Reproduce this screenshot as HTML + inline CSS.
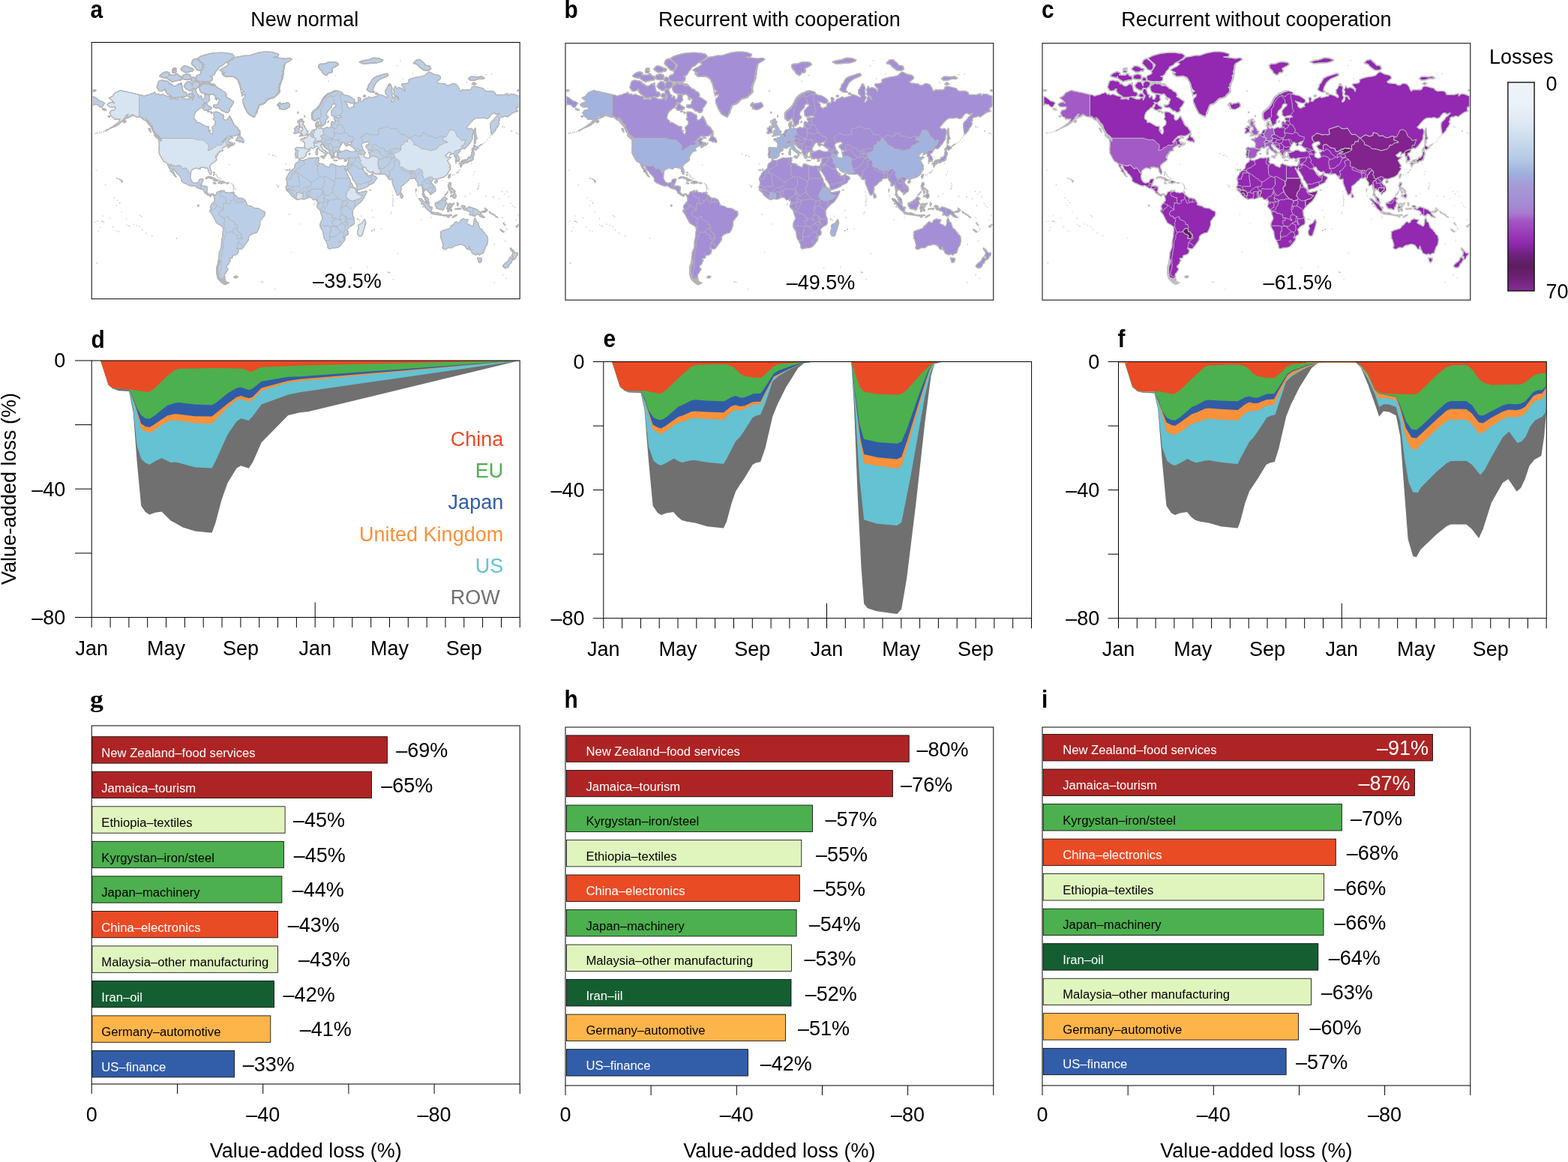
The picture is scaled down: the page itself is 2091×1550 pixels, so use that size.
<!DOCTYPE html>
<html><head><meta charset="utf-8"><title>Figure</title>
<style>html,body{margin:0;padding:0;background:#fff}svg{display:block}</style></head>
<body>
<svg xmlns="http://www.w3.org/2000/svg" width="2091" height="1550" viewBox="0 0 2091 1550">
<rect width="2091" height="1550" fill="#fff"/>
<defs>
<path id="mland" d="M267.7,94.9L267.5,95.8L268.2,97.6L266.4,99.5L266.2,99.5L265.8,99.5L262.6,100.7L262.0,101.3L261.2,104.0L261.2,104.4L260.9,104.1L257.8,103.0L256.7,103.2L255.2,104.7L254.9,105.4L254.9,107.3L255.1,108.0L255.8,108.3L258.9,108.6L258.2,109.1L256.6,111.4L256.4,111.9L256.4,114.3L256.4,113.8L256.3,113.4L254.4,109.9L253.6,109.4L250.5,109.0L249.6,109.3L247.3,111.6L247.1,111.8L245.6,114.1L245.4,114.7L245.6,115.2L247.1,117.6L247.4,117.8L249.8,119.4L249.9,119.5L253.0,121.0L253.7,121.1L254.2,120.8L256.6,118.5L256.8,117.7L257.2,118.0L258.2,118.2L255.9,120.8L256.2,124.6L259.5,127.9L257.8,131.6L256.6,133.9L256.6,130.9L255.0,130.2L257.2,129.7L257.6,129.4L257.8,128.8L257.4,126.2L256.9,125.5L253.7,124.5L252.9,124.7L250.5,127.4L250.3,128.1L250.8,128.7L253.9,130.3L254.0,130.3L252.7,132.2L247.2,132.2L242.4,130.2L241.5,129.2L242.5,129.1L246.3,129.4L246.9,129.2L249.3,126.9L249.5,126.0L248.7,123.7L248.1,123.1L245.2,122.5L244.0,121.1L243.2,117.6L242.4,113.7L241.9,113.1L238.8,112.0L238.0,112.1L235.7,114.0L233.0,115.0L230.2,114.0L228.0,111.8L227.2,111.6L225.6,112.1L226.0,111.7L226.2,111.1L225.9,110.6L223.2,108.3L222.7,108.1L219.7,108.1L216.7,107.0L216.2,106.9L212.2,108.1L211.7,108.6L210.4,112.1L210.4,112.1L209.3,116.4L209.4,117.0L211.8,120.9L212.3,121.3L214.7,121.6L215.1,121.6L218.2,120.5L218.5,120.3L220.4,118.8L220.4,118.9L220.8,119.3L221.4,119.6L220.9,119.7L220.4,120.2L220.4,120.9L222.0,123.6L222.1,123.8L224.5,126.2L224.7,126.3L227.7,127.9L229.2,129.8L229.7,130.1L234.5,130.4L234.7,130.4L236.8,130.0L237.7,130.9L236.9,133.2L234.5,131.6L229.8,132.2L226.6,131.9L228.2,130.9L226.6,128.6L223.5,128.3L220.3,127.3L216.4,125.6L212.4,127.0L211.6,124.9L209.3,126.3L206.1,122.9L203.7,124.6L201.4,124.9L198.2,126.6L195.1,127.0L191.9,128.3L188.7,126.6L185.6,126.3L179.3,124.9L174.5,123.6L171.4,123.2L168.2,122.2L165.1,121.9L161.0,120.5L157.2,122.2L153.2,123.9L150.1,128.3L145.3,130.6L150.1,134.5L152.7,137.8L149.3,136.2L145.6,137.4L142.9,139.3L143.7,140.6L145.6,142.5L148.0,142.8L150.8,142.8L153.2,142.5L154.3,143.5L153.2,146.0L150.8,146.9L148.5,147.1L147.7,148.3L146.1,150.8L147.2,152.2L147.7,154.4L150.1,156.3L152.4,157.1L152.7,159.2L155.1,158.9L157.6,159.2L160.0,158.9L159.5,160.5L158.0,163.2L155.6,165.0L153.2,166.6L150.8,168.5L148.5,170.1L150.8,169.6L154.0,168.3L156.4,167.2L158.7,165.3L161.1,163.7L162.7,161.8L164.7,159.7L165.8,157.4L167.7,155.2L169.3,153.0L171.4,152.4L169.3,155.0L168.7,157.9L171.7,156.6L173.7,155.8L174.8,153.6L177.2,153.0L179.3,154.7L181.6,155.8L185.1,156.1L188.0,156.6L190.6,158.9L192.7,160.5L194.6,160.2L196.6,161.0L197.9,163.7L199.3,165.8L200.6,168.0L202.5,169.1L203.0,171.2L204.9,173.8L206.4,176.8L207.2,179.6L209.6,180.6L211.6,182.1L213.7,183.5L214.3,184.5L215.1,186.4L214.8,188.5L213.7,186.4L211.3,185.9L212.0,188.5L212.4,191.0L212.4,193.8L212.3,196.4L211.8,198.8L212.3,201.3L212.0,203.6L212.7,205.1L213.2,206.9L214.6,208.7L215.1,210.1L215.9,211.7L217.5,213.9L218.0,215.4L220.0,216.0L221.3,216.7L222.7,217.7L223.3,219.2L224.1,221.0L225.1,222.9L225.9,224.5L227.4,226.0L227.9,227.4L227.0,228.3L228.9,229.7L230.6,230.6L230.9,232.0L231.9,233.7L233.4,235.1L234.7,236.3L235.3,235.6L234.1,234.3L233.1,233.1L232.5,231.0L231.4,229.2L230.4,227.4L229.2,225.3L227.4,223.4L226.8,221.6L227.4,220.7L229.3,221.6L230.1,223.3L230.9,225.3L232.2,226.9L233.8,228.3L235.2,229.5L235.6,231.3L237.4,232.5L239.3,234.4L240.9,236.7L242.0,238.7L241.6,240.4L242.4,242.1L244.3,243.6L246.4,244.6L248.3,245.4L250.8,246.6L253.2,247.6L255.4,248.2L257.4,248.2L259.0,247.6L260.4,248.4L262.5,250.2L263.8,251.0L265.7,251.3L267.4,252.1L269.3,252.5L270.2,253.0L271.5,254.4L272.8,256.0L273.1,257.6L274.3,258.1L276.1,258.9L276.5,260.0L277.5,260.5L279.2,261.0L280.3,261.9L281.6,261.8L281.4,260.5L282.4,259.7L283.5,259.4L284.6,260.8L285.2,262.1L286.0,264.0L286.0,265.6L286.3,267.5L285.5,269.1L284.3,269.6L283.8,271.0L282.7,271.9L281.9,272.7L281.3,274.0L280.7,275.1L280.5,277.0L281.4,277.4L281.9,278.2L281.1,279.2L279.9,280.8L280.0,282.2L280.7,283.3L282.2,284.9L283.5,287.0L284.4,288.9L285.4,290.7L286.3,292.6L287.4,294.2L287.9,295.8L289.3,297.8L291.4,299.1L293.8,300.3L295.5,301.6L297.1,303.1L297.4,304.9L297.6,307.4L297.2,310.0L296.9,312.6L296.8,315.2L296.3,317.8L295.7,320.1L295.5,322.3L295.2,325.0L295.3,327.8L294.9,330.7L293.8,333.1L293.0,335.5L292.2,336.9L292.2,339.5L291.9,342.5L291.5,345.7L293.0,347.8L293.0,349.9L292.2,352.8L290.9,355.0L289.0,356.6L288.9,359.0L289.0,362.5L289.2,366.2L289.8,369.2L290.9,372.0L293.0,374.4L295.3,376.6L297.7,378.5L300.1,379.6L303.2,378.5L305.3,377.1L303.2,376.6L300.9,375.2L300.4,372.6L299.0,371.8L296.9,373.9L296.4,372.0L298.5,371.3L300.2,370.7L299.3,368.2L299.6,365.7L301.5,363.7L302.8,361.3L304.3,359.0L302.8,357.6L301.7,355.5L303.2,353.7L305.1,352.1L305.6,349.5L307.5,347.8L305.9,346.7L305.6,344.6L308.0,344.8L309.9,343.8L310.0,341.5L311.1,340.5L313.5,340.3L315.9,339.3L317.3,337.5L318.2,335.1L317.8,333.1L316.0,331.8L316.2,330.7L318.2,331.6L320.1,332.2L322.2,332.0L323.8,330.7L325.2,329.1L326.4,326.9L328.0,325.0L329.3,323.0L330.9,321.0L331.5,319.2L331.5,316.9L332.1,315.2L334.0,313.4L335.9,312.4L337.7,311.4L340.0,310.8L342.1,310.5L343.5,308.4L344.6,306.2L345.4,304.1L346.2,302.1L346.7,299.9L346.7,297.5L346.7,295.5L347.8,293.9L349.0,292.3L350.1,290.7L351.7,289.1L352.8,287.5L353.3,285.4L353.1,284.1L352.7,282.2L351.4,281.6L349.8,281.2L348.2,280.1L346.3,278.9L344.3,277.9L341.9,277.9L339.6,277.4L338.0,277.3L336.7,276.0L334.8,275.1L332.8,274.6L331.7,274.3L330.1,273.8L328.5,273.2L329.4,271.6L328.5,270.3L327.7,268.8L326.9,266.7L325.3,265.8L323.8,264.8L322.2,264.3L319.8,264.3L317.4,263.8L315.9,262.4L313.8,260.3L312.2,259.9L311.9,258.3L310.3,257.6L309.2,256.5L307.2,256.8L305.6,257.5L303.2,256.7L300.9,256.8L300.1,256.0L298.2,255.2L297.7,254.1L297.4,255.2L296.1,255.9L295.3,256.3L294.9,255.5L295.8,254.4L295.0,253.8L293.8,254.7L292.2,255.5L290.1,255.9L289.0,256.7L288.7,258.3L287.8,259.4L287.0,260.8L286.0,259.9L285.1,259.2L283.8,258.6L282.5,258.4L281.4,259.1L280.0,259.5L278.8,259.1L277.5,258.1L276.4,256.7L275.9,255.7L276.2,253.6L276.5,251.5L276.7,249.5L275.6,248.7L274.0,248.1L271.7,248.2L269.6,248.2L268.0,248.1L268.8,246.6L269.0,244.9L269.6,243.9L270.1,241.9L271.2,239.9L270.5,238.7L268.0,238.7L265.8,239.6L265.3,240.4L264.9,242.4L263.8,243.6L261.7,243.8L259.5,244.3L258.2,243.6L256.6,242.9L255.9,241.6L254.4,239.1L253.8,236.5L254.0,233.6L254.6,231.0L254.6,228.5L255.9,226.9L257.8,225.8L259.0,224.7L261.4,224.3L263.8,224.7L265.8,225.4L267.2,225.1L266.8,223.4L267.7,223.3L269.6,223.3L272.0,223.1L273.7,224.3L275.1,223.8L276.4,224.2L277.7,226.0L277.8,228.3L279.1,230.8L280.0,232.4L281.1,232.4L281.6,231.5L281.8,229.2L281.0,226.5L279.9,224.2L279.7,222.3L280.3,220.3L281.9,219.0L283.5,217.3L285.4,216.3L287.4,214.8L288.9,213.3L288.4,211.3L287.4,210.1L287.8,207.5L288.2,210.5L288.9,208.9L289.7,207.3L289.2,205.5L290.1,206.5L291.2,204.9L291.4,203.2L293.8,202.6L291.7,202.6L293.8,201.8L295.7,201.3L297.7,200.9L296.9,200.5L296.4,198.8L297.1,197.1L298.5,196.2L300.1,195.3L302.1,194.6L302.4,193.8L304.0,193.3L305.9,193.3L303.7,195.3L304.3,197.1L306.4,196.0L308.0,194.6L311.6,193.3L311.6,192.5L310.3,192.0L308.0,191.7L306.1,191.0L305.9,189.2L304.3,188.0L304.8,186.6L306.7,185.4L305.9,184.2L303.2,184.2L300.1,186.2L297.7,189.2L295.8,189.7L296.9,188.7L299.3,185.7L301.7,183.8L302.9,182.1L306.4,181.3L310.3,181.6L313.5,181.3L315.9,180.1L318.6,178.3L320.3,176.5L319.8,174.4L317.8,172.8L316.7,170.1L313.5,168.3L311.6,165.6L310.0,161.8L308.0,158.4L306.1,154.7L304.3,157.6L302.4,159.7L300.1,160.5L298.2,158.4L298.5,155.8L297.7,153.0L295.3,152.7L293.8,151.3L291.4,149.7L288.2,149.1L285.1,149.4L285.1,153.6L285.9,156.3L284.3,158.9L285.9,160.2L287.3,162.9L286.7,166.4L284.3,168.3L282.7,170.4L283.5,173.0L283.8,176.2L282.7,178.8L281.1,178.8L280.3,177.0L278.4,174.6L278.4,172.5L278.3,168.8L274.0,168.3L270.9,166.6L268.5,165.0L264.9,163.2L262.3,163.7L261.7,160.5L259.3,159.2L258.5,157.1L258.9,154.4L260.1,150.8L262.2,148.0L265.3,146.0L266.1,144.4L268.5,143.8L270.5,140.3L272.3,138.7L272.0,141.7L270.4,144.1L270.4,144.5L270.5,144.8L272.9,147.2L273.3,147.4L275.7,147.1L275.8,147.0L278.1,146.2L280.3,146.2L280.8,145.9L282.0,144.0L282.1,143.7L281.9,143.3L279.8,142.1L279.8,142.1L277.5,140.8L275.7,138.7L275.3,138.5L272.8,138.2L272.5,138.3L271.3,136.5L273.5,137.1L275.9,137.4L278.3,135.2L279.9,132.9L278.8,130.2L279.5,127.6L277.2,126.0L273.2,126.0L273.2,129.3L271.7,132.6L269.3,132.2L269.3,129.3L267.7,127.6L266.1,130.2L264.5,129.9L265.3,126.6L263.0,126.0L261.7,121.9L260.6,118.9L258.9,118.4L260.4,118.7L261.2,118.6L265.2,115.5L265.5,114.9L266.6,111.1L266.6,110.4L266.1,109.9L262.6,108.3L262.1,108.2L260.4,108.4L260.8,108.0L261.5,105.4L262.0,106.9L262.6,107.5L265.8,108.7L266.0,108.7L270.8,109.1L270.9,109.1L279.5,109.1L280.1,108.9L282.5,107.4L282.9,106.6L282.9,103.5L282.7,102.9L282.3,102.6L280.4,101.9L282.9,101.5L283.3,101.3L285.7,99.3L286.0,99.0L287.5,95.6L290.5,92.5L290.7,92.3L292.1,89.4L296.6,87.3L296.8,87.1L299.9,84.0L304.5,81.8L304.6,81.8L309.3,78.6L309.5,78.4L311.9,75.7L312.1,75.0L311.8,74.3L309.5,72.0L308.9,71.8L302.6,70.8L302.5,70.8L297.8,70.4L297.7,70.4L291.4,70.4L291.3,70.4L285.0,70.8L284.9,70.8L278.6,71.8L278.5,71.8L272.2,73.6L272.1,73.6L267.3,75.4L267.2,75.5L264.0,77.3L263.6,78.1L263.9,79.0L267.1,81.7L267.1,81.7L270.2,84.4L270.2,84.4L272.8,86.7L271.6,89.5L269.4,92.5L270.4,90.7L270.6,89.8L269.8,85.3L269.4,84.5L265.4,80.9L265.3,80.8L262.1,78.5L260.9,78.4L257.7,79.7L257.0,80.4L255.5,84.0L255.4,84.8L255.7,85.5L258.9,88.6L262.8,93.1L263.6,93.6L267.6,94.0L268.7,93.5ZM229.8,93.2L234.5,93.2L235.3,91.4L231.4,90.9ZM253.5,94.5L256.6,95.4L258.2,92.7L255.9,90.9L254.6,91.6L254.6,91.5L254.1,90.8L250.9,89.0L250.6,88.8L245.8,87.9L244.7,88.3L241.6,91.4L241.2,92.4L241.8,93.3L246.5,96.4L247.3,96.6L252.0,96.2L253.0,95.5L253.5,94.5ZM232.2,93.6L229.8,95.0L229.8,96.7L233.8,97.4L235.3,95.0ZM222.7,104.3L222.9,104.7L226.1,107.0L226.1,107.0L229.3,109.0L230.1,109.1L234.0,107.9L237.9,107.2L241.0,106.8L241.6,106.5L241.9,105.9L242.2,102.9L242.0,102.2L241.4,101.8L238.3,101.1L237.0,98.8L236.4,98.4L235.6,98.5L232.7,100.2L229.1,100.2L226.0,99.9L225.5,99.9L225.1,100.0L226.0,98.2L226.0,97.4L225.4,96.9L222.2,95.7L221.5,95.7L216.8,97.6L216.5,97.8L213.4,100.5L213.0,101.1L213.2,101.8L213.7,102.2L218.4,103.7L219.1,103.7L219.8,103.5L219.5,103.9ZM222.5,102.6L222.5,102.7L222.2,102.7ZM254.5,101.2L254.3,100.7L253.9,100.3L249.9,98.8L249.2,98.8L244.5,100.3L243.8,101.0L243.0,104.0L243.2,104.8L243.8,105.3L248.5,106.4L248.8,106.4L253.6,106.0L254.2,105.7L254.5,105.0ZM240.1,112.3L242.4,112.7L242.4,111.2L240.9,110.8ZM124.0,121.9L127.2,121.5L127.9,120.5L124.0,119.7ZM138.2,139.7L139.8,137.8L136.6,135.5L133.5,134.9L130.3,132.2L127.2,129.9L124.0,128.6L124.0,141.2L126.4,138.7L127.9,139.7L130.3,139.7L131.9,141.6L134.3,143.1L136.2,143.1ZM139.8,145.4L136.9,145.0L136.9,146.3L139.8,146.9L141.7,146.6ZM279.5,148.8L278.8,148.3L277.2,147.7L276.7,148.8L278.0,149.4ZM281.1,149.1L281.4,150.8L282.4,151.3L283.0,150.2ZM144.1,155.2L146.1,156.3L146.6,155.0L145.3,154.7ZM167.4,160.5L165.4,161.0L164.3,162.3L165.8,163.7L167.7,162.3ZM200.3,173.6L200.1,171.7L198.2,171.5L199.3,173.8L201.1,176.5ZM281.1,174.4L279.1,173.8L280.3,174.9ZM208.5,183.3L210.9,185.2L213.2,186.2L213.2,184.5L210.9,182.1L208.5,180.6L205.6,180.3ZM159.2,238.9L158.4,238.7L158.9,239.2ZM161.7,239.9L160.8,239.7L161.3,240.2ZM161.9,240.9L161.9,242.1L162.7,242.9L163.5,241.6ZM263.8,274.0L264.2,275.1L265.3,274.3L264.5,273.5ZM315.1,103.5L317.4,107.3L319.8,111.6L320.6,115.8L322.2,119.3L325.3,121.9L321.9,123.6L323.8,127.0L327.7,126.0L326.9,128.9L324.1,131.6L323.4,134.9L324.2,138.1L325.8,141.2L327.2,144.4L328.8,147.4L330.4,150.2L331.7,152.4L334.0,153.6L336.4,155.0L338.3,156.1L339.9,155.2L340.7,153.0L341.1,150.2L342.7,147.4L344.1,144.4L345.1,141.2L347.5,139.3L350.6,138.7L353.8,137.1L356.1,133.9L358.5,131.2L362.5,130.9L366.4,129.3L368.0,126.3L370.4,124.3L373.5,122.9L373.0,119.3L370.4,116.6L373.5,115.4L371.9,112.7L374.3,110.0L375.9,107.3L377.5,104.3L375.1,101.2L378.2,98.6L376.7,95.4L379.0,91.8L378.2,87.7L380.6,84.6L385.4,81.8L389.3,79.1L386.1,77.3L379.8,78.2L373.5,77.3L364.0,76.4L370.4,75.5L371.9,72.3L365.6,70.0L359.3,69.1L351.4,69.1L343.5,70.5L337.2,72.3L332.4,74.1L326.1,74.1L319.8,75.5L313.5,76.4L310.3,79.6L306.4,80.9L302.4,83.7L305.6,85.5L301.7,88.6L296.9,90.9L293.0,93.6L296.1,95.4L300.1,97.0L296.1,98.6L298.5,101.2L301.7,102.4L306.4,102.0L311.1,102.0ZM278.1,110.4L277.8,110.4L274.9,112.2L272.7,110.1L272.3,110.0L269.2,110.8L269.0,110.9L266.7,112.8L266.5,113.0L265.7,116.9L265.7,117.1L266.5,120.6L266.6,120.7L268.2,123.1L268.3,123.3L271.5,124.6L271.6,124.6L274.7,125.3L274.8,125.3L278.7,125.7L281.8,126.3L282.1,126.3L284.2,125.4L286.3,127.5L287.9,130.1L288.1,130.3L291.2,131.3L292.8,133.0L291.7,135.3L291.6,135.4L291.0,138.5L288.9,140.2L285.1,140.2L284.8,140.3L284.7,140.7L285.0,142.9L285.1,143.1L285.3,143.2L288.1,143.8L288.3,143.9L291.3,143.6L294.3,146.0L296.6,148.3L296.9,148.4L299.1,148.4L300.6,149.9L300.9,150.1L304.0,150.1L304.3,149.9L306.2,147.7L306.3,147.4L306.0,144.5L308.3,142.1L308.3,142.1L309.9,139.6L309.9,139.5L311.5,136.7L311.5,136.3L310.7,134.7L310.5,134.5L308.2,133.5L305.9,131.6L305.8,131.5L301.3,129.1L302.0,126.7L302.0,126.4L300.4,123.4L300.2,123.2L297.2,121.9L294.8,119.4L294.7,119.3L291.6,118.2L289.3,115.9L289.2,115.9L286.8,114.7L286.8,114.7L285.2,114.2L287.4,113.9L285.1,112.3L280.9,112.0L280.7,111.4L280.5,111.2ZM281.5,113.9L283.2,114.1L281.7,114.6ZM286.7,131.6L289.0,133.2L289.8,131.9L288.2,130.6ZM379.0,146.3L381.4,145.4L384.1,143.8L386.1,142.5L386.6,140.3L384.9,137.4L383.0,136.5L381.4,137.8L379.0,137.8L376.7,138.1L375.1,139.3L373.5,136.8L371.9,137.4L369.9,139.7L372.7,140.3L370.4,141.6L372.7,141.9L373.5,143.5L372.4,145.0L374.3,145.0L376.4,146.0ZM398.0,149.4L396.6,149.7L397.5,151.1ZM406.7,154.7L405.9,154.1L406.2,156.1ZM438.1,161.3L437.0,163.4L438.3,162.6ZM425.9,168.3L427.5,169.1L428.1,167.2L427.2,166.1ZM425.1,167.7L423.8,168.5L424.0,167.7L425.3,165.6L424.7,164.0L425.0,161.8L423.6,162.9L421.7,163.4L421.2,165.0L421.2,167.7L421.8,169.3L422.1,171.7L421.2,172.8L419.6,172.8L418.5,173.0L416.6,173.6L415.7,174.9L414.9,177.0L413.8,178.3L412.5,179.1L411.1,179.6L410.8,180.8L410.1,182.1L408.6,183.3L407.5,183.8L406.4,183.3L405.6,183.0L405.9,185.2L405.1,185.4L403.5,185.0L401.9,185.2L400.8,186.2L401.6,187.3L403.5,187.8L404.6,188.5L405.1,189.7L406.2,190.8L406.5,192.2L406.4,193.8L406.2,195.5L405.7,197.3L404.3,197.3L402.7,197.1L400.4,197.1L398.0,196.8L396.1,196.4L395.1,197.1L393.7,198.1L394.2,199.9L394.5,202.0L394.2,204.1L393.7,205.7L393.4,206.9L394.4,207.7L394.4,208.7L394.2,210.5L395.9,210.5L397.2,210.1L398.1,210.9L398.8,212.1L399.9,212.3L401.3,211.1L403.0,211.1L404.8,210.9L405.7,209.9L407.0,209.1L407.5,207.9L408.6,206.9L407.8,205.7L408.2,204.7L409.4,203.0L410.1,202.2L411.9,201.6L413.3,200.5L413.1,199.2L413.5,197.7L414.6,197.1L416.1,197.3L417.7,197.9L419.0,197.5L420.1,196.4L421.2,196.0L422.1,195.1L423.3,195.3L424.4,196.4L424.8,198.1L425.6,199.2L426.7,199.9L427.7,200.9L428.8,201.8L430.0,202.0L431.1,203.2L431.9,204.1L432.9,204.5L433.5,205.5L433.5,206.9L433.0,208.3L433.7,208.7L434.3,207.3L435.3,206.5L434.5,205.3L434.6,204.5L435.4,203.6L437.0,204.9L437.5,204.3L436.7,203.4L435.1,202.4L433.5,201.6L433.5,200.5L431.6,200.3L430.4,198.8L429.7,197.1L428.5,196.0L427.8,194.9L427.8,192.9L429.1,192.0L429.7,192.6L430.0,194.0L431.0,193.3L431.9,194.6L432.7,196.0L434.0,197.1L435.6,197.9L437.1,199.0L438.3,199.9L439.0,200.7L438.9,202.4L439.0,203.9L440.1,205.3L441.1,206.5L441.7,207.7L443.8,207.9L441.9,207.9L442.0,209.5L442.7,210.9L443.5,211.5L444.3,211.3L444.9,209.9L445.0,208.7L446.1,209.1L446.1,208.1L444.9,207.1L444.3,205.9L444.1,204.5L444.6,203.6L445.4,204.5L446.1,203.9L446.9,202.6L448.5,202.6L449.6,203.0L450.9,203.0L452.5,202.4L454.0,202.0L454.8,202.4L454.0,203.4L451.7,203.6L449.6,204.1L449.6,205.5L450.6,205.5L450.9,206.7L450.1,207.9L451.2,208.9L451.7,210.5L452.9,211.1L454.5,212.1L456.1,211.9L456.9,210.9L458.8,212.1L460.4,212.3L461.9,211.9L463.0,210.9L464.3,211.3L465.4,211.1L464.8,212.5L464.9,214.4L464.3,216.5L463.5,218.4L463.0,220.1L462.3,221.4L460.4,221.8L458.8,221.6L457.2,221.0L455.3,221.6L453.3,222.0L450.9,221.4L448.0,220.9L446.9,220.1L444.9,219.6L443.0,218.4L441.1,218.8L439.8,220.1L439.8,222.2L438.6,223.3L436.7,222.5L434.3,221.6L432.6,220.9L431.9,219.4L429.6,218.4L427.7,218.4L425.9,217.9L424.8,216.9L424.2,215.8L425.3,214.0L424.8,212.5L425.6,210.5L424.4,211.3L424.5,210.3L423.7,209.9L421.7,210.7L419.3,210.5L416.9,211.1L415.4,210.7L413.0,210.7L410.6,211.5L408.6,212.5L406.7,213.1L405.1,214.2L403.5,213.9L401.1,214.0L399.9,212.7L398.9,212.9L398.5,214.0L397.8,215.8L396.7,216.7L394.8,217.7L393.6,219.6L392.8,221.4L392.9,223.3L392.1,224.9L390.9,226.0L389.3,227.2L387.7,227.8L386.9,229.2L385.5,230.4L384.9,231.8L384.1,233.6L383.0,235.0L382.2,237.0L381.4,239.1L381.7,239.6L382.4,241.6L382.8,242.9L382.8,244.9L382.4,247.1L381.7,248.7L380.8,250.0L382.0,251.2L381.7,252.3L381.9,253.9L383.3,254.9L384.6,256.0L385.4,256.8L386.6,257.9L387.2,259.2L388.0,260.5L389.3,261.6L390.6,262.7L392.0,263.7L393.6,264.8L395.1,265.9L396.4,266.5L398.8,265.8L400.4,265.4L401.9,265.3L403.5,265.6L405.1,265.9L406.7,265.4L408.2,264.8L409.8,264.2L411.4,263.5L413.5,263.4L415.4,263.7L416.6,265.1L417.4,266.5L418.8,266.7L420.1,266.4L422.0,266.2L422.9,267.2L423.7,268.4L423.7,269.9L423.3,271.4L423.3,273.0L422.5,274.3L422.5,275.4L423.3,277.0L424.5,278.2L426.1,279.8L427.2,281.4L427.5,283.0L428.1,285.1L428.8,287.5L429.6,289.1L430.0,291.0L429.7,292.9L428.5,294.7L427.5,297.1L426.9,299.1L426.9,301.6L427.5,303.6L428.8,305.7L429.9,307.4L431.0,309.6L431.0,311.7L431.6,314.3L431.9,316.9L432.7,318.7L434.0,320.5L435.1,322.3L435.9,324.7L437.0,326.9L437.0,328.8L437.5,331.0L439.0,332.0L440.6,331.8L443.0,331.0L445.4,330.7L447.7,330.7L449.3,330.3L451.4,329.7L453.3,328.2L454.8,326.5L456.4,324.7L457.7,322.7L459.3,321.0L460.0,318.9L459.9,316.9L460.4,315.2L461.9,314.1L464.0,313.1L464.3,310.8L464.0,308.8L463.0,307.1L463.5,305.6L465.1,303.9L466.7,302.4L468.3,301.2L470.6,300.3L472.2,298.8L472.7,297.1L472.4,295.0L472.2,292.6L472.0,290.2L471.1,289.1L470.3,286.5L470.5,284.4L469.5,283.0L470.3,280.8L471.4,279.0L472.2,277.6L473.5,276.3L474.6,275.1L476.2,273.5L478.2,271.6L480.6,270.0L482.5,268.0L484.1,265.6L485.6,263.2L486.9,260.8L488.0,258.7L488.9,256.8L489.1,254.7L488.0,254.7L485.6,255.5L483.3,255.9L480.9,256.5L478.5,257.0L476.9,255.7L475.8,255.2L476.6,255.1L476.5,253.6L474.9,252.3L473.5,250.8L471.9,249.7L470.6,248.7L469.8,246.6L469.0,244.4L467.3,243.1L467.2,240.8L466.7,239.1L465.9,237.4L464.6,235.5L464.0,233.9L462.9,231.7L461.9,229.5L461.2,227.6L460.0,226.0L459.4,224.3L459.9,224.0L460.7,225.8L461.3,226.9L462.3,227.8L462.7,227.1L463.4,224.7L463.7,227.2L464.6,228.7L465.9,230.4L466.8,231.7L467.5,233.2L468.7,234.8L469.8,236.7L470.0,238.7L470.9,240.2L472.5,241.8L473.5,243.6L474.6,245.4L475.7,247.1L475.8,248.7L476.0,250.4L476.6,252.3L477.4,253.4L479.3,253.1L480.9,252.3L483.3,251.7L485.6,251.0L488.0,249.5L490.7,248.6L491.2,247.4L493.5,246.4L495.4,245.4L497.5,244.6L499.4,243.1L499.7,241.6L500.9,240.2L502.2,238.7L502.7,237.2L501.7,236.3L500.6,235.1L498.7,234.6L497.6,233.6L497.2,232.2L497.3,230.4L496.7,231.0L495.6,232.4L494.3,233.9L492.7,234.3L490.8,234.3L489.3,233.9L489.6,233.1L489.7,231.7L489.1,230.8L488.5,231.7L488.2,232.7L487.4,231.5L487.5,230.3L486.7,229.4L485.6,228.3L484.8,226.9L484.2,225.6L483.9,224.2L484.8,223.8L485.6,223.1L487.2,223.4L488.0,224.5L488.8,226.2L489.6,227.6L491.2,228.3L492.7,229.5L494.3,229.9L495.9,229.5L497.5,229.0L498.3,230.4L499.5,231.7L501.4,232.0L503.8,232.2L505.8,232.5L507.7,232.4L509.8,232.4L511.7,232.2L513.3,232.2L514.1,233.4L515.2,234.8L516.4,235.5L517.5,236.3L519.3,236.2L518.8,236.8L517.2,237.4L518.3,238.6L519.6,239.7L521.2,239.7L522.3,239.2L522.7,238.4L523.1,239.6L523.2,241.3L523.2,242.9L523.5,244.9L524.2,246.7L524.8,248.4L525.6,250.0L526.2,251.8L526.7,253.6L527.5,255.2L528.3,256.8L528.9,258.7L529.8,260.2L530.6,260.7L531.4,260.0L532.2,259.2L533.3,258.4L534.3,257.1L534.3,255.7L534.6,253.9L535.1,252.3L534.6,250.4L535.1,248.6L536.6,247.6L538.2,246.6L539.8,244.9L541.2,243.6L542.5,242.1L544.1,241.4L545.3,240.4L545.6,238.9L546.9,238.2L548.0,238.4L549.6,238.2L551.2,237.9L552.0,237.0L553.2,237.4L553.8,239.4L554.8,240.6L555.9,241.8L556.7,242.9L557.5,244.6L557.2,246.3L557.5,247.9L558.7,248.2L560.2,247.4L561.3,246.3L562.4,247.1L562.5,248.7L563.0,250.4L563.5,252.3L564.1,254.1L564.1,256.0L564.0,257.6L563.3,259.2L563.6,260.7L564.6,261.1L565.5,262.1L566.3,263.1L566.6,264.2L566.8,265.6L567.3,267.2L568.1,268.4L569.0,269.4L570.6,270.7L571.9,271.4L572.8,271.1L571.9,269.4L571.5,268.1L571.7,266.7L571.2,265.3L570.1,264.0L569.0,263.1L568.1,262.6L567.0,261.9L566.3,260.2L565.9,258.9L564.9,258.3L565.1,256.3L565.9,254.9L566.2,253.6L566.5,252.1L567.6,252.1L567.7,253.3L569.6,253.9L570.6,254.7L571.2,256.0L571.9,256.7L573.0,256.8L574.1,257.3L573.7,258.1L573.9,259.9L574.9,259.2L576.4,258.4L576.7,257.3L577.7,256.8L579.3,256.0L580.7,254.7L580.9,253.1L580.7,251.2L580.1,249.2L579.1,247.9L577.7,246.7L576.4,245.3L575.3,243.8L575.3,242.6L576.4,240.9L577.2,239.6L578.8,238.7L580.1,238.6L581.6,238.9L581.6,240.6L582.4,240.8L582.7,239.2L584.3,238.7L585.9,238.2L587.5,237.5L589.1,237.0L591.0,236.5L592.7,235.6L594.3,234.4L595.5,233.4L597.0,232.0L597.4,230.4L598.5,228.8L599.8,227.2L600.6,225.8L600.6,224.0L599.0,223.3L600.8,222.2L600.6,220.5L599.3,219.2L598.5,217.3L597.4,215.6L596.6,214.2L598.1,212.7L599.0,211.7L600.9,210.7L601.5,209.7L599.3,209.1L597.8,209.7L596.2,209.7L594.9,208.5L594.0,207.3L594.6,206.3L596.2,205.7L597.8,204.1L599.3,202.8L600.9,203.6L600.6,205.5L599.6,206.9L601.2,206.1L603.0,205.1L604.5,204.7L606.1,205.5L605.6,207.3L606.0,208.9L607.5,209.1L608.0,210.5L608.3,211.5L607.9,213.5L607.7,215.4L608.8,215.2L610.4,214.8L612.0,214.2L612.8,212.9L612.6,210.9L611.6,209.1L610.7,207.3L609.4,206.1L609.8,204.9L611.6,204.1L613.1,202.8L613.5,200.9L614.6,199.6L615.6,198.8L617.2,197.7L619.1,198.6L621.4,197.1L623.0,195.1L624.6,193.3L626.5,190.8L627.8,188.7L629.6,186.2L630.1,183.8L630.1,180.8L630.9,178.3L631.4,175.7L630.6,173.0L628.5,171.2L626.2,172.3L624.3,171.7L622.2,169.9L624.6,167.2L627.0,164.2L629.3,161.8L631.7,159.4L634.9,157.6L638.0,157.6L641.2,157.6L644.3,156.8L646.7,157.6L649.1,158.4L652.2,157.1L653.8,154.4L657.0,151.1L660.6,151.1L661.4,153.0L664.1,151.6L666.4,151.1L663.3,154.4L660.4,156.6L657.8,160.5L655.9,161.8L654.1,164.5L653.8,168.5L654.3,172.3L654.9,176.5L655.7,179.6L657.0,178.3L658.5,176.5L660.6,174.4L661.4,171.7L663.8,169.1L664.9,166.4L666.0,164.8L664.4,162.3L666.0,161.0L666.1,157.6L668.0,156.3L670.4,156.3L673.5,154.7L676.7,156.1L678.3,154.7L681.4,152.4L684.6,150.2L687.8,149.1L690.9,148.3L688.6,146.9L689.3,142.8L690.9,143.1L692.5,141.2L692.5,128.6L688.6,127.0L684.6,125.6L680.7,125.3L677.5,128.3L677.5,124.9L674.3,125.6L671.2,126.6L667.2,126.3L663.3,126.6L660.9,126.0L660.1,123.2L657.0,121.5L653.0,121.5L649.1,121.9L645.9,120.1L644.3,117.8L640.4,117.0L636.4,115.8L632.5,115.1L629.3,116.2L628.5,118.9L626.2,120.1L623.0,119.7L619.9,120.1L616.7,119.7L614.3,121.9L612.8,119.7L611.2,115.8L608.8,112.7L605.6,111.6L602.5,111.6L599.3,113.9L596.2,113.9L593.8,111.9L589.9,111.6L586.7,111.2L583.5,110.8L582.0,109.2L584.3,107.3L587.5,105.0L587.5,102.4L584.3,100.1L581.2,99.7L578.0,98.9L575.6,97.4L572.5,95.9L569.3,97.8L567.0,100.5L563.8,101.6L559.9,102.4L555.9,102.8L552.0,103.9L548.0,105.0L544.8,106.6L545.6,108.9L544.1,110.8L540.1,111.6L536.2,111.9L535.7,113.9L537.7,116.2L540.1,118.9L539.3,122.2L537.7,118.9L535.4,117.8L532.2,116.6L529.1,117.8L526.7,114.7L525.9,117.8L524.3,120.1L525.9,122.2L524.8,125.6L526.4,127.6L529.1,127.6L531.1,129.9L532.2,132.9L530.6,132.2L529.8,129.9L527.5,128.6L525.6,129.9L525.9,132.2L524.8,134.9L522.7,136.5L521.6,135.5L523.5,132.2L524.3,129.6L522.7,127.3L523.1,123.9L522.3,120.8L523.1,117.8L522.0,114.7L519.6,113.9L517.2,114.7L516.1,117.8L513.7,120.5L514.1,122.5L514.1,125.3L515.9,126.6L517.2,128.6L516.1,130.6L514.1,128.9L511.7,127.9L509.3,127.0L506.2,126.0L504.3,126.0L503.8,128.3L501.4,128.6L499.1,129.3L496.7,129.9L494.3,130.6L492.7,128.9L490.4,130.2L487.2,131.6L484.8,132.6L483.6,134.9L481.7,135.5L480.1,134.9L481.4,132.2L480.1,130.2L477.4,130.2L477.7,132.9L478.0,135.5L476.9,137.4L474.6,136.8L472.5,138.4L471.4,140.3L472.2,142.5L470.6,142.5L468.3,143.5L466.7,144.7L464.3,143.1L463.0,141.9L463.0,139.0L461.2,137.1L459.6,134.9L461.2,135.8L463.5,136.2L465.9,137.1L468.3,137.8L470.6,137.8L472.7,136.8L473.3,134.9L472.2,132.6L469.8,130.9L467.5,129.3L465.1,127.9L462.7,127.3L460.4,127.0L458.0,126.0L455.6,125.6L457.2,124.3L455.6,122.9L453.3,122.2L451.7,121.5L449.3,121.2L447.7,121.5L445.4,121.9L443.0,123.2L440.6,124.6L438.3,125.3L436.2,127.0L434.3,128.9L432.4,130.6L431.3,132.2L429.7,134.5L428.5,136.8L427.5,139.0L426.1,141.2L424.8,142.8L423.7,145.0L421.7,145.7L419.8,147.4L418.2,148.3L416.5,149.9L416.0,152.2L416.3,154.4L416.5,157.1L417.4,159.2L419.3,161.0L421.4,160.5L422.9,159.4L424.5,158.4L425.0,157.4L425.9,158.9L426.7,161.3L427.5,163.7L428.3,165.8L428.8,168.0L430.7,168.0L431.1,166.1L433.0,166.1L434.0,164.8L434.5,162.3L434.6,160.0L436.4,158.7L437.9,156.6L437.5,155.2L435.4,153.6L435.6,151.6L436.4,149.4L437.8,147.4L439.8,145.7L441.7,143.5L442.2,141.2L443.5,139.0L446.1,138.7L448.2,139.3L448.0,141.2L446.1,142.8L444.1,145.0L442.4,146.9L441.7,148.8L442.2,151.1L442.0,153.8L443.8,155.0L445.4,156.1L448.5,155.0L451.7,154.4L454.0,154.7L455.9,156.1L454.4,155.8L452.5,157.1L450.1,156.8L447.4,157.1L445.4,157.9L445.5,159.4L446.8,161.0L446.6,163.2L445.4,163.7L444.1,162.1L442.7,162.1L441.7,163.2L441.4,165.0L441.6,166.9L441.4,169.1L439.8,170.4L438.3,170.9L437.5,169.9L435.9,169.6L434.0,170.7L431.9,171.5L430.7,172.0L428.8,170.7L427.2,171.2L425.6,171.7L424.4,170.4L423.6,169.3L423.8,168.5L425.3,168.8ZM452.6,201.1L452.5,200.3L452.0,198.8L452.5,197.5L453.4,196.4L453.6,194.9L455.0,193.3L455.9,192.0L456.9,190.4L458.5,190.1L459.6,191.3L461.2,191.5L461.3,192.0L459.9,192.6L461.0,194.6L462.3,194.9L464.0,193.8L465.9,193.3L466.2,192.9L464.3,192.6L463.5,191.0L465.9,189.9L467.8,189.0L470.2,188.7L468.6,190.1L467.9,191.5L468.7,191.7L467.3,193.1L466.7,194.2L468.6,195.3L470.3,196.6L471.9,197.9L473.6,199.0L474.1,200.7L473.5,201.8L471.4,202.4L469.5,202.4L467.5,202.2L465.9,201.8L464.3,200.9L463.5,200.3L461.9,200.3L460.4,200.5L458.8,200.9L457.5,202.0L455.6,202.2L454.0,202.0ZM482.5,192.4L484.1,190.8L485.6,190.4L487.2,189.9L489.1,189.2L491.2,189.4L492.3,190.8L491.9,193.1L490.4,192.9L489.3,193.1L489.1,194.6L487.7,195.3L488.5,196.4L489.3,197.7L490.8,198.6L491.5,200.3L491.2,201.1L492.4,200.5L494.3,200.5L494.6,202.4L493.2,203.0L491.8,203.0L491.8,204.5L492.7,205.7L493.1,207.5L493.4,209.7L491.9,210.7L490.1,211.1L488.5,210.7L487.2,209.7L485.6,209.3L485.5,207.7L485.9,206.1L486.4,204.1L487.7,203.6L486.4,202.8L485.6,201.3L484.8,200.3L483.7,198.6L483.3,197.1L482.8,195.5L482.2,194.4ZM409.4,178.3L410.1,177.3L410.9,175.4L410.1,174.6L408.7,174.6L408.6,173.0L407.8,171.7L407.0,170.4L405.9,168.5L405.1,166.6L403.5,166.4L404.1,165.0L404.9,162.9L405.4,162.1L403.5,161.8L401.9,162.1L403.0,160.2L403.4,159.4L401.1,159.4L400.2,159.7L399.6,161.5L399.1,163.7L398.5,165.0L399.6,166.4L399.4,168.0L400.5,169.1L400.7,169.9L402.7,169.3L403.0,170.9L403.7,172.3L403.4,173.6L401.3,173.6L401.6,174.9L401.6,176.2L400.0,177.3L401.1,178.1L403.0,178.6L403.5,179.1L401.6,179.1L400.7,180.6L399.2,181.8L401.1,181.3L402.7,181.1L404.3,180.6L406.4,180.3L408.6,180.1L409.8,179.6L410.5,178.8ZM392.5,171.2L392.8,173.0L394.0,173.8L393.1,175.4L392.0,177.0L392.5,178.1L394.0,178.3L395.6,177.5L397.2,176.8L398.8,176.5L398.6,174.4L398.6,172.3L399.4,170.7L398.8,168.8L397.2,168.3L395.3,168.5L394.7,170.4ZM306.4,182.3L308.0,183.8L310.7,184.2L309.6,183.3ZM323.4,184.5L321.9,183.3L320.1,182.5L319.8,180.8L320.4,178.3L318.7,179.1L317.8,180.8L317.0,183.3L315.4,185.2L314.6,187.3L317.4,188.0L320.1,189.4L321.7,188.5L323.3,189.9L324.6,190.1L325.0,188.0L324.1,186.2ZM310.3,190.6L309.6,190.6L306.9,189.9L307.2,190.8L309.1,191.5ZM423.3,200.3L423.1,198.1L421.8,199.4L422.0,200.7L422.8,201.6ZM421.5,204.1L421.5,206.1L422.5,206.5L423.4,206.1L423.6,203.4L422.8,202.0L421.2,202.6ZM412.0,205.3L412.7,205.9L413.6,205.5L413.3,204.7ZM429.6,208.3L428.0,208.5L428.0,209.3L429.3,209.9L430.8,210.7L432.1,211.1L432.3,209.7L432.9,208.1L431.1,208.5ZM385.4,226.2L385.5,227.2L386.3,227.1L386.5,225.8ZM382.8,226.3L381.6,226.7L382.2,227.4ZM284.3,229.7L285.1,230.3L286.3,230.8L286.2,229.9ZM285.4,232.5L284.8,232.7L285.5,233.9ZM286.3,240.4L285.5,241.6L287.4,241.4L289.8,241.4L291.1,240.9L289.8,240.1L288.2,239.2L286.7,238.4L285.1,237.4L283.0,237.0L281.4,236.2L279.5,235.8L277.5,236.0L275.6,236.5L274.2,238.0L275.6,238.2L277.2,237.5L278.8,237.2L280.3,237.7L281.9,238.2L284.0,238.6L284.8,239.9ZM299.3,242.6L298.0,242.3L296.9,241.6L295.0,241.6L293.3,241.4L292.3,241.8L293.3,242.4L293.8,243.6L292.2,243.6L290.6,243.9L292.2,244.3L293.8,244.4L295.0,245.1L296.1,244.3L297.7,244.1L299.3,243.9L300.2,243.6ZM302.1,243.8L302.1,244.6L304.3,244.6L304.5,243.9ZM287.9,244.6L286.7,243.8L284.6,243.9L284.8,244.4L286.7,244.9ZM310.7,256.5L310.7,257.5L311.9,257.5L311.9,256.3ZM422.3,268.0L421.7,267.7L421.8,268.3ZM317.0,368.7L314.3,368.2L311.9,369.5L313.5,370.7L315.9,370.5ZM498.3,77.3L490.4,80.0L484.1,80.9L479.3,82.8L484.1,85.0L490.4,84.6L496.7,84.1L503.0,83.7L509.3,81.8L510.9,80.0L504.6,77.7ZM565.3,93.7L570.9,94.1L571.2,94.1L574.3,92.3L574.5,92.0L574.5,91.6L572.9,88.0L572.5,87.7L568.0,87.3L565.8,84.7L565.7,84.6L562.6,81.9L560.2,79.7L559.8,79.5L555.0,80.4L554.8,80.6L551.6,83.8L551.5,84.1L551.5,84.4L551.8,84.6L556.4,85.9L559.5,89.4L559.6,89.5L565.1,93.6ZM432.4,99.0L432.5,99.0L434.8,100.5L435.1,100.6L435.4,100.5L437.0,98.9L437.1,98.9L438.5,96.8L442.2,96.8L442.5,96.7L442.7,96.4L443.5,93.8L443.3,93.3L442.1,92.2L443.3,90.9L447.9,88.6L448.0,88.6L451.2,86.3L451.4,86.0L451.3,85.6L449.7,83.8L449.4,83.6L444.7,82.7L444.6,82.7L439.8,82.7L439.7,82.7L436.5,83.6L436.5,83.7L433.4,85.0L430.3,85.4L427.2,85.4L426.9,85.5L425.0,86.9L424.8,87.3L425.1,90.1L425.2,90.3L426.8,92.6L426.9,92.6L429.1,94.8L429.9,96.8L430.0,97.1ZM499.4,122.8L499.4,122.5L499.3,122.2L497.1,120.7L497.9,117.1L501.0,111.0L503.3,108.4L507.2,105.4L512.6,103.1L512.6,103.1L517.4,100.8L517.6,100.6L517.6,100.3L516.8,98.4L516.6,98.2L516.4,98.2L511.6,98.9L511.6,99.0L506.0,100.9L501.3,102.4L501.2,102.4L497.3,104.7L497.1,104.8L495.5,107.5L495.5,107.5L494.0,110.5L491.7,112.8L491.6,113.0L490.8,116.5L489.2,119.1L489.2,119.4L489.3,119.6L490.9,121.1L491.0,121.2L493.3,122.6L493.4,122.6L496.6,123.3L496.7,123.3L499.1,122.9ZM520.4,111.9L518.0,112.7L518.8,113.9L519.6,113.9L521.2,113.9ZM500.6,124.3L501.4,126.0L503.5,125.6L503.0,123.9ZM484.5,128.3L485.6,129.3L487.5,128.3L486.4,126.6ZM445.4,214.0L446.9,214.4L448.5,214.4L449.8,214.0L448.8,213.9L446.9,213.7L445.4,213.5ZM461.2,215.0L461.9,214.4L462.7,213.3L460.4,213.9L459.3,214.4L459.6,215.0ZM600.9,233.1L600.1,232.2L599.5,232.7L598.7,233.7L597.9,235.3L598.1,236.5L598.9,237.9L599.3,237.0L600.3,234.8ZM581.2,241.3L579.9,242.3L579.9,243.6L581.3,244.3L582.7,243.3L583.5,241.9L582.7,241.1ZM601.7,252.0L603.0,252.8L604.1,253.4L604.1,252.5L603.0,251.3L601.7,250.8L600.4,250.0L600.1,248.4L600.9,247.4L601.4,245.8L601.2,243.9L600.1,243.6L598.9,243.8L598.4,245.8L597.8,247.4L597.6,248.6L598.1,249.9L598.7,250.7L599.3,251.7L600.6,251.5ZM598.5,252.1L599.2,253.8L600.0,253.8L600.0,252.3ZM554.6,252.0L554.3,253.6L554.6,255.1L555.1,253.6ZM494.3,253.4L492.4,253.4L493.5,253.9ZM593.8,260.3L595.4,258.7L596.6,257.1L597.3,255.5L596.2,257.3L594.6,258.9L593.3,260.2ZM535.8,258.7L534.6,257.9L534.3,260.5L534.3,262.4L534.7,263.8L535.8,264.0L537.3,263.1L537.4,261.6L536.6,260.0ZM588.3,278.9L589.4,280.0L591.1,279.8L591.9,279.0L591.9,277.4L592.7,275.9L593.8,275.1L593.8,273.5L594.6,272.2L596.2,271.9L594.9,270.3L594.3,269.1L594.1,267.5L595.1,266.2L596.5,265.3L594.6,264.3L593.8,263.2L592.7,262.4L591.7,263.2L590.6,264.8L589.1,265.9L587.5,267.2L586.4,268.4L584.3,269.1L584.0,269.7L582.7,270.7L581.5,270.3L580.4,271.1L580.4,273.0L580.7,274.8L582.0,275.9L582.3,277.8L583.5,278.2L585.1,278.9L586.7,278.6ZM562.7,272.2L561.7,271.3L562.2,272.6ZM566.6,275.1L567.4,276.7L568.5,278.2L570.1,279.8L571.7,281.1L573.0,282.2L574.1,282.7L575.3,282.7L575.6,279.8L575.6,278.2L574.1,277.1L573.3,275.9L572.2,274.3L571.4,272.7L570.1,271.9L568.5,270.7L567.4,270.0L566.2,269.2L564.6,268.0L563.3,266.7L562.2,265.3L560.6,265.3L558.7,264.6L559.1,265.9L560.2,267.5L561.4,268.4L562.5,269.9L563.8,271.1L564.6,272.7L565.7,273.8ZM564.9,276.0L564.1,275.1L564.6,276.3ZM602.5,280.6L601.7,279.0L600.9,277.9L600.6,276.5L602.2,275.9L603.1,275.1L602.2,274.8L600.6,274.9L599.3,275.6L598.4,275.1L597.8,273.8L598.5,272.7L600.1,272.7L602.5,272.9L604.4,272.9L605.6,271.0L604.9,271.4L603.3,271.9L601.4,271.9L599.3,271.4L598.1,272.1L597.4,273.5L597.0,274.8L596.5,276.3L595.9,277.9L596.6,279.0L597.0,280.6L597.0,282.2L598.4,282.4L598.4,280.6L598.2,278.2L599.3,277.8L599.8,279.5L600.4,280.9L601.9,281.7ZM574.4,276.3L575.3,277.9L576.4,277.9L576.0,276.3ZM470.6,283.3L470.2,282.7L470.3,283.6ZM589.1,286.0L588.0,285.7L586.4,284.7L584.8,284.3L583.2,283.8L581.2,284.4L579.3,283.8L577.2,283.2L575.6,283.2L574.4,284.3L575.6,284.6L577.2,285.4L579.6,285.7L582.0,286.0L584.3,286.5L586.7,286.7L588.9,287.0ZM600.1,287.6L602.5,287.1L602.2,286.5L599.3,286.8L597.4,287.0L597.8,287.6ZM590.8,286.7L589.2,286.5L589.4,287.1L591.1,287.5L593.0,287.8L595.4,287.6L596.2,287.0L594.6,286.7L592.5,286.8ZM596.2,288.7L597.3,289.7L599.0,289.5L598.1,288.6ZM476.9,292.4L476.6,291.8L476.5,292.3ZM478.5,304.6L478.0,306.2L476.9,307.9L476.6,310.0L477.1,312.2L477.7,313.9L479.0,314.8L480.6,315.2L482.5,314.3L483.1,312.6L483.9,310.0L484.8,307.4L485.6,304.9L486.3,302.4L486.9,300.4L486.7,298.4L487.7,298.8L487.8,297.1L487.1,294.5L486.1,292.6L485.3,293.6L484.5,295.0L483.7,296.6L482.5,297.8L480.9,298.8L479.0,299.4L477.7,300.7L477.7,302.7ZM498.9,305.7L498.9,306.6L499.5,306.2ZM496.4,307.6L495.6,307.3L495.9,308.1ZM637.2,102.8L632.5,102.4L627.8,102.4L624.6,105.0L627.8,107.3L632.5,107.0L635.7,106.2L638.8,105.0L643.5,105.4L645.9,104.3L642.0,102.0ZM629.3,112.3L632.5,113.1L634.9,111.9L631.7,110.0ZM690.1,121.2L692.5,121.9L692.5,119.7L690.9,119.7ZM634.1,173.0L633.8,170.9L632.8,173.0L632.2,175.7L632.5,179.6L632.8,182.5L632.5,185.7L632.5,188.5L632.5,191.5L634.5,190.6L633.8,188.5L634.4,186.4L636.4,184.5L634.9,182.1L634.5,178.3L634.4,175.7ZM641.2,193.3L638.8,194.9L642.8,192.4ZM635.7,195.7L634.1,194.9L632.5,192.9L631.9,194.9L631.7,197.1L630.1,197.5L629.3,199.2L629.6,201.3L630.9,200.7L630.9,199.2L632.5,199.2L634.5,200.3L636.4,198.1L638.3,197.5L637.2,196.0ZM624.9,209.5L624.1,210.9L623.0,212.5L622.2,213.3L620.3,213.3L618.3,213.5L616.7,214.0L615.1,215.4L615.1,216.3L616.7,216.3L618.3,215.8L620.6,215.0L621.8,215.8L622.2,217.1L623.3,217.1L624.3,215.8L624.6,215.2L626.2,215.0L627.4,215.0L628.1,214.0L628.9,213.5L629.3,214.0L630.6,213.1L630.4,212.1L630.9,210.5L630.9,208.5L631.7,207.5L632.5,205.5L632.2,203.9L631.5,201.6L630.1,202.0L629.3,202.8L629.3,204.5L629.0,206.5L627.8,208.5L626.6,210.1L624.6,210.7ZM617.3,217.7L618.3,218.6L619.1,217.5L620.3,217.3L620.8,216.0L619.1,215.8L617.5,216.5ZM608.6,217.3L607.5,217.7L608.2,217.9ZM616.7,218.2L616.2,217.1L614.8,216.5L613.5,217.3L613.1,217.7L613.1,218.6L614.0,219.2L613.9,221.0L614.6,221.8L615.4,221.2L616.2,220.1ZM610.4,230.1L609.9,230.8L610.9,229.5ZM605.2,257.1L606.0,257.3L606.8,255.7L606.1,253.6L604.5,253.6L604.9,255.5ZM602.8,256.8L602.5,255.2L600.9,254.7L600.9,256.8L601.7,257.9ZM607.7,263.2L608.0,261.1L607.5,259.2L606.4,257.9L604.9,259.5L603.8,260.7L602.5,260.0L601.2,261.1L600.9,262.4L601.7,262.4L603.0,261.6L604.1,262.4L604.4,263.5L605.6,264.0L606.3,264.6L606.8,263.7ZM609.8,271.9L609.6,273.5L610.4,274.8L610.4,273.5L611.5,271.9L610.4,271.1L609.6,270.3ZM614.8,278.6L612.8,277.9L610.4,278.2L611.2,279.0L613.5,279.2ZM607.2,278.6L607.5,279.5L609.1,279.3L608.8,278.4ZM649.9,280.3L648.3,278.7L646.4,277.6L647.5,278.7L649.4,280.8ZM643.5,283.3L645.9,283.2L648.3,281.9L648.8,280.3L647.5,280.3L645.1,281.6L642.4,282.4ZM621.4,280.5L623.0,280.8L624.6,281.4L626.2,282.4L627.4,284.1L627.0,285.1L626.2,286.8L627.8,286.3L629.3,286.7L630.9,287.9L632.5,288.1L634.4,287.8L634.5,286.7L635.7,285.7L637.2,285.9L638.8,286.5L639.6,287.8L641.2,289.1L642.8,289.7L644.8,290.2L646.4,289.9L645.1,289.1L643.5,287.8L642.3,286.5L641.2,285.4L640.7,284.4L641.7,283.8L640.4,282.8L638.5,281.9L637.2,280.3L635.7,279.5L633.3,278.6L630.9,277.6L629.3,277.1L627.0,276.3L625.4,276.0L623.0,277.8L621.4,278.7L620.3,277.4L620.2,275.4L619.1,274.6L617.2,274.1L615.1,274.8L615.6,275.9L617.5,277.0L619.1,277.4L617.0,277.9L617.8,278.7L618.6,279.8L619.9,279.7ZM652.5,282.2L652.7,283.3L654.1,284.4L654.3,283.5ZM660.1,286.8L657.8,285.9L655.4,284.6L656.2,285.5L658.5,286.7ZM603.3,289.9L604.5,289.7L606.0,288.9L608.0,287.9L609.1,286.8L608.0,287.0L606.0,287.8L604.5,288.6ZM660.6,288.3L661.7,289.2L663.3,289.9L662.2,288.9ZM671.3,297.5L671.7,298.6L672.8,299.9L672.4,298.8ZM690.9,299.6L690.6,300.6L692.2,300.4L692.5,299.4ZM688.2,301.6L688.4,302.7L690.3,302.7L690.1,301.6ZM672.0,309.5L669.6,307.4L667.2,305.9L668.5,307.8L670.9,309.5ZM589.9,323.2L590.6,325.0L591.0,326.9L591.0,328.8L589.9,329.7L590.2,331.2L591.4,332.2L593.0,332.6L594.6,332.6L596.2,331.2L597.8,330.5L599.3,330.3L601.2,330.7L603.3,330.5L604.1,329.3L605.3,328.4L607.2,327.4L609.6,327.3L612.0,326.3L613.5,326.1L615.4,326.0L617.5,326.9L619.1,327.3L620.2,328.8L621.4,330.3L622.2,332.0L623.0,332.2L624.3,333.0L625.4,332.2L625.2,330.3L625.9,328.4L626.0,329.7L627.0,332.2L626.6,333.7L628.2,334.1L628.9,336.1L629.3,337.5L630.9,338.7L633.0,339.3L634.9,340.1L636.8,338.9L638.0,339.1L639.3,340.5L640.4,339.5L642.0,338.3L644.0,338.1L645.1,337.1L645.4,335.1L646.2,333.0L647.0,330.7L647.8,329.1L649.1,327.4L649.9,325.0L650.3,322.3L650.7,320.1L650.2,317.8L649.9,315.2L648.3,313.4L646.4,311.7L645.9,310.0L644.3,308.8L643.2,306.6L642.0,305.7L640.4,304.6L639.1,303.2L638.8,301.2L638.0,299.6L637.7,297.5L636.4,296.3L635.2,296.2L634.9,293.9L634.1,292.3L633.4,290.5L632.8,291.3L632.2,293.6L631.9,295.5L631.9,297.5L631.4,299.6L630.6,301.6L629.3,301.9L627.8,300.7L625.9,299.6L623.8,298.8L622.1,297.5L622.7,296.2L623.5,294.5L624.3,292.9L623.0,293.1L621.4,292.8L619.1,292.3L617.8,291.6L616.7,292.9L614.8,293.2L613.9,294.2L613.1,296.2L612.0,297.3L610.4,297.0L608.8,295.7L607.2,296.2L605.6,298.0L604.9,299.4L603.8,299.6L603.0,301.2L601.2,301.1L601.4,302.4L600.1,304.1L598.5,305.2L596.2,305.7L593.8,306.8L591.4,307.1L589.5,308.3L588.3,308.8L587.5,309.1L587.6,310.0L588.0,311.7L587.3,313.4L588.0,315.2L587.6,316.9L588.6,319.2L589.4,321.0ZM683.4,339.8L682.4,340.7L682.2,341.1L682.4,341.5L683.5,342.3L683.6,342.3L684.3,342.8L684.1,343.4L684.1,343.4L683.7,345.1L682.2,344.5L681.5,343.3L681.1,343.0L680.6,343.1L679.8,343.7L679.6,343.9L679.0,345.4L678.2,347.1L677.4,348.4L675.6,349.7L675.6,349.7L673.5,351.2L673.4,351.3L672.0,352.8L672.0,352.9L670.7,354.7L670.6,355.1L670.7,355.4L671.5,356.3L671.7,356.5L673.3,357.2L673.5,357.2L675.0,357.5L675.4,357.4L676.9,356.7L677.1,356.6L678.2,355.5L678.4,355.3L679.2,353.5L679.2,353.4L679.6,351.9L681.4,351.1L681.7,350.7L682.0,349.1L683.2,347.7L683.3,347.6L684.0,345.9L684.0,345.8L684.8,346.3L685.1,346.4L685.4,346.3L686.5,345.4L686.6,345.3L687.9,343.4L687.9,343.2L688.2,341.8L689.2,341.3L689.4,341.2L690.4,339.7L690.5,339.4L690.3,337.6L690.1,337.2L689.6,337.2L688.5,337.7L687.2,337.6L686.3,336.8L685.9,335.7L685.7,335.5L684.5,334.8L684.0,333.3L683.8,333.1L682.3,332.2L681.4,331.1L681.1,330.9L680.7,331.0L680.5,331.2L680.5,331.6L681.0,333.1L681.1,333.3L682.3,334.4L683.1,335.7L683.1,335.8L683.6,336.6L683.6,338.4ZM638.5,344.4L636.8,344.0L637.5,346.3L638.0,348.4L638.8,350.2L640.4,349.9L641.8,348.9L642.4,346.7L642.3,344.4L640.4,344.4Z"/>
<path id="mc_usa" d="M210.0,184.5L210.9,185.2L213.2,186.2L213.2,184.5ZM301.2,192.2L301.2,190.4L300.6,188.5L299.0,188.3L297.7,190.4L296.4,192.9L295.3,193.8L293.0,193.8L289.8,193.8L287.4,196.0L285.9,196.8L283.3,197.3L283.5,198.6L281.9,199.6L278.0,200.9L277.0,200.3L277.8,199.2L278.4,197.1L278.0,193.1L276.4,192.0L274.5,190.1L272.4,188.0L268.8,186.2L266.9,186.9L263.0,186.4L258.9,185.2L257.9,184.5L214.3,184.5L215.1,186.4L214.8,188.5L213.7,186.4L211.3,185.9L212.0,188.5L212.4,191.0L212.4,193.8L212.3,196.4L211.8,198.8L212.3,201.3L212.0,203.6L212.7,205.1L213.2,206.9L214.6,208.7L215.1,210.1L215.9,211.7L217.5,213.9L218.0,215.4L220.0,216.0L221.3,216.7L222.7,217.7L223.3,219.2L227.0,219.2L233.0,221.4L237.4,221.4L237.4,220.5L240.1,220.5L241.6,222.3L243.2,224.5L245.3,225.6L246.1,224.3L248.0,224.2L249.5,226.0L251.1,228.3L251.9,230.3L254.6,231.1L254.6,231.0L254.6,228.5L255.9,226.9L257.8,225.8L259.0,224.7L261.4,224.3L263.8,224.7L265.8,225.4L267.2,225.1L266.8,223.4L267.7,223.3L269.6,223.3L272.0,223.1L273.7,224.3L275.1,223.8L276.4,224.2L277.7,226.0L277.8,228.3L279.1,230.8L280.0,232.4L281.1,232.4L281.6,231.5L281.8,229.2L281.0,226.5L279.9,224.2L279.7,222.3L280.3,220.3L281.9,219.0L283.5,217.3L285.4,216.3L287.4,214.8L288.9,213.3L288.4,211.3L287.4,210.1L287.8,207.5L288.2,210.5L288.9,208.9L289.7,207.3L289.2,205.5L290.1,206.5L291.2,204.9L291.4,203.2L293.8,202.6L291.7,202.6L293.8,201.8L295.7,201.3L297.7,200.9L296.9,200.5L296.4,198.8L297.1,197.1L298.5,196.2L300.1,195.3L302.1,194.6L302.4,193.8ZM304.0,196.0L303.9,195.8L304.3,197.1L304.4,197.0ZM286.2,230.1L286.2,229.9L284.3,229.7L285.1,230.3L286.0,230.6ZM285.1,232.7L285.1,232.6L284.8,232.7L284.8,232.8Z"/>
<path id="mc_alaska" d="M203.0,169.1L203.0,166.4L199.8,163.7L197.4,159.7L195.1,157.1L192.7,157.1L191.1,158.4L188.7,155.5L185.6,155.0L185.6,126.3L179.3,124.9L174.5,123.6L171.4,123.2L168.2,122.2L165.1,121.9L161.0,120.5L157.2,122.2L153.2,123.9L150.1,128.3L145.3,130.6L150.1,134.5L152.7,137.8L149.3,136.2L145.6,137.4L142.9,139.3L143.7,140.6L145.6,142.5L148.0,142.8L150.8,142.8L153.2,142.5L154.3,143.5L153.2,146.0L150.8,146.9L148.5,147.1L147.7,148.3L146.1,150.8L147.2,152.2L147.7,154.4L150.1,156.3L152.4,157.1L152.7,159.2L155.1,158.9L157.6,159.2L160.0,158.9L159.5,160.5L158.0,163.2L155.6,165.0L153.2,166.6L150.8,168.5L148.5,170.1L150.8,169.6L154.0,168.3L156.4,167.2L158.7,165.3L161.1,163.7L162.7,161.8L164.7,159.7L165.8,157.4L167.7,155.2L169.3,153.0L171.4,152.4L169.3,155.0L168.7,157.9L171.7,156.6L173.7,155.8L174.8,153.6L177.2,153.0L179.3,154.7L181.6,155.8L185.1,156.1L188.0,156.6L190.6,158.9L192.7,160.5L194.6,160.2L196.6,161.0L197.9,163.7L199.3,165.8L200.6,168.0L202.5,169.1L202.6,169.5ZM199.7,171.7L198.2,171.5L198.6,172.3ZM136.9,145.0L136.9,146.3L139.8,146.9L141.7,146.6L139.8,145.4ZM146.1,156.3L146.6,155.0L145.3,154.7L144.1,155.2ZM165.4,161.0L164.3,162.3L165.8,163.7L167.7,162.3L167.4,160.5Z"/>
<path id="mc_china" d="M607.2,201.3L610.4,200.3L614.3,199.2L615.1,198.1L615.4,194.2L618.3,193.8L621.1,186.2L617.5,187.3L615.1,187.6L613.5,184.5L609.6,182.1L607.2,175.7L603.3,173.0L599.0,173.8L597.8,177.0L594.3,183.3L591.4,182.3L590.6,187.1L593.8,187.6L597.4,189.9L592.2,190.8L588.3,193.8L585.1,193.8L584.8,196.6L582.0,199.0L574.1,201.1L567.7,199.0L561.4,198.6L559.9,196.4L555.9,194.2L552.0,193.3L551.6,189.7L547.2,185.7L546.9,184.0L545.6,184.0L543.6,186.4L543.3,189.2L539.3,188.7L538.2,192.6L534.6,193.8L534.9,199.9L531.4,202.4L528.3,203.6L524.8,204.9L524.5,205.7L526.4,207.5L526.4,209.9L527.5,210.9L531.1,213.5L533.0,215.8L533.0,219.2L532.5,221.6L536.2,223.4L537.7,223.3L540.9,225.6L544.1,227.4L547.2,227.6L548.8,228.7L548.8,227.1L552.7,227.6L553.7,228.3L556.7,225.6L559.9,225.1L561.9,226.9L563.0,227.9L564.1,231.0L562.5,233.1L564.3,234.4L564.6,237.5L566.2,238.7L568.1,239.1L569.0,237.2L569.6,237.2L570.9,236.8L574.1,235.8L576.7,236.5L577.2,238.2L578.8,238.7L580.1,238.6L581.6,238.9L581.6,240.6L582.4,240.8L582.7,239.2L584.3,238.7L585.9,238.2L587.5,237.5L589.1,237.0L591.0,236.5L592.7,235.6L594.3,234.4L595.5,233.4L597.0,232.0L597.4,230.4L598.5,228.8L599.8,227.2L600.6,225.8L600.6,224.0L599.0,223.3L600.8,222.2L600.6,220.5L599.3,219.2L598.5,217.3L597.4,215.6L596.6,214.2L598.1,212.7L599.0,211.7L600.9,210.7L601.5,209.7L599.3,209.1L597.8,209.7L596.2,209.7L594.9,208.5L594.0,207.3L594.6,206.3L596.2,205.7L597.8,204.1L599.3,202.8L600.9,203.6L600.6,205.5L599.6,206.9L601.2,206.1L603.0,205.1L604.4,204.7L604.5,204.5ZM579.9,242.3L579.9,243.6L581.3,244.3L582.7,243.3L583.5,241.9L582.7,241.1L581.2,241.3Z"/>
<path id="mc_iran" d="M484.1,205.3L481.7,206.7L479.0,205.1L478.0,207.5L479.0,210.1L480.1,212.5L481.2,214.0L480.1,216.3L481.2,218.2L483.7,220.5L483.6,222.0L484.8,223.8L485.6,223.1L487.2,223.4L488.0,224.5L488.8,226.2L489.6,227.6L491.2,228.3L492.7,229.5L494.3,229.9L495.9,229.5L497.5,229.0L498.3,230.4L499.5,231.7L501.4,232.0L503.8,232.2L505.5,232.5L505.5,232.4L505.7,230.6L508.1,229.9L508.2,228.8L507.4,227.1L504.6,224.2L505.8,221.6L504.3,221.0L504.3,218.2L503.9,215.8L504.9,213.3L504.9,211.3L501.9,209.5L498.6,208.1L495.9,208.5L493.4,209.9L493.3,209.8L491.9,210.7L490.1,211.1L488.5,210.7L487.2,209.7L485.6,209.3L485.5,207.7Z"/>
<path id="mc_ethiopia" d="M465.1,253.3L463.5,255.5L462.4,256.7L462.1,257.6L461.9,260.0L460.4,261.1L461.9,262.4L463.5,265.0L465.1,266.5L468.3,267.8L470.6,268.1L473.0,267.3L474.6,266.9L476.2,266.1L479.3,265.6L484.1,260.8L482.5,260.8L477.7,259.2L475.8,257.6L476.2,256.5L474.3,256.0L475.2,253.6L471.4,250.4L468.1,249.9L465.9,250.7Z"/>
<path id="mc_civ" d="M403.8,265.4L403.2,263.2L404.3,260.5L403.8,258.1L401.1,257.9L399.6,257.0L398.5,256.5L395.6,257.3L395.9,260.0L395.1,261.5L394.8,263.2L396.4,266.5L398.8,265.8L400.4,265.4L401.9,265.3L403.5,265.6L403.8,265.7Z"/>
<path id="mc_madagascar" d="M476.6,291.8L476.5,292.3L476.9,292.4ZM478.0,306.2L476.9,307.9L476.6,310.0L477.1,312.2L477.7,313.9L479.0,314.8L480.6,315.2L482.5,314.3L483.1,312.6L483.9,310.0L484.8,307.4L485.6,304.9L486.3,302.4L486.9,300.4L486.7,298.4L487.7,298.8L487.8,297.1L487.1,294.5L486.1,292.6L485.3,293.6L484.5,295.0L483.7,296.6L482.5,297.8L480.9,298.8L479.0,299.4L477.7,300.7L477.7,302.7L478.5,304.6Z"/>
<path id="mc_germany" d="M419.6,175.7L417.7,177.5L417.7,180.1L418.2,181.6L418.0,183.3L419.3,184.0L421.2,184.5L420.3,186.4L420.3,187.8L421.7,187.6L423.4,188.0L424.8,188.3L427.2,187.8L428.8,188.0L428.5,186.4L430.0,185.2L428.0,182.5L427.5,181.3L430.8,179.6L431.9,179.6L431.5,177.0L430.7,174.4L430.8,171.9L430.7,172.0L428.8,170.7L427.2,171.2L425.6,171.7L424.4,170.4L423.6,169.3L423.6,169.3L421.8,169.1L421.7,169.0L421.8,169.3L422.1,171.7L421.2,172.8L419.6,172.8L419.3,172.9L419.3,173.6Z"/>
<path id="mc_france" d="M418.8,195.5L419.3,193.8L419.3,191.7L417.7,190.6L419.0,188.5L420.3,187.8L420.3,186.4L421.2,184.5L418.2,183.3L417.4,183.3L414.9,182.1L412.2,179.3L411.9,179.3L411.1,179.6L410.8,180.8L410.1,182.1L408.6,183.3L407.5,183.8L406.4,183.3L405.6,183.0L405.9,185.2L405.1,185.4L403.5,185.0L401.9,185.2L400.8,186.2L401.6,187.3L403.5,187.8L404.6,188.5L405.1,189.7L406.2,190.8L406.5,192.2L406.4,193.8L406.2,195.5L405.7,197.3L405.4,197.3L407.1,198.4L409.4,198.6L410.9,199.2L413.2,199.4L413.1,199.2L413.5,197.7L414.6,197.1L416.1,197.3L417.7,197.9L419.0,197.5L420.1,196.4L420.2,196.4ZM409.3,179.8L409.8,179.6L409.9,179.4Z"/>
<path id="mc_corsica" d="M423.1,198.1L421.8,199.4L422.0,200.7L422.8,201.6L423.3,200.3Z"/>
<path id="mc_spain" d="M410.9,199.2L409.4,198.6L407.1,198.4L405.4,197.3L404.3,197.3L402.7,197.1L400.4,197.1L398.0,196.8L396.1,196.4L395.1,197.1L393.7,198.1L394.2,199.9L394.3,200.5L395.3,200.1L398.0,200.5L398.5,201.1L397.4,202.4L397.4,204.1L396.4,205.1L397.2,206.5L396.7,208.1L396.4,210.1L396.4,210.4L397.2,210.1L398.1,210.9L398.8,212.1L399.9,212.3L401.3,211.1L403.0,211.1L404.8,210.9L405.7,209.9L407.0,209.1L407.5,207.9L408.6,206.9L407.8,205.7L408.2,204.7L409.4,203.0L410.1,202.2L411.9,201.6L413.3,200.5L413.2,199.4ZM412.7,205.9L413.6,205.5L413.3,204.7L412.0,205.3Z"/>
<path id="mc_italy" d="M429.9,192.4L429.9,190.4L427.5,189.2L424.8,189.7L422.9,190.6L421.7,190.8L419.3,191.7L419.3,193.8L418.8,195.5L420.2,196.4L421.2,196.0L422.1,195.1L423.3,195.3L424.4,196.4L424.8,198.1L425.6,199.2L426.7,199.9L427.7,200.9L428.8,201.8L430.0,202.0L431.1,203.2L431.9,204.1L432.9,204.5L433.5,205.5L433.5,206.9L433.0,208.3L433.7,208.7L434.3,207.3L435.3,206.5L434.5,205.3L434.6,204.5L435.4,203.6L437.0,204.9L437.5,204.3L436.7,203.4L435.1,202.4L433.5,201.6L433.5,200.5L431.6,200.3L430.4,198.8L429.7,197.1L428.5,196.0L427.8,194.9L427.8,192.9L429.1,192.0L429.7,192.6ZM425.4,211.1L425.6,210.5L425.0,210.9ZM424.5,210.5L424.5,210.3L423.9,210.0ZM421.5,206.1L422.5,206.5L423.4,206.1L423.6,203.4L422.8,202.0L421.2,202.6L421.5,204.1ZM428.0,208.5L428.0,209.3L429.3,209.9L430.8,210.7L432.1,211.1L432.3,209.7L432.9,208.1L431.1,208.5L429.6,208.3Z"/>
<path id="mc_uk" d="M412.2,179.6L412.2,179.2L411.1,179.6L411.0,179.9ZM406.1,155.2L406.2,156.1L406.3,155.8ZM399.9,168.3L399.9,168.5L400.5,169.1L400.7,169.9L402.7,169.3L403.0,170.9L403.7,172.3L403.4,173.6L401.3,173.6L401.6,174.9L401.6,176.2L400.0,177.3L401.1,178.1L403.0,178.6L403.5,179.1L401.6,179.1L400.7,180.6L399.2,181.8L401.1,181.3L402.7,181.1L404.3,180.6L406.4,180.3L408.6,180.1L409.8,179.6L410.5,178.8L409.4,178.3L410.1,177.3L410.9,175.4L410.1,174.6L408.7,174.6L408.6,173.0L407.8,171.7L407.0,170.4L405.9,168.5L405.1,166.6L403.5,166.4L404.1,165.0L404.9,162.9L405.4,162.1L403.5,161.8L401.9,162.1L403.0,160.2L403.4,159.4L401.1,159.4L400.2,159.7L399.6,161.5L399.1,163.7L398.5,165.0L399.6,166.4L399.4,167.9Z"/>
<path id="mc_nireland" d="M396.7,171.5L398.3,171.7L399.1,171.3L399.4,170.7L398.8,168.8L397.2,168.3L396.7,168.3L396.7,169.1L395.8,169.9L395.3,170.4ZM399.9,168.0L399.4,167.9L399.4,168.0L399.9,168.5Z"/>
<path id="mc_kazakhstan" d="M491.9,200.1L493.5,199.6L496.7,201.8L496.7,193.8L500.6,192.6L504.6,195.3L506.2,197.1L512.5,198.4L513.3,202.0L515.6,202.4L517.2,201.8L519.6,200.3L520.4,199.2L524.3,199.2L525.1,197.7L528.3,198.1L533.0,198.6L534.9,199.9L534.6,193.8L538.2,192.6L539.3,188.7L543.3,189.2L543.6,186.4L546.1,184.0L543.3,182.8L540.1,179.6L534.6,179.6L530.6,173.6L529.1,171.2L524.3,172.0L520.4,171.2L517.2,168.3L510.9,170.4L504.6,172.3L504.6,175.7L505.4,179.1L503.0,180.1L499.8,179.6L495.1,180.1L491.9,178.8L488.0,177.8L484.8,180.8L481.7,182.5L482.5,186.9L485.6,190.4L487.2,189.9L489.1,189.2L491.2,189.4L492.3,190.8L491.9,193.1L490.4,192.9L489.3,193.1L489.1,194.6L487.8,195.3L487.9,195.5L488.5,196.4L489.3,197.7L490.8,198.6L491.5,200.3L491.3,200.8Z"/>
<path id="mc_mongolia" d="M547.2,185.7L551.6,189.7L552.0,193.3L555.9,194.2L559.9,196.4L561.4,198.6L567.7,199.0L574.1,201.1L582.0,199.0L584.8,196.6L585.1,193.8L588.3,193.8L592.2,190.8L597.4,189.9L593.8,187.6L590.6,187.1L591.4,182.3L588.3,181.6L583.5,183.8L579.6,183.5L576.4,181.3L570.9,181.6L569.3,178.6L563.5,177.0L563.0,180.8L558.3,182.1L553.5,180.1L550.4,181.6L546.9,184.0Z"/>
<path id="mc_kyrgyzstan" d="M533.0,198.6L528.3,198.1L525.1,197.7L524.3,199.2L520.4,199.2L519.6,200.3L519.6,201.3L521.2,201.8L523.5,202.8L520.4,203.9L518.0,204.1L518.0,205.3L521.2,205.5L524.5,205.7L524.8,204.9L528.3,203.6L531.4,202.4L534.9,199.9Z"/>
<path id="mc_sudan" d="M447.7,237.9L447.7,241.3L446.1,241.3L446.1,248.4L444.6,248.4L443.0,251.5L443.8,253.3L444.4,256.0L445.4,257.6L446.1,259.2L447.7,261.1L451.5,265.4L454.8,266.4L457.0,268.0L458.8,267.8L461.9,266.9L463.5,265.0L461.9,262.4L460.4,261.1L461.9,260.0L462.1,257.6L462.4,256.7L463.5,255.5L465.1,253.3L465.9,250.7L465.9,249.5L466.7,246.3L469.0,244.6L469.1,244.6L469.0,244.4L467.3,243.1L467.2,240.8L466.7,239.1L466.1,237.9Z"/>
<path id="mc_paraguay" d="M313.5,312.6L316.7,313.9L317.1,315.0L315.7,318.2L318.2,318.5L319.8,318.3L321.7,317.3L322.0,315.3L322.5,312.7L320.6,312.6L319.8,309.6L317.0,309.3L316.3,305.9L315.1,304.6L311.9,305.4L309.4,309.5Z"/>
<path id="mc_myanmar" d="M564.1,257.6L565.4,255.2L564.9,252.0L564.1,248.7L563.8,246.3L562.7,243.8L564.6,241.3L566.5,240.8L568.1,239.1L566.2,238.7L564.6,237.5L564.3,234.4L562.5,233.1L564.1,231.0L563.0,227.9L561.9,226.9L561.4,228.3L558.6,230.1L557.8,232.2L555.4,234.4L555.6,237.4L554.5,238.2L554.0,239.6L554.0,239.6L554.8,240.6L555.9,241.8L556.7,242.9L557.5,244.6L557.2,246.3L557.5,247.9L558.7,248.2L560.2,247.4L561.3,246.3L562.4,247.1L562.5,248.7L563.0,250.4L563.5,252.3L564.1,254.1L564.1,256.0L564.0,257.6Z"/>
<path id="mc_japan" d="M639.5,194.4L638.8,194.9L639.5,194.4ZM634.1,194.9L632.5,192.9L631.9,194.9L631.7,197.1L630.1,197.5L629.3,199.2L629.6,201.3L630.9,200.7L630.9,199.2L632.5,199.2L634.5,200.3L636.4,198.1L638.3,197.5L637.2,196.0L635.7,195.7ZM624.1,210.9L623.0,212.5L622.2,213.3L620.3,213.3L618.3,213.5L616.7,214.0L615.1,215.4L615.1,216.3L616.7,216.3L618.3,215.8L620.6,215.0L621.8,215.8L622.2,217.1L623.3,217.1L624.3,215.8L624.6,215.2L626.2,215.0L627.4,215.0L628.1,214.0L628.9,213.5L629.3,214.0L630.6,213.1L630.4,212.1L630.9,210.5L630.9,208.5L631.7,207.5L632.5,205.5L632.2,203.9L631.5,201.6L630.1,202.0L629.3,202.8L629.3,204.5L629.0,206.5L627.8,208.5L626.6,210.1L624.6,210.7L624.9,209.5ZM618.3,218.6L619.1,217.5L620.3,217.3L620.8,216.0L619.1,215.8L617.5,216.5L617.3,217.7ZM616.2,217.1L614.8,216.5L613.5,217.3L613.1,217.7L613.1,218.6L614.0,219.2L613.9,221.0L614.6,221.8L615.4,221.2L616.2,220.1L616.7,218.2Z"/>
<path id="mc_somalia" d="M476.2,256.5L475.8,257.6L477.7,259.2L482.5,260.8L484.1,260.8L479.3,265.6L476.2,266.1L474.6,266.9L473.0,267.3L473.0,273.5L473.8,275.9L474.6,275.1L476.2,273.5L478.2,271.6L480.6,270.0L482.5,268.0L484.1,265.6L485.6,263.2L486.9,260.8L488.0,258.7L488.9,256.8L489.1,254.7L488.0,254.7L485.6,255.5L483.3,255.9L480.9,256.5L478.5,257.0L476.9,255.7L476.4,255.5ZM476.6,255.1L476.6,255.1L476.6,255.0Z"/>
<path id="mc_guinea" d="M388.5,257.8L390.6,257.6L392.0,260.0L392.0,260.3L393.4,261.8L395.1,261.5L395.9,260.0L395.6,257.3L394.4,256.0L392.5,254.1L390.2,254.2L386.6,253.4L386.6,254.9L384.6,256.0L385.4,256.8L386.6,257.9L387.2,259.2Z"/>
<path id="mc_cambodia" d="M575.6,256.0L575.5,254.9L578.0,253.6L578.0,250.4L575.2,251.0L571.7,250.5L570.1,251.8L570.7,254.7L570.7,254.9L571.2,256.0L571.9,256.7L573.0,256.8L573.3,257.0Z"/>
<path id="mc_nkorea" d="M614.3,199.2L610.4,200.3L607.2,201.3L604.5,204.5L604.4,204.7L604.5,204.7L606.1,205.5L605.6,207.3L606.0,208.9L607.0,209.1L607.5,208.9L609.6,207.9L610.8,207.4L610.7,207.3L609.4,206.1L609.8,204.9L611.6,204.1L613.1,202.8L613.5,200.9L614.6,199.6Z"/>
<path id="mc_taiwan" d="M600.1,232.2L599.5,232.7L598.7,233.7L597.9,235.3L598.1,236.5L598.9,237.9L599.3,237.0L600.3,234.8L600.9,233.1Z"/>
<path id="mc_benin" d="M410.5,258.4L410.8,263.7L410.8,263.8L411.4,263.5L412.5,263.4L412.5,263.4L412.7,259.2L413.9,257.6L413.9,254.9L412.0,254.9L410.5,255.4L409.7,256.0Z"/>
<path id="mborders" d="M223.3,219.2L227.0,219.2L233.0,221.4L237.4,221.4L237.4,220.5L240.1,220.5L241.6,222.3L243.2,224.5L245.3,225.6L246.1,224.3L248.0,224.2L249.5,226.0L251.1,228.3L251.9,230.3L254.6,231.1M262.7,250.2L263.0,249.2L263.4,247.9L265.3,247.7L264.5,245.9L264.5,244.9L267.4,244.9L267.4,248.1L268.8,248.4M267.4,248.1L267.2,250.4L266.0,251.5M267.2,250.4L268.5,251.2L269.6,252.1M269.9,252.6L271.3,251.7L272.9,251.3L274.3,249.9L276.7,249.5M272.9,255.9L274.3,256.0L276.1,256.2M277.3,260.3L277.3,259.1L277.8,258.3M286.0,259.9L286.2,261.0M295.4,254.9L293.8,256.0L293.0,258.7L293.9,260.2L294.2,261.8L297.4,262.4L298.5,263.8L301.7,263.7L301.2,266.4L302.1,269.9L302.6,271.6M302.6,271.6L304.8,272.2L306.9,271.1L308.1,269.9L306.9,267.5L309.1,267.2L311.1,266.7L312.4,265.3M312.4,265.3L311.4,264.2L311.8,262.9L313.0,262.4L313.5,260.3M312.4,265.3L313.5,266.4L314.0,269.2L315.1,271.3L316.7,271.1L317.8,270.3L319.0,270.5L320.0,269.6L322.2,269.9L324.6,270.0L326.1,268.8L326.6,267.0M317.9,264.0L317.8,265.6L317.0,267.2L317.8,269.6L319.0,270.5M323.0,264.6L322.3,266.4L322.2,269.9M302.6,271.6L300.9,270.8L298.0,270.8L298.7,272.4L297.7,273.8L297.9,280.1M297.9,280.1L294.5,277.4L291.9,275.6L289.5,273.7L287.8,272.9L285.9,272.2L283.8,271.3M289.5,273.7L288.9,275.9L286.7,277.9L284.6,278.9L283.5,281.4L281.4,280.5L281.4,278.9M297.9,280.1L293.1,281.9L291.5,285.1L293.1,288.4L296.8,288.6L296.8,291.0L298.5,291.0M298.5,291.0L299.8,293.4L299.3,296.3L298.5,298.0L299.4,299.8L298.5,301.6L297.1,303.1M298.5,291.0L300.9,290.5L303.2,289.2L305.1,289.4L305.1,292.3L308.8,294.2L311.1,295.0L313.0,296.6L313.2,299.6L316.2,299.6L316.2,301.2L317.3,302.4L317.0,304.1L316.3,305.9M298.5,301.6L299.6,304.9L300.6,307.9L302.1,310.5L302.4,310.8L300.2,313.4L300.1,317.8L298.0,321.4L297.4,325.0L297.7,329.7L296.9,333.5L296.1,336.5L295.8,340.5L294.9,344.6L295.0,349.9L295.3,354.4L294.5,359.0L293.0,363.7L293.8,367.4L297.7,370.0L300.2,370.7M302.1,310.5L304.3,309.3L306.4,309.8L309.1,309.1L309.4,309.5M309.4,309.5L311.9,305.4L315.1,304.6L316.3,305.9L317.0,309.3L319.8,309.6L320.6,312.6L322.5,312.7L322.0,315.3L321.7,317.3L319.8,318.3L318.2,318.5L315.7,318.2L317.1,315.0L316.7,313.9L313.5,312.6L309.4,309.5M322.0,315.3L323.3,316.4L323.3,318.2L320.6,319.9L317.3,323.6M316.3,329.7L316.7,326.9L317.3,323.6L319.8,324.7L322.2,326.3L323.9,328.8L323.9,330.3M299.9,372.3L299.9,377.7M404.8,214.2L405.6,216.9L406.4,219.6L403.5,221.0L400.4,223.8L397.2,224.7L394.5,226.2L394.5,227.9L387.7,227.9M394.5,228.7L400.7,232.7L405.9,236.5L411.1,240.2L413.3,242.1L414.9,242.8L417.7,242.1L421.7,239.1L427.2,235.3M394.5,228.7L394.5,231.0L389.3,231.0L389.3,235.5L387.7,236.2L387.7,239.1L381.4,239.1M394.5,228.7L398.0,232.7L398.0,236.2L399.6,247.1L399.9,248.7L393.2,248.9L390.1,248.6L389.0,249.9L386.5,247.7L382.4,247.6M389.0,249.9L390.1,253.6L390.2,254.2L386.6,253.4L384.6,253.3L381.9,253.8M381.9,251.8L384.6,251.5L386.5,252.1L384.6,252.5L381.8,252.6M384.6,256.0L386.6,254.9L386.6,253.4M390.2,254.2L392.5,254.1L394.4,256.0L395.6,257.3L395.9,260.0L395.1,261.5L394.8,263.2L396.4,266.5M387.2,259.2L388.5,257.8L390.6,257.6L392.0,260.0L392.0,260.3L390.2,262.4M392.0,260.3L393.4,261.8L395.1,261.5M395.6,257.3L398.5,256.5L399.6,257.0L401.1,257.9L403.8,258.1L404.3,260.5L403.2,263.2L403.8,265.4M399.6,257.0L399.6,255.2L401.5,253.3L402.7,252.3L405.1,250.8L407.1,249.4L408.6,249.5L410.3,252.3L411.7,253.8L412.0,254.9L410.5,255.4L409.7,256.0L408.1,255.9L403.8,256.0L403.8,258.1M409.7,256.0L408.6,258.4L409.0,261.6L409.2,263.5L410.1,263.8M409.7,256.0L410.5,258.4L410.8,263.7M412.0,254.9L413.9,254.9L413.9,257.6L412.7,259.2L412.5,263.4M408.6,249.5L411.1,249.0L413.8,248.9L414.9,246.6L414.9,242.8M413.9,254.9L415.4,251.7L418.5,252.0L420.9,252.5L424.0,252.3L428.0,252.3L429.6,251.7L430.4,252.8L430.7,253.8M427.2,235.3L430.7,236.8L431.9,236.2L433.5,235.3L446.1,242.1L446.1,241.3M431.9,236.2L432.7,239.6L432.7,246.6L429.6,250.4L429.6,251.7M423.3,223.3L424.0,220.1L421.4,219.2L420.1,216.7L421.4,214.4L421.8,210.7M426.4,218.0L426.4,219.2L424.5,221.0L424.0,222.9L423.3,223.3L423.7,226.9L423.7,230.1L424.5,233.6L427.2,235.3M448.0,220.9L447.7,225.1L447.7,237.9L447.7,241.3M447.7,237.9L458.0,237.9L466.1,237.9M446.1,241.3L446.1,248.4L444.6,248.4L443.0,251.5L443.8,253.3L444.4,256.0M430.7,253.8L431.9,256.8L430.0,257.9L432.7,261.6L431.1,263.7L431.5,266.2L433.5,269.6L433.8,270.0M422.0,266.2L422.5,264.0L424.8,262.4L426.9,262.4L428.5,260.0L430.0,256.0L430.7,253.8M431.9,256.8L434.3,260.8L437.5,260.8L439.0,259.2L442.2,257.1L444.4,256.0M431.1,263.7L434.3,265.6L437.5,266.7L437.6,268.0L440.6,266.4L443.8,266.9L446.9,265.4L451.5,265.4M444.4,256.0L445.4,257.6L446.1,259.2L447.7,261.1L451.5,265.4M451.5,265.4L454.8,266.4L457.0,268.0L458.8,267.8L461.9,266.9L463.5,265.0M461.9,266.9L462.7,268.8L463.5,270.8L461.9,273.2L461.9,275.1L467.8,278.6L470.2,280.9M463.5,265.0L465.1,266.5L468.3,267.8L470.6,268.1L473.0,267.3L474.6,266.9M473.0,267.3L473.0,273.5L473.8,275.9M474.6,266.9L476.2,266.1L479.3,265.6L484.1,260.8L482.5,260.8L477.7,259.2L475.8,257.6L476.2,256.5L476.4,255.5M476.2,256.5L474.3,256.0L475.2,253.6L476.1,253.3M475.2,253.6L471.4,250.4L468.1,249.9L465.9,250.7M465.9,250.7L465.9,249.5L466.7,246.3L469.0,244.6M465.9,250.7L465.1,253.3L463.5,255.5L462.4,256.7L462.1,257.6L461.9,260.0L460.4,261.1L461.9,262.4L463.5,265.0M423.7,269.9L426.1,270.0L429.3,270.0L433.8,270.0M426.1,270.0L426.1,271.9L423.7,271.9M429.3,270.0L431.0,271.4L431.1,274.3L431.0,276.7L428.8,277.3L428.0,279.3L425.9,279.7M433.8,270.0L436.4,268.0L437.6,268.0M437.6,268.0L436.7,271.1L436.2,274.3L433.8,276.7L433.5,279.0L432.3,280.3L431.0,281.1L429.4,281.2L427.5,282.7M457.0,268.0L456.9,269.9L457.7,270.2L455.5,272.6L455.0,275.7L454.0,277.9L454.5,280.5L454.8,283.0L456.9,286.5M455.0,275.7L456.4,275.2L456.9,277.3L456.4,278.9L454.5,280.5M456.4,275.2L458.5,275.1L461.9,275.1M427.5,282.7L428.8,282.8L434.3,282.8L435.1,285.1L439.0,284.6L439.8,286.2L442.7,286.2L443.0,291.0L446.1,290.8L446.1,294.2L443.0,294.2L443.0,299.4L445.4,301.7M446.1,290.8L448.2,291.3L450.6,292.4L453.1,293.4L454.0,294.9L455.3,292.9L453.1,292.3L453.4,288.6L453.9,287.0L456.9,286.5M456.9,286.5L460.2,288.4L460.8,288.7L461.9,288.6L462.7,291.8L463.4,291.9L467.5,292.1L472.0,290.2M460.8,288.7L460.4,293.4L460.2,295.3L460.7,295.8L455.9,297.1L456.3,298.4L453.9,298.9L450.9,302.2L448.2,302.1L445.4,301.7M462.7,291.8L462.7,296.3L464.8,299.1L464.0,300.7L462.4,299.6L462.7,296.6L460.7,295.8M456.3,298.4L460.0,300.3L460.4,305.4L459.6,307.9L457.7,309.8L458.8,313.4L458.8,315.9L458.9,317.5L459.9,317.6M448.2,302.1L449.6,305.1L452.0,306.6L454.7,309.5L457.7,309.8M426.9,301.1L430.4,301.4L437.5,301.4L441.4,302.4L445.4,301.7L448.2,302.1M441.4,302.4L441.4,309.1L439.8,309.1L439.8,313.9L439.8,320.3L435.9,320.8L434.3,320.7M439.8,313.9L441.4,317.5L444.1,315.0L447.3,315.7L449.0,313.8L450.9,311.9L452.9,310.2L454.7,309.5M450.9,322.5L452.8,320.8L454.7,322.3L452.9,324.1L450.9,322.5M457.2,315.5L458.8,315.9L458.9,317.5L457.7,318.3L456.9,317.3L457.2,315.5M394.3,200.5L395.3,200.1L398.0,200.5L398.5,201.1L397.4,202.4L397.4,204.1L396.4,205.1L397.2,206.5L396.7,208.1L396.4,210.1M413.2,199.4L410.9,199.2L409.4,198.6L407.1,198.4L405.4,197.3M412.2,179.3L414.9,182.1L417.4,183.3L418.2,183.3L421.2,184.5L420.3,186.4L420.3,187.8L419.0,188.5L417.7,190.6L419.3,191.7L419.3,193.8L418.8,195.5L420.2,196.4M413.6,178.6L415.4,178.6L417.4,179.3L417.7,180.1L418.2,181.6L417.4,183.3M419.3,173.6L419.6,175.7L417.7,177.5L417.7,180.1M420.3,187.8L421.7,187.6L423.4,188.0L424.8,189.7L422.9,190.6L421.7,190.8L419.3,191.7M423.4,188.0L424.8,188.3L427.2,187.8L428.8,188.0L428.5,186.4L430.0,185.2L428.0,182.5L427.5,181.3L430.8,179.6L431.9,179.6L431.5,177.0L430.7,174.4L430.8,171.9M421.8,169.1L423.6,169.3M424.8,189.7L427.5,189.2L429.9,190.4L429.9,192.4M429.9,190.4L431.9,190.1L433.7,189.7L434.3,187.3L435.1,186.6L434.9,185.4L431.9,184.5L430.0,185.2M431.9,179.6L434.3,180.8L436.7,182.1L437.9,183.3L439.8,183.8L443.8,184.2L443.3,185.9L440.6,185.7L437.9,187.3L435.1,186.6M443.8,184.2L446.1,180.8L445.4,177.0L444.9,175.7L446.0,171.7L444.3,170.7L439.8,170.4M444.3,170.7L444.3,169.1L441.9,168.3L441.5,168.3M446.0,171.7L448.5,171.2L450.6,168.3L450.3,167.2L447.7,165.6L443.0,165.3L441.5,166.1M450.3,167.2L452.8,165.8L452.0,162.9L451.4,162.1L448.5,161.0L446.8,161.3M451.4,162.1L451.7,158.9L452.5,157.1M444.9,175.7L445.5,178.3L447.7,177.3L451.7,178.3L456.4,178.8L458.5,176.8L459.9,173.3L457.2,169.6L456.9,167.5L452.8,165.8M458.5,176.8L462.6,177.5L464.5,181.1L468.3,182.3L471.7,183.0L470.9,186.9L468.7,188.9M443.3,185.9L446.9,187.1L450.3,186.2L452.5,186.2L454.4,188.0L455.6,190.6L455.0,192.9M450.3,186.2L452.8,190.4L452.8,192.6L455.0,192.9M433.7,189.7L434.3,190.4L437.9,191.7L440.3,191.3L441.7,190.8L443.3,187.6L443.3,185.9M429.9,192.4L432.4,192.6L434.3,190.4M437.9,191.7L438.3,194.0L433.2,193.3L433.2,195.5L435.7,198.0M437.3,199.1L437.5,199.2M438.3,194.0L438.9,195.5L438.6,197.1L437.5,199.2L437.6,199.3M440.3,191.3L442.0,193.3L443.8,194.4L444.1,195.5L443.6,198.1L444.4,199.6L443.6,201.8L441.4,202.6L440.8,204.3L439.9,205.0M438.8,200.5L440.6,200.5L440.6,199.9L442.2,199.6L443.6,199.6M444.1,195.5L446.1,196.6L449.3,196.2L451.7,195.7L453.3,196.6M444.4,201.6L446.9,201.3L449.8,200.9L450.3,201.8L449.3,202.8M449.8,200.9L450.9,200.3L452.5,200.3M453.3,154.4L455.3,150.8L457.7,148.0L455.6,145.0L455.6,139.7L454.8,134.9L454.0,131.2L453.3,128.3L454.0,126.0L456.2,125.7M446.1,138.7L445.5,133.2L443.0,130.2L440.6,127.9L441.4,127.3L446.1,129.3L449.3,126.0L452.5,124.9L454.0,126.0M440.6,127.9L436.7,129.9L434.3,133.2L431.1,137.8L430.4,142.8L428.0,145.0L427.5,151.6L428.0,155.2L426.4,157.6L425.9,158.7M465.4,211.1L466.2,210.5L468.3,210.9L471.4,210.5L475.0,210.1L478.0,210.1L479.0,210.1L478.0,207.5L479.0,205.1L477.3,204.3L476.9,202.2L473.9,201.3M476.9,202.2L479.3,202.0L481.7,200.7L484.8,200.5M471.4,197.3L475.4,197.7L477.7,199.0L481.7,200.7M479.3,202.0L481.7,205.5L481.7,206.7M479.0,205.1L481.7,206.7L484.1,205.3L485.5,207.7M464.9,212.7L466.0,212.1L466.2,210.5M464.7,215.3L465.9,216.0L464.9,217.7L464.5,217.9L463.7,218.1M464.5,217.9L464.3,219.4L464.3,221.0L463.5,224.5M464.9,217.7L466.4,219.6L469.5,217.5L473.3,215.0L475.0,210.1M466.4,219.6L469.8,220.1L466.7,221.0L468.3,222.9L467.5,223.8L465.3,225.3L463.5,224.9M469.5,217.5L469.8,220.1L472.0,220.3L474.6,221.8L478.8,225.3L481.7,225.4L483.3,223.8L484.1,223.8M481.7,225.4L483.6,226.5L484.7,226.5M479.0,210.1L480.1,212.5L481.2,214.0L480.1,216.3L481.2,218.2L483.7,220.5L483.6,222.0L484.8,223.8M489.7,234.1L491.3,236.3L495.4,236.7L496.2,234.4L496.8,233.2L497.3,232.9M495.4,236.7L495.1,241.3L490.4,242.9L485.3,244.3L481.5,245.9L478.5,245.6L476.6,245.4L475.8,247.2M490.4,242.9L492.1,246.9M493.4,209.9L495.9,208.5L498.6,208.1L501.9,209.5L504.9,211.3L504.9,213.3L503.9,215.8L504.3,218.2L504.3,221.0L505.8,221.6L504.6,224.2L507.4,227.1L508.2,228.8L508.1,229.9L505.7,230.6L505.5,232.4M504.9,213.3L507.7,212.9L510.1,211.7L513.3,209.7L515.6,210.5L518.0,209.3L520.7,207.7L521.3,210.9L526.4,209.9M504.6,224.2L506.9,224.9L510.1,224.7L512.9,224.0L514.8,221.4L517.7,220.3L519.3,217.7L520.5,215.8L521.5,212.3L526.4,209.9M491.3,200.9L493.5,199.6L496.7,201.8L498.3,201.8L500.6,198.8L503.0,199.9L506.0,202.0L507.7,205.5L513.3,209.7M496.7,201.8L496.7,193.8L500.6,192.6L504.6,195.3L506.2,197.1L512.5,198.4L513.3,202.0L515.6,202.4L517.2,201.8L519.6,200.3L520.4,199.2L524.3,199.2L525.1,197.7L528.3,198.1L533.0,198.6L534.9,199.9M515.6,210.5L515.3,206.5L518.0,205.3L518.0,204.1L520.4,203.9L523.5,202.8L521.2,201.8L519.6,201.3L519.6,200.3M518.0,205.3L521.2,205.5L524.5,205.7M485.6,190.4L482.5,186.9L481.7,182.5L484.8,180.8L488.0,177.8L491.9,178.8L495.1,180.1L499.8,179.6L503.0,180.1L505.4,179.1L504.6,175.7L504.6,172.3L510.9,170.4L517.2,168.3L520.4,171.2L524.3,172.0L529.1,171.2L530.6,173.6L534.6,179.6L540.1,179.6L543.3,182.8L546.1,184.0M546.9,184.0L550.4,181.6L553.5,180.1L558.3,182.1L563.0,180.8L563.5,177.0L569.3,178.6L570.9,181.6L576.4,181.3L579.6,183.5L583.5,183.8L588.3,181.6L591.4,182.3M515.9,235.0L518.8,234.1L520.4,233.6L519.3,231.0L518.8,228.3L521.6,227.4L524.3,223.8L525.9,222.0L526.7,219.7L525.6,218.2L525.1,215.4L528.3,213.5L531.1,213.5M536.2,223.4L534.9,226.0L537.7,227.6L540.9,228.5L544.1,229.9L547.4,230.3L547.2,227.6M547.4,230.3L548.5,230.4L550.1,229.7L553.7,229.4L553.7,228.3M547.4,230.3L547.7,232.7L548.5,233.9L548.3,237.5L548.8,238.2M547.7,232.7L550.1,231.0L554.3,232.7L552.3,234.4L552.7,236.2L554.0,237.9L554.0,239.6M554.0,239.6L554.5,238.2L555.6,237.4L555.4,234.4L557.8,232.2L558.6,230.1L561.4,228.3L561.9,226.9M568.1,239.1L566.5,240.8L564.6,241.3L562.7,243.8L563.8,246.3L564.1,248.7L564.9,252.0L565.4,255.2L564.1,257.6M566.5,240.8L567.4,242.1L568.1,245.1L570.1,244.6L572.5,244.1L573.7,247.1L574.9,249.5L575.2,251.0L578.0,250.4M569.6,237.2L570.9,239.9L573.3,240.4L572.5,242.1L574.4,243.8L576.4,246.3L578.0,248.7L578.0,250.4L578.0,253.6L575.5,254.9L575.6,256.0L573.3,257.0M575.2,251.0L571.7,250.5L570.1,251.8L570.7,254.7M566.4,263.3L567.7,264.3L569.0,264.3L569.6,263.7M604.5,204.5L607.2,201.3L610.4,200.3L614.3,199.2L614.6,199.6M607.5,208.9L609.6,207.9L610.8,207.4M581.4,270.4L582.7,272.1L585.1,271.3L587.8,271.4L589.5,270.0L590.8,266.9L593.8,266.9M630.9,277.6L630.9,287.9M605.2,288.2L605.6,288.1L606.0,288.7"/>
<path id="mheavy0" d="M286.0,99.0L287.5,95.6L290.5,92.5L290.7,92.3L292.1,89.4L296.6,87.3L296.8,87.1L299.9,84.0L304.5,81.8L304.6,81.8L309.3,78.6L309.5,78.4L311.9,75.7L312.1,75.0L311.8,74.3L309.5,72.0L308.9,71.8L302.6,70.8L302.5,70.8L297.8,70.4L297.7,70.4L291.4,70.4L291.3,70.4L285.0,70.8L284.9,70.8L278.6,71.8L278.5,71.8L272.2,73.6L272.1,73.6L267.3,75.4L267.2,75.5L264.0,77.3L263.6,78.1L263.9,79.0L267.1,81.7L267.1,81.7L270.2,84.4L270.2,84.4L272.8,86.7L271.6,89.5L269.3,92.6L269.3,92.6L267.7,94.9L267.5,95.8L268.2,97.6L266.4,99.5L266.2,99.5L265.8,99.5L262.6,100.7L262.0,101.3L261.2,104.0L261.2,104.6L262.0,106.9L262.6,107.5L265.8,108.7L266.0,108.7L270.8,109.1L270.9,109.1L279.5,109.1L280.1,108.9L282.5,107.4L282.9,106.6L282.9,103.5L282.7,102.9L282.3,102.6L280.4,101.9L282.9,101.5L283.3,101.3L285.7,99.3ZM215.1,121.6L218.2,120.5L218.5,120.3L220.4,118.8L220.4,118.9L220.8,119.3L221.4,119.6L220.9,119.7L220.4,120.2L220.4,120.9L222.0,123.6L222.1,123.8L224.5,126.2L224.7,126.3L227.7,127.9L229.2,129.8L229.7,130.1L234.5,130.4L234.7,130.4L238.6,129.7L242.5,129.1L246.3,129.4L246.9,129.2L249.3,126.9L249.5,126.0L248.7,123.7L248.1,123.1L245.2,122.5L244.0,121.1L243.2,117.6L242.4,113.7L241.9,113.1L238.8,112.0L238.0,112.1L235.7,114.0L233.0,115.0L230.2,114.0L228.0,111.8L227.2,111.6L225.6,112.1L226.0,111.7L226.2,111.1L225.9,110.6L223.2,108.3L222.7,108.1L219.7,108.1L216.7,107.0L216.2,106.9L212.2,108.1L211.7,108.6L210.4,112.1L210.4,112.1L209.3,116.4L209.4,117.0L211.8,120.9L212.3,121.3L214.7,121.6ZM305.8,131.5L301.3,129.1L302.0,126.7L302.0,126.4L300.4,123.4L300.2,123.2L297.2,121.9L294.8,119.4L294.7,119.3L291.6,118.2L289.3,115.9L289.2,115.9L286.8,114.7L286.8,114.7L284.4,113.9L284.2,113.9L281.7,114.6L280.7,111.4L280.5,111.2L278.1,110.4L277.8,110.4L274.9,112.2L272.7,110.1L272.3,110.0L269.2,110.8L269.0,110.9L266.7,112.8L266.5,113.0L265.7,116.9L265.7,117.1L266.5,120.6L266.6,120.7L268.2,123.1L268.3,123.3L271.5,124.6L271.6,124.6L274.7,125.3L274.8,125.3L278.7,125.7L281.8,126.3L282.1,126.3L284.2,125.4L286.3,127.5L287.9,130.1L288.1,130.3L291.2,131.3L292.8,133.0L291.7,135.3L291.6,135.4L291.0,138.5L288.9,140.2L285.1,140.2L284.8,140.3L284.7,140.7L285.0,142.9L285.1,143.1L285.3,143.2L288.1,143.8L288.3,143.9L291.3,143.6L294.3,146.0L296.6,148.3L296.9,148.4L299.1,148.4L300.6,149.9L300.9,150.1L304.0,150.1L304.3,149.9L306.2,147.7L306.3,147.4L306.0,144.5L308.3,142.1L308.3,142.1L309.9,139.6L309.9,139.5L311.5,136.7L311.5,136.3L310.7,134.7L310.5,134.5L308.2,133.5L305.9,131.6ZM372.4,145.0L374.3,145.0L376.4,146.0L379.0,146.3L381.4,145.4L384.1,143.8L386.1,142.5L386.6,140.3L384.9,137.4L383.0,136.5L381.4,137.8L379.0,137.8L376.7,138.1L375.1,139.3L373.5,136.8L371.9,137.4L369.9,139.7L372.7,140.3L370.4,141.6L372.7,141.9L373.5,143.5ZM273.3,147.4L275.7,147.1L275.8,147.0L278.1,146.2L280.3,146.2L280.8,145.9L282.0,144.0L282.1,143.7L281.9,143.3L279.8,142.1L279.8,142.1L277.5,140.8L275.7,138.7L275.3,138.5L272.8,138.2L272.4,138.3L272.3,138.7L272.0,141.7L270.4,144.1L270.4,144.5L270.5,144.8L272.9,147.2ZM408.6,180.1L409.8,179.6L410.5,178.8L409.4,178.3L410.1,177.3L410.9,175.4L410.1,174.6L408.7,174.6L408.6,173.0L407.8,171.7L407.0,170.4L405.9,168.5L405.1,166.6L403.5,166.4L404.1,165.0L404.9,162.9L405.4,162.1L403.5,161.8L401.9,162.1L403.0,160.2L403.4,159.4L401.1,159.4L400.2,159.7L399.6,161.5L399.1,163.7L398.5,165.0L399.6,166.4L399.4,168.0L400.5,169.1L400.7,169.9L402.7,169.3L403.0,170.9L403.7,172.3L403.4,173.6L401.3,173.6L401.6,174.9L401.6,176.2L400.0,177.3L401.1,178.1L403.0,178.6L403.5,179.1L401.6,179.1L400.7,180.6L399.2,181.8L401.1,181.3L402.7,181.1L404.3,180.6L406.4,180.3ZM397.2,168.3L395.3,168.5L394.7,170.4L392.5,171.2L392.8,173.0L394.0,173.8L393.1,175.4L392.0,177.0L392.5,178.1L394.0,178.3L395.6,177.5L397.2,176.8L398.8,176.5L398.6,174.4L398.6,172.3L399.4,170.7L398.8,168.8ZM324.6,190.1L325.0,188.0L324.1,186.2L323.4,184.5L321.9,183.3L320.1,182.5L319.8,180.8L320.4,178.3L318.7,179.1L317.8,180.8L317.0,183.3L315.4,185.2L314.6,187.3L317.4,188.0L320.1,189.4L321.7,188.5L323.3,189.9ZM423.6,203.4L422.8,202.0L421.2,202.6L421.5,204.1L421.5,206.1L422.5,206.5L423.4,206.1ZM432.3,209.7L432.9,208.1L431.1,208.5L429.6,208.3L428.0,208.5L428.0,209.3L429.3,209.9L430.8,210.7L432.1,211.1ZM281.9,238.2L284.0,238.6L284.8,239.9L286.3,240.4L285.5,241.6L287.4,241.4L289.8,241.4L291.1,240.9L289.8,240.1L288.2,239.2L286.7,238.4L285.1,237.4L283.0,237.0L281.4,236.2L279.5,235.8L277.5,236.0L275.6,236.5L274.2,238.0L275.6,238.2L277.2,237.5L278.8,237.2L280.3,237.7ZM296.1,244.3L297.7,244.1L299.3,243.9L300.2,243.6L299.3,242.6L298.0,242.3L296.9,241.6L295.0,241.6L293.3,241.4L292.3,241.8L293.3,242.4L293.8,243.6L292.2,243.6L290.6,243.9L292.2,244.3L293.8,244.4L295.0,245.1ZM496.6,123.3L496.7,123.3L499.1,122.9L499.4,122.8L499.4,122.5L499.3,122.2L497.1,120.7L497.9,117.1L501.0,111.0L503.3,108.4L507.2,105.4L512.6,103.1L512.6,103.1L517.4,100.8L517.6,100.6L517.6,100.3L516.8,98.4L516.6,98.2L516.4,98.2L511.6,98.9L511.6,99.0L506.0,100.9L501.3,102.4L501.2,102.4L497.3,104.7L497.1,104.8L495.5,107.5L495.5,107.5L494.0,110.5L491.7,112.8L491.6,113.0L490.8,116.5L489.2,119.1L489.2,119.4L489.3,119.6L490.9,121.1L491.0,121.2L493.3,122.6L493.4,122.6ZM634.9,182.1L634.5,178.3L634.4,175.7L634.1,173.0L633.8,170.9L632.8,173.0L632.2,175.7L632.5,179.6L632.8,182.5L632.5,185.7L632.5,188.5L632.5,191.5L634.5,190.6L633.8,188.5L634.4,186.4L636.4,184.5ZM636.4,198.1L638.3,197.5L637.2,196.0L635.7,195.7L634.1,194.9L632.5,192.9L631.9,194.9L631.7,197.1L630.1,197.5L629.3,199.2L629.6,201.3L630.9,200.7L630.9,199.2L632.5,199.2L634.5,200.3ZM614.6,221.8L615.4,221.2L616.2,220.1L616.7,218.2L616.2,217.1L614.8,216.5L613.5,217.3L613.1,217.7L613.1,218.6L614.0,219.2L613.9,221.0ZM598.9,237.9L599.3,237.0L600.3,234.8L600.9,233.1L600.1,232.2L599.5,232.7L598.7,233.7L597.9,235.3L598.1,236.5ZM582.7,243.3L583.5,241.9L582.7,241.1L581.2,241.3L579.9,242.3L579.9,243.6L581.3,244.3ZM535.8,264.0L537.3,263.1L537.4,261.6L536.6,260.0L535.8,258.7L534.6,257.9L534.3,260.5L534.3,262.4L534.7,263.8ZM583.5,278.2L585.1,278.9L586.7,278.6L588.3,278.9L589.4,280.0L591.1,279.8L591.9,279.0L591.9,277.4L592.7,275.9L593.8,275.1L593.8,273.5L594.6,272.2L596.2,271.9L594.9,270.3L594.3,269.1L594.1,267.5L595.1,266.2L596.5,265.3L594.6,264.3L593.8,263.2L592.7,262.4L591.7,263.2L590.6,264.8L589.1,265.9L587.5,267.2L586.4,268.4L584.3,269.1L584.0,269.7L582.7,270.7L581.5,270.3L580.4,271.1L580.4,273.0L580.7,274.8L582.0,275.9L582.3,277.8ZM563.8,271.1L564.6,272.7L565.7,273.8L566.6,275.1L567.4,276.7L568.5,278.2L570.1,279.8L571.7,281.1L573.0,282.2L574.1,282.7L575.3,282.7L575.6,279.8L575.6,278.2L574.1,277.1L573.3,275.9L572.2,274.3L571.4,272.7L570.1,271.9L568.5,270.7L567.4,270.0L566.2,269.2L564.6,268.0L563.3,266.7L562.2,265.3L560.6,265.3L558.7,264.6L559.1,265.9L560.2,267.5L561.4,268.4L562.5,269.9ZM617.8,278.7L618.6,279.8L619.9,279.7L621.4,280.5L623.0,280.8L624.6,281.4L626.2,282.4L627.4,284.1L627.0,285.1L626.2,286.8L627.8,286.3L629.3,286.7L630.9,287.9L632.5,288.1L634.4,287.8L634.5,286.7L635.7,285.7L637.2,285.9L638.8,286.5L639.6,287.8L641.2,289.1L642.8,289.7L644.8,290.2L646.4,289.9L645.1,289.1L643.5,287.8L642.3,286.5L641.2,285.4L640.7,284.4L641.7,283.8L640.4,282.8L638.5,281.9L637.2,280.3L635.7,279.5L633.3,278.6L630.9,277.6L629.3,277.1L627.0,276.3L625.4,276.0L623.0,277.8L621.4,278.7L620.3,277.4L620.2,275.4L619.1,274.6L617.2,274.1L615.1,274.8L615.6,275.9L617.5,277.0L619.1,277.4L617.0,277.9ZM683.1,335.8L683.6,336.6L683.6,338.4L683.4,339.8L682.4,340.7L682.2,341.1L682.4,341.5L683.5,342.3L683.6,342.3L684.3,342.8L684.1,343.4L684.1,343.4L683.7,345.1L682.2,344.5L681.5,343.3L681.1,343.0L680.6,343.1L679.8,343.7L679.6,343.9L679.0,345.4L678.2,347.1L677.4,348.4L675.6,349.7L675.6,349.7L673.5,351.2L673.4,351.3L672.0,352.8L672.0,352.9L670.7,354.7L670.6,355.1L670.7,355.4L671.5,356.3L671.7,356.5L673.3,357.2L673.5,357.2L675.0,357.5L675.4,357.4L676.9,356.7L677.1,356.6L678.2,355.5L678.4,355.3L679.2,353.5L679.2,353.4L679.6,351.9L681.4,351.1L681.7,350.7L682.0,349.1L683.2,347.7L683.3,347.6L684.0,345.9L684.0,345.8L684.8,346.3L685.1,346.4L685.4,346.3L686.5,345.4L686.6,345.3L687.9,343.4L687.9,343.2L688.2,341.8L689.2,341.3L689.4,341.2L690.4,339.7L690.5,339.4L690.3,337.6L690.1,337.2L689.6,337.2L688.5,337.7L687.2,337.6L686.3,336.8L685.9,335.7L685.7,335.5L684.5,334.8L684.0,333.3L683.8,333.1L682.3,332.2L681.4,331.1L681.1,330.9L680.7,331.0L680.5,331.2L680.5,331.6L681.0,333.1L681.1,333.3L682.3,334.4L683.1,335.7ZM641.8,348.9L642.4,346.7L642.3,344.4L640.4,344.4L638.5,344.4L636.8,344.0L637.5,346.3L638.0,348.4L638.8,350.2L640.4,349.9Z"/>
<path id="mheavy1" d="M267.6,94.0L268.8,93.4L270.4,90.7L270.6,89.8L269.8,85.3L269.4,84.5L265.4,80.9L265.3,80.8L262.1,78.5L260.9,78.4L257.7,79.7L257.0,80.4L255.5,84.0L255.4,84.8L255.7,85.5L258.9,88.6L262.8,93.1L263.6,93.6ZM235.3,91.4L231.4,90.9L229.8,93.2L234.5,93.2ZM253.0,95.5L253.5,94.5L253.5,94.5L256.6,95.4L258.2,92.7L255.9,90.9L254.6,91.6L254.6,91.5L254.1,90.8L250.9,89.0L250.6,88.8L245.8,87.9L244.7,88.3L241.6,91.4L241.2,92.4L241.8,93.3L246.5,96.4L247.3,96.6L252.0,96.2ZM233.8,97.4L235.3,95.0L232.2,93.6L229.8,95.0L229.8,96.7ZM219.8,103.5L219.5,103.9L222.7,104.3L222.9,104.7L226.1,107.0L226.1,107.0L229.3,109.0L230.1,109.1L234.0,107.9L237.9,107.2L241.0,106.8L241.6,106.5L241.9,105.9L242.2,102.9L242.0,102.2L241.4,101.8L238.3,101.1L237.0,98.8L236.4,98.4L235.6,98.5L232.7,100.2L229.1,100.2L226.0,99.9L225.5,99.9L225.1,100.0L226.0,98.2L226.0,97.4L225.4,96.9L222.2,95.7L221.5,95.7L216.8,97.6L216.5,97.8L213.4,100.5L213.0,101.1L213.2,101.8L213.7,102.2L218.4,103.7L219.1,103.7ZM222.5,102.7L222.2,102.7L222.5,102.6ZM254.2,105.7L254.5,105.0L254.5,101.2L254.3,100.7L253.9,100.3L249.9,98.8L249.2,98.8L244.5,100.3L243.8,101.0L243.0,104.0L243.2,104.8L243.8,105.3L248.5,106.4L248.8,106.4L253.6,106.0ZM256.4,111.9L256.4,114.3L256.4,113.8L256.3,113.4L254.4,109.9L253.6,109.4L250.5,109.0L249.6,109.3L247.3,111.6L247.1,111.8L245.6,114.1L245.4,114.7L245.6,115.2L247.1,117.6L247.4,117.8L249.8,119.4L249.9,119.5L253.0,121.0L253.7,121.1L254.2,120.8L256.6,118.5L256.8,117.7L257.2,118.0L260.4,118.7L261.2,118.6L265.2,115.5L265.5,114.9L266.6,111.1L266.6,110.4L266.1,109.9L262.6,108.3L262.1,108.2L260.4,108.4L260.8,108.0L261.6,105.3L261.5,104.6L260.9,104.1L257.8,103.0L256.7,103.2L255.2,104.7L254.9,105.4L254.9,107.3L255.1,108.0L255.8,108.3L258.9,108.6L258.2,109.1L256.6,111.4ZM242.4,111.2L240.9,110.8L240.1,112.3L242.4,112.7ZM281.1,113.9L284.3,114.3L287.4,113.9L285.1,112.3L280.7,111.9ZM127.9,120.5L124.0,119.7L124.0,121.9L127.2,121.5ZM257.6,129.4L257.8,128.8L257.4,126.2L256.9,125.5L253.7,124.5L252.9,124.7L250.5,127.4L250.3,128.1L250.8,128.7L253.9,130.3L254.5,130.4L257.2,129.7ZM139.8,146.9L141.7,146.6L139.8,145.4L136.9,145.0L136.9,146.3ZM278.0,149.4L279.5,148.8L278.8,148.3L277.2,147.7L276.7,148.8ZM283.0,150.2L281.1,149.1L281.4,150.8L282.4,151.3ZM146.6,155.0L145.3,154.7L144.1,155.2L146.1,156.3ZM165.8,163.7L167.7,162.3L167.4,160.5L165.4,161.0L164.3,162.3ZM199.3,173.8L201.1,176.5L200.3,173.6L200.1,171.7L198.2,171.5ZM208.5,180.6L205.6,180.3L208.5,183.3L210.9,185.2L213.2,186.2L213.2,184.5L210.9,182.1ZM162.7,242.9L163.5,241.6L161.9,240.9L161.9,242.1ZM284.8,244.4L286.7,244.9L287.9,244.6L286.7,243.8L284.6,243.9ZM265.3,274.3L264.5,273.5L263.8,274.0L264.2,275.1ZM504.6,77.7L498.3,77.3L490.4,80.0L484.1,80.9L479.3,82.8L484.1,85.0L490.4,84.6L496.7,84.1L503.0,83.7L509.3,81.8L510.9,80.0ZM565.1,93.6L565.3,93.7L570.9,94.1L571.2,94.1L574.3,92.3L574.5,92.0L574.5,91.6L572.9,88.0L572.5,87.7L568.0,87.3L565.8,84.7L565.7,84.6L562.6,81.9L560.2,79.7L559.8,79.5L555.0,80.4L554.8,80.6L551.6,83.8L551.5,84.1L551.5,84.4L551.8,84.6L556.4,85.9L559.5,89.4L559.6,89.5ZM429.9,96.8L430.0,97.1L432.4,99.0L432.5,99.0L434.8,100.5L435.1,100.6L435.4,100.5L437.0,98.9L437.1,98.9L438.5,96.8L442.2,96.8L442.5,96.7L442.7,96.4L443.5,93.8L443.3,93.3L442.1,92.2L443.3,90.9L447.9,88.6L448.0,88.6L451.2,86.3L451.4,86.0L451.3,85.6L449.7,83.8L449.4,83.6L444.7,82.7L444.6,82.7L439.8,82.7L439.7,82.7L436.5,83.6L436.5,83.7L433.4,85.0L430.3,85.4L427.2,85.4L426.9,85.5L425.0,86.9L424.8,87.3L425.1,90.1L425.2,90.3L426.8,92.6L426.9,92.6L429.1,94.8ZM521.2,113.9L520.4,111.9L518.0,112.7L518.8,113.9ZM503.5,125.6L503.0,123.9L500.6,124.3L501.4,126.0ZM486.4,126.6L484.5,128.3L485.6,129.3L487.5,128.3ZM288.2,130.6L286.7,131.6L289.0,133.2L289.8,131.9ZM437.0,163.4L438.3,162.6L438.1,161.3ZM428.1,167.2L427.2,166.1L425.9,168.3L427.5,169.1ZM423.7,168.5L425.3,168.8L425.1,167.7ZM309.6,183.3L306.4,182.3L308.0,183.8L310.7,184.2ZM309.1,191.5L310.3,190.6L309.6,190.6L306.9,189.9L307.2,190.8ZM422.0,200.7L422.8,201.6L423.3,200.3L423.1,198.1L421.8,199.4ZM413.6,205.5L413.3,204.7L412.0,205.3L412.7,205.9ZM446.9,213.7L445.4,213.5L445.4,214.0L446.9,214.4L448.5,214.4L449.8,214.0L448.8,213.9ZM459.3,214.4L459.6,215.0L461.2,215.0L461.9,214.4L462.7,213.3L460.4,213.9ZM304.3,244.6L304.5,243.9L302.1,243.8L302.1,244.6ZM600.0,253.8L600.0,252.3L598.5,252.1L599.2,253.8ZM311.9,257.5L311.9,256.3L310.7,256.5L310.7,257.5ZM593.3,260.2L593.8,260.3L595.4,258.7L596.6,257.1L597.3,255.5L596.2,257.3L594.6,258.9ZM576.0,276.3L574.4,276.3L575.3,277.9L576.4,277.9ZM586.7,286.7L588.9,287.0L589.1,286.0L588.0,285.7L586.4,284.7L584.8,284.3L583.2,283.8L581.2,284.4L579.3,283.8L577.2,283.2L575.6,283.2L574.4,284.3L575.6,284.6L577.2,285.4L579.6,285.7L582.0,286.0L584.3,286.5ZM597.4,287.0L597.8,287.6L600.1,287.6L602.5,287.1L602.2,286.5L599.3,286.8ZM594.6,286.7L592.5,286.8L590.8,286.7L589.2,286.5L589.4,287.1L591.1,287.5L593.0,287.8L595.4,287.6L596.2,287.0ZM598.1,288.6L596.2,288.7L597.3,289.7L599.0,289.5ZM315.9,370.5L317.0,368.7L314.3,368.2L311.9,369.5L313.5,370.7ZM645.9,104.3L642.0,102.0L637.2,102.8L632.5,102.4L627.8,102.4L624.6,105.0L627.8,107.3L632.5,107.0L635.7,106.2L638.8,105.0L643.5,105.4ZM634.9,111.9L631.7,110.0L629.3,112.3L632.5,113.1ZM692.5,119.7L690.9,119.7L690.1,121.2L692.5,121.9ZM642.8,192.4L641.2,193.3L638.8,194.9ZM624.6,210.7L624.9,209.5L624.1,210.9L623.0,212.5L622.2,213.3L620.3,213.3L618.3,213.5L616.7,214.0L615.1,215.4L615.1,216.3L616.7,216.3L618.3,215.8L620.6,215.0L621.8,215.8L622.2,217.1L623.3,217.1L624.3,215.8L624.6,215.2L626.2,215.0L627.4,215.0L628.1,214.0L628.9,213.5L629.3,214.0L630.6,213.1L630.4,212.1L630.9,210.5L630.9,208.5L631.7,207.5L632.5,205.5L632.2,203.9L631.5,201.6L630.1,202.0L629.3,202.8L629.3,204.5L629.0,206.5L627.8,208.5L626.6,210.1ZM619.1,215.8L617.5,216.5L617.3,217.7L618.3,218.6L619.1,217.5L620.3,217.3L620.8,216.0ZM599.3,251.7L600.6,251.5L601.7,252.0L603.0,252.8L604.1,253.4L604.1,252.5L603.0,251.3L601.7,250.8L600.4,250.0L600.1,248.4L600.9,247.4L601.4,245.8L601.2,243.9L600.1,243.6L598.9,243.8L598.4,245.8L597.8,247.4L597.6,248.6L598.1,249.9L598.7,250.7ZM604.5,253.6L604.9,255.5L605.2,257.1L606.0,257.3L606.8,255.7L606.1,253.6ZM600.9,256.8L601.7,257.9L602.8,256.8L602.5,255.2L600.9,254.7ZM606.3,264.6L606.8,263.7L607.7,263.2L608.0,261.1L607.5,259.2L606.4,257.9L604.9,259.5L603.8,260.7L602.5,260.0L601.2,261.1L600.9,262.4L601.7,262.4L603.0,261.6L604.1,262.4L604.4,263.5L605.6,264.0ZM610.4,271.1L609.6,270.3L609.8,271.9L609.6,273.5L610.4,274.8L610.4,273.5L611.5,271.9ZM600.4,280.9L601.9,281.7L602.5,280.6L601.7,279.0L600.9,277.9L600.6,276.5L602.2,275.9L603.1,275.1L602.2,274.8L600.6,274.9L599.3,275.6L598.4,275.1L597.8,273.8L598.5,272.7L600.1,272.7L602.5,272.9L604.4,272.9L605.6,271.0L604.9,271.4L603.3,271.9L601.4,271.9L599.3,271.4L598.1,272.1L597.4,273.5L597.0,274.8L596.5,276.3L595.9,277.9L596.6,279.0L597.0,280.6L597.0,282.2L598.4,282.4L598.4,280.6L598.2,278.2L599.3,277.8L599.8,279.5ZM613.5,279.2L614.8,278.6L612.8,277.9L610.4,278.2L611.2,279.0ZM608.8,278.4L607.2,278.6L607.5,279.5L609.1,279.3ZM647.5,278.7L649.4,280.8L649.9,280.3L648.3,278.7L646.4,277.6ZM645.1,281.6L642.4,282.4L643.5,283.3L645.9,283.2L648.3,281.9L648.8,280.3L647.5,280.3ZM654.1,284.4L654.3,283.5L652.5,282.2L652.7,283.3ZM658.5,286.7L660.1,286.8L657.8,285.9L655.4,284.6L656.2,285.5ZM604.5,288.6L603.3,289.9L604.5,289.7L606.0,288.9L608.0,287.9L609.1,286.8L608.0,287.0L606.0,287.8ZM663.3,289.9L662.2,288.9L660.6,288.3L661.7,289.2ZM672.8,299.9L672.4,298.8L671.3,297.5L671.7,298.6ZM692.2,300.4L692.5,299.4L690.9,299.6L690.6,300.6ZM690.1,301.6L688.2,301.6L688.4,302.7L690.3,302.7ZM670.9,309.5L672.0,309.5L669.6,307.4L667.2,305.9L668.5,307.8Z"/>
<path id="mstreak0" d="M446.9,209.5L448.5,210.5L449.3,207.9L450.1,206.1L450.9,211.5L452.5,212.1M396.7,163.7L396.9,161.5L398.0,160.2M631.7,288.1L634.1,288.3"/>
<path id="mstreak1" d="M307.2,155.8L309.6,161.0L311.9,166.4L316.7,170.4L319.8,175.7M323.0,128.3L321.4,121.5L319.8,113.9L316.7,106.2L310.3,101.6L300.9,102.4L296.1,96.7M373.5,137.1L371.1,138.7L370.4,140.6L372.7,142.8M597.8,235.3L599.0,237.5"/>
<path id="mstreak2" d="M563.5,251.2L563.8,254.4L564.0,257.3M607.7,215.2L607.9,212.5L607.5,209.5M304.0,195.5L306.4,194.2L309.6,193.1L311.9,192.6L313.0,190.4M324.6,138.1L326.1,142.8L328.5,147.4L330.9,151.6L335.6,154.4L339.6,155.8M431.9,194.6L434.0,197.1L435.9,198.4L437.5,199.4"/>
<path id="mstreak3" d="M417.4,159.7L419.3,161.0L421.7,160.5L424.0,158.4M171.4,156.3L165.8,158.9L161.9,162.3L158.0,165.6L154.0,168.0L150.5,169.6L146.9,171.2L143.7,173.0L140.6,174.6M177.7,153.8L173.7,155.0L169.8,157.1M563.6,259.2L565.1,262.1L566.8,264.8L568.2,268.0L570.1,270.3L572.2,271.1M285.1,113.9L278.8,111.9L272.4,110.8L267.7,113.9"/>
<path id="mstreak4" d="M294.1,371.3L297.7,373.9L300.4,376.6L304.0,377.4M399.4,167.7L398.8,165.0L399.1,162.1L400.4,159.7L403.2,159.2M607.7,215.4L609.6,215.2L611.6,214.4M341.9,151.6L343.5,146.0L345.9,140.3L351.4,138.4L357.7,132.2L365.6,129.9L371.9,123.9L372.7,115.8L375.1,108.1L377.5,100.5L378.2,92.3L379.8,85.5"/>
<path id="mstreak5" d="M440.3,205.3L441.9,207.9L443.0,210.5L444.6,210.9L445.0,208.9L444.6,206.5L446.1,203.9M421.5,168.3L421.8,165.0L424.0,162.6"/>
<path id="mstreak6" d="M416.5,158.4L416.1,155.8L416.1,151.6L417.3,149.1L419.3,147.4L422.5,145.0L424.8,142.5L426.9,139.7L428.5,136.5L430.0,133.2L431.6,130.6L433.5,128.6L435.9,126.6L438.3,124.9L441.4,123.9L445.4,121.9L448.5,121.5"/>
<path id="mstreak7" d="M292.0,346.7L291.4,351.0L290.0,355.5L289.7,360.1L290.0,364.9L291.1,370.0L293.4,373.9L296.9,376.8L300.1,378.8M211.6,182.5L208.5,180.1L206.1,177.0L203.7,173.0L202.2,169.1L199.0,165.6L196.6,162.3L194.3,159.7"/>
<path id="mextra" d="M137.5,175.7h1.5M134.3,176.5h1.5M131.9,176.8h1.5M128.5,177.5h2.0M126.4,177.8h1.5M690.2,178.3h1.5M687.8,177.3h1.5M681.2,174.9h2.0M669.4,169.1h2.0M672.2,169.9h1.2M644.5,191.0h1.2M647.4,189.2h1.2M649.3,186.4h1.2M651.8,183.3h1.5M653.5,181.1h1.5M305.5,244.1h1.2M308.3,244.4h1.0M308.6,245.8h1.0M310.1,246.1h1.2M310.4,247.6h1.5M310.8,248.9h1.2M311.2,250.2h1.5M311.3,251.3h1.2M311.1,252.5h1.0M310.3,254.2h1.0M313.5,252.5h1.2M298.5,254.1h1.5M297.2,253.6h1.0M285.4,232.5h1.0M287.2,232.7h1.5M288.4,234.1h1.2M289.2,235.5h1.2M290.4,236.7h1.0M291.4,239.2h1.5M293.9,238.4h1.2M292.5,237.2h1.0M284.6,234.1h1.5M284.3,233.4h1.5M522.4,256.0h1.0M523.0,260.3h1.0M523.5,262.7h1.0M523.4,264.8h1.2M523.6,266.9h1.2M523.4,268.8h1.2M523.3,270.7h1.0M523.5,273.0h1.0M523.3,274.4h1.0M521.5,283.0h1.0M520.7,285.1h1.0M554.6,252.3h1.0M554.2,253.9h1.2M554.1,255.1h1.0M553.8,256.5h1.0M554.6,260.0h1.0M555.6,262.1h1.2M495.3,280.8h1.2M480.9,288.4h1.0M477.6,292.9h1.2M479.1,293.9h1.0M507.9,305.2h1.0M497.1,290.0h1.0M637.8,244.6h1.0M638.0,247.1h1.0M637.7,249.2h1.2M637.0,250.8h1.0M636.2,252.1h1.5M619.9,261.6h1.5M625.8,258.4h1.0M647.4,261.8h1.2M657.3,262.6h1.5M665.2,265.1h1.0M672.3,259.2h1.0M677.8,262.3h1.0M675.4,256.0h1.0M669.1,255.5h1.0M680.9,271.3h1.0M683.3,274.6h1.0M685.7,276.7h1.0M671.3,274.3h1.0M660.5,288.6h1.5M663.0,290.2h1.5M669.8,290.5h1.2M671.8,296.3h1.0M673.3,299.6h1.5M673.4,301.9h1.2M675.2,304.9h1.2M675.9,306.1h1.0M672.9,308.1h1.0M688.3,302.1h2.0M690.6,300.1h1.5M687.6,293.4h1.0M690.7,287.0h1.0M673.0,321.4h1.0M658.8,326.0h1.0M135.1,295.2h1.5M136.5,295.7h1.2M138.2,296.3h1.0M131.0,307.8h1.2M133.0,303.6h1.0M129.5,294.7h1.0M126.5,296.3h1.0M136.4,288.1h1.0M155.4,307.8h1.0M158.4,309.0h1.0M171.4,301.7h1.5M168.5,300.1h1.0M178.0,299.1h1.0M181.9,300.7h1.0M185.9,302.4h1.0M189.0,306.6h1.0M194.6,311.0h1.0M186.4,287.6h1.2M188.1,289.1h1.2M158.9,270.5h1.5M156.2,267.3h1.0M154.5,274.1h1.0M202.3,314.5h1.0M235.0,318.0h1.0M127.6,227.1h1.0M140.1,246.7h1.0M151.9,264.2h1.0M168.2,291.6h1.0M161.6,282.4h1.0M145.9,290.8h1.0M150.2,302.6h1.0M155.6,237.9h1.5M159.7,239.4h1.2M154.8,238.0h1.0M367.4,208.9h1.2M364.8,207.1h1.0M363.0,207.5h1.2M358.5,205.5h1.0M380.8,218.8h1.2M382.2,226.3h1.5M379.5,226.2h1.0M383.2,227.4h1.2M385.9,226.2h1.2M369.8,247.9h1.2M370.4,249.5h1.5M368.3,246.3h1.0M371.6,247.6h1.0M418.1,273.0h1.2M419.4,271.0h1.0M398.7,298.9h1.0M385.0,286.0h1.0M305.4,219.6h1.0M347.8,376.0h1.5M350.0,376.6h1.2M388.3,336.7h1.0M365.9,385.9h1.0M394.1,121.5h1.5M437.8,108.5h1.0M517.0,363.2h2.0M518.4,363.7h1.5M530.1,338.1h1.0M489.4,356.4h1.0M467.4,357.3h1.0M523.8,372.8h1.0M560.6,292.9h1.0M574.7,290.2h1.0M128.8,351.0h1.5M669.8,366.7h1.2M674.9,371.3h1.0M658.7,376.8h1.0M672.8,357.8h1.5M395.0,121.5h1.2M447.2,100.5h1.0M437.6,108.1h1.0M529.3,87.7h1.0M533.2,80.9h1.2M549.9,98.2h1.0M537.2,105.0h1.0M584.6,108.1h1.0M621.7,110.0h1.0M647.7,99.7h1.2M654.9,98.6h1.0M662.0,126.6h1.0M674.6,124.9h1.0M603.2,233.7h1.2M605.6,233.1h1.0M608.0,230.4h1.0M611.2,227.8h1.2M612.3,226.7h1.2M613.6,223.1h1.5M614.6,222.5h1.0M632.3,229.2h1.0M630.9,233.1h1.0M628.5,218.1h1.0M627.9,215.0h1.0M611.8,215.6h1.2M611.1,218.8h1.0M614.5,209.5h1.0"/>
</defs>
<clipPath id="clip_a"><rect x="123.8" y="58.0" width="568.0" height="339.2"/></clipPath>
<g clip-path="url(#clip_a)"><g transform="translate(0.0,0.0)" stroke-linejoin="round" stroke="#B4B4B4">
<use href="#mland" fill="#BBCEE7" stroke-width="1.0"/>
<use href="#mc_usa" fill="#D7E4F1" stroke-width="1.0"/>
<use href="#mc_alaska" fill="#D7E4F1" stroke-width="1.0"/>
<use href="#mc_china" fill="#D7E4F1" stroke-width="1.0"/>
<use href="#mc_iran" fill="#D7E4F1" stroke-width="1.0"/>
<use href="#mc_ethiopia" fill="#D7E4F1" stroke-width="1.0"/>
<use href="#mc_civ" fill="#D7E4F1" stroke-width="1.0"/>
<use href="#mc_madagascar" fill="#D7E4F1" stroke-width="1.0"/>
<use href="#mc_germany" fill="#D7E4F1" stroke-width="1.0"/>
<use href="#mc_france" fill="#D7E4F1" stroke-width="1.0"/>
<use href="#mc_corsica" fill="#D7E4F1" stroke-width="1.0"/>
<use href="#mc_spain" fill="#D7E4F1" stroke-width="1.0"/>
<use href="#mc_italy" fill="#D7E4F1" stroke-width="1.0"/>
<use href="#mc_uk" fill="#D7E4F1" stroke-width="1.0"/>
<use href="#mc_nireland" fill="#D7E4F1" stroke-width="1.0"/>
<use href="#mborders" fill="none" stroke-width="0.9"/>
<use href="#mland" fill="none" stroke-width="1.3"/>
<use href="#mheavy0" fill="none" stroke-width="1.3"/>
<use href="#mheavy1" fill="none" stroke-width="1.6"/>
<use href="#mstreak0" fill="none" stroke-width="1.5" stroke-linecap="round"/>
<use href="#mstreak1" fill="none" stroke-width="1.6" stroke-linecap="round"/>
<use href="#mstreak2" fill="none" stroke-width="1.8" stroke-linecap="round"/>
<use href="#mstreak3" fill="none" stroke-width="2.0" stroke-linecap="round"/>
<use href="#mstreak4" fill="none" stroke-width="2.2" stroke-linecap="round"/>
<use href="#mstreak5" fill="none" stroke-width="2.4" stroke-linecap="round"/>
<use href="#mstreak6" fill="none" stroke-width="2.6" stroke-linecap="round"/>
<use href="#mstreak7" fill="none" stroke-width="3.0" stroke-linecap="round"/>
<use href="#mextra" fill="none" stroke-width="1.3"/>
</g></g>
<rect x="122.2" y="56.5" width="571.0" height="342.2" fill="none" stroke="#000" stroke-width="1.00" />
<text x="406.2" y="34.7" font-family="'Liberation Sans', Arial, Helvetica, sans-serif" font-size="27.00" text-anchor="middle" fill="#000" font-weight="normal" >New normal</text>
<text x="462.9" y="384.3" font-family="'Liberation Sans', Arial, Helvetica, sans-serif" font-size="27.00" text-anchor="middle" fill="#000" font-weight="normal" >–39.5%</text>
<text transform="translate(120.5,23.8) scale(0.92,1)" font-family="'Liberation Sans', Arial, sans-serif" font-size="32.5" font-weight="bold">a</text>
<clipPath id="clip_b"><rect x="755.5" y="59.2" width="567.8" height="339.5"/></clipPath>
<g clip-path="url(#clip_b)"><g transform="translate(630.8,0.0)" stroke-linejoin="round" stroke="#B4B4B4">
<use href="#mland" fill="#A48ED6" stroke-width="1.0"/>
<use href="#mc_usa" fill="#A2B3DF" stroke-width="1.0"/>
<use href="#mc_alaska" fill="#A2B3DF" stroke-width="1.0"/>
<use href="#mc_china" fill="#A2B3DF" stroke-width="1.0"/>
<use href="#mc_iran" fill="#A2B3DF" stroke-width="1.0"/>
<use href="#mc_ethiopia" fill="#A2B3DF" stroke-width="1.0"/>
<use href="#mc_civ" fill="#A2B3DF" stroke-width="1.0"/>
<use href="#mc_madagascar" fill="#A2B3DF" stroke-width="1.0"/>
<use href="#mc_germany" fill="#A2B3DF" stroke-width="1.0"/>
<use href="#mc_france" fill="#A2B3DF" stroke-width="1.0"/>
<use href="#mc_corsica" fill="#A2B3DF" stroke-width="1.0"/>
<use href="#mc_spain" fill="#A2B3DF" stroke-width="1.0"/>
<use href="#mc_italy" fill="#A2B3DF" stroke-width="1.0"/>
<use href="#mc_uk" fill="#A2B3DF" stroke-width="1.0"/>
<use href="#mc_nireland" fill="#A2B3DF" stroke-width="1.0"/>
<use href="#mborders" fill="none" stroke-width="0.9"/>
<use href="#mland" fill="none" stroke-width="1.3"/>
<use href="#mheavy0" fill="none" stroke-width="1.3"/>
<use href="#mheavy1" fill="none" stroke-width="1.6"/>
<use href="#mstreak0" fill="none" stroke-width="1.5" stroke-linecap="round"/>
<use href="#mstreak1" fill="none" stroke-width="1.6" stroke-linecap="round"/>
<use href="#mstreak2" fill="none" stroke-width="1.8" stroke-linecap="round"/>
<use href="#mstreak3" fill="none" stroke-width="2.0" stroke-linecap="round"/>
<use href="#mstreak4" fill="none" stroke-width="2.2" stroke-linecap="round"/>
<use href="#mstreak5" fill="none" stroke-width="2.4" stroke-linecap="round"/>
<use href="#mstreak6" fill="none" stroke-width="2.6" stroke-linecap="round"/>
<use href="#mstreak7" fill="none" stroke-width="3.0" stroke-linecap="round"/>
<use href="#mextra" fill="none" stroke-width="1.3"/>
</g></g>
<rect x="754.0" y="57.7" width="570.8" height="342.5" fill="none" stroke="#000" stroke-width="1.00" />
<text x="1039.4" y="34.7" font-family="'Liberation Sans', Arial, Helvetica, sans-serif" font-size="27.00" text-anchor="middle" fill="#000" font-weight="normal" >Recurrent with cooperation</text>
<text x="1094.5" y="386.4" font-family="'Liberation Sans', Arial, Helvetica, sans-serif" font-size="27.00" text-anchor="middle" fill="#000" font-weight="normal" >–49.5%</text>
<text transform="translate(752.5,23.8) scale(0.92,1)" font-family="'Liberation Sans', Arial, sans-serif" font-size="32.5" font-weight="bold">b</text>
<clipPath id="clip_c"><rect x="1391.5" y="59.2" width="567.8" height="339.5"/></clipPath>
<g clip-path="url(#clip_c)"><g transform="translate(1267.8,-0.2)" stroke-linejoin="round" stroke="#C2C2C2">
<use href="#mland" fill="#9328B1" stroke-width="1.0"/>
<use href="#mc_usa" fill="#A35AC6" stroke-width="1.0"/>
<use href="#mc_alaska" fill="#A35AC6" stroke-width="1.0"/>
<use href="#mc_germany" fill="#A35AC6" stroke-width="1.0"/>
<use href="#mc_france" fill="#A35AC6" stroke-width="1.0"/>
<use href="#mc_corsica" fill="#A35AC6" stroke-width="1.0"/>
<use href="#mc_spain" fill="#A35AC6" stroke-width="1.0"/>
<use href="#mc_italy" fill="#A35AC6" stroke-width="1.0"/>
<use href="#mc_uk" fill="#A35AC6" stroke-width="1.0"/>
<use href="#mc_nireland" fill="#A35AC6" stroke-width="1.0"/>
<use href="#mc_china" fill="#82238E" stroke-width="1.0"/>
<use href="#mc_kazakhstan" fill="#82238E" stroke-width="1.0"/>
<use href="#mc_mongolia" fill="#82238E" stroke-width="1.0"/>
<use href="#mc_sudan" fill="#82238E" stroke-width="1.0"/>
<use href="#mc_myanmar" fill="#82238E" stroke-width="1.0"/>
<use href="#mc_somalia" fill="#82238E" stroke-width="1.0"/>
<use href="#mc_guinea" fill="#82238E" stroke-width="1.0"/>
<use href="#mc_cambodia" fill="#82238E" stroke-width="1.0"/>
<use href="#mc_nkorea" fill="#82238E" stroke-width="1.0"/>
<use href="#mc_japan" fill="#82238E" stroke-width="1.0"/>
<use href="#mc_taiwan" fill="#82238E" stroke-width="1.0"/>
<use href="#mc_benin" fill="#82238E" stroke-width="1.0"/>
<use href="#mc_kyrgyzstan" fill="#5C1E5C" stroke-width="1.0"/>
<use href="#mc_paraguay" fill="#5C1E5C" stroke-width="1.0"/>
<use href="#mborders" fill="none" stroke-width="0.9"/>
<use href="#mland" fill="none" stroke-width="1.3"/>
<use href="#mheavy0" fill="none" stroke-width="1.3"/>
<use href="#mheavy1" fill="none" stroke-width="1.6"/>
<use href="#mstreak0" fill="none" stroke-width="1.5" stroke-linecap="round"/>
<use href="#mstreak1" fill="none" stroke-width="1.6" stroke-linecap="round"/>
<use href="#mstreak2" fill="none" stroke-width="1.8" stroke-linecap="round"/>
<use href="#mstreak3" fill="none" stroke-width="2.0" stroke-linecap="round"/>
<use href="#mstreak4" fill="none" stroke-width="2.2" stroke-linecap="round"/>
<use href="#mstreak5" fill="none" stroke-width="2.4" stroke-linecap="round"/>
<use href="#mstreak6" fill="none" stroke-width="2.6" stroke-linecap="round"/>
<use href="#mstreak7" fill="none" stroke-width="3.0" stroke-linecap="round"/>
<use href="#mextra" fill="none" stroke-width="1.3"/>
</g></g>
<rect x="1390.0" y="57.7" width="570.8" height="342.5" fill="none" stroke="#000" stroke-width="1.00" />
<text x="1675.4" y="34.7" font-family="'Liberation Sans', Arial, Helvetica, sans-serif" font-size="27.00" text-anchor="middle" fill="#000" font-weight="normal" >Recurrent without cooperation</text>
<text x="1730.4" y="386.4" font-family="'Liberation Sans', Arial, Helvetica, sans-serif" font-size="27.00" text-anchor="middle" fill="#000" font-weight="normal" >–61.5%</text>
<text transform="translate(1389.0,23.8) scale(0.92,1)" font-family="'Liberation Sans', Arial, sans-serif" font-size="32.5" font-weight="bold">c</text>
<defs><linearGradient id="cb" x1="0" y1="0" x2="0" y2="1">
<stop offset="0.000" stop-color="#EEF3FA"/>
<stop offset="0.100" stop-color="#EBF2F9"/>
<stop offset="0.200" stop-color="#DDE8F3"/>
<stop offset="0.280" stop-color="#C9DAEC"/>
<stop offset="0.366" stop-color="#B5CAE6"/>
<stop offset="0.436" stop-color="#9FB0DD"/>
<stop offset="0.500" stop-color="#A59AD6"/>
<stop offset="0.586" stop-color="#A48BD3"/>
<stop offset="0.630" stop-color="#A87ACF"/>
<stop offset="0.660" stop-color="#A259C5"/>
<stop offset="0.718" stop-color="#9B3FB8"/>
<stop offset="0.770" stop-color="#902AAF"/>
<stop offset="0.824" stop-color="#6F237F"/>
<stop offset="0.881" stop-color="#5C1E5C"/>
<stop offset="0.930" stop-color="#6B2172"/>
<stop offset="1.000" stop-color="#862D96"/>
</linearGradient></defs>
<rect x="2010.9" y="109.8" width="35.2" height="278.2" fill="url(#cb)" stroke="#111" stroke-width="1.40" />
<text x="1986.0" y="84.8" font-family="'Liberation Sans', Arial, Helvetica, sans-serif" font-size="27.00" text-anchor="start" fill="#000" font-weight="normal" >Losses</text>
<text x="2061.5" y="120.6" font-family="'Liberation Sans', Arial, Helvetica, sans-serif" font-size="27.00" text-anchor="start" fill="#000" font-weight="normal" >0</text>
<text x="2061.5" y="398.0" font-family="'Liberation Sans', Arial, Helvetica, sans-serif" font-size="27.00" text-anchor="start" fill="#000" font-weight="normal" >70</text>
<path d="M134.2,481.0 L144.7,513.5 L150.3,518.4 L158.4,521.3 L172.1,521.9 L177.7,550.6 L182.6,615.2 L188.2,674.5 L193.9,682.9 L199.5,686.5 L206.8,683.7 L215.6,682.6 L227.7,694.5 L233.4,697.4 L243.9,703.5 L260.0,708.4 L282.6,710.8 L287.4,697.4 L295.5,666.8 L303.5,644.2 L315.6,624.5 L321.3,621.3 L331.8,624.8 L337.4,616.0 L348.7,590.2 L384.2,553.9 L400.0,550.2 L411.6,549.0 L692.7,481.0Z" fill="#707070" />
<path d="M134.2,481.0 L144.7,513.4 L150.3,518.2 L172.1,519.5 L177.7,545.8 L182.6,594.2 L188.2,611.9 L193.9,617.6 L199.5,619.7 L206.8,615.2 L215.6,611.1 L227.7,617.1 L233.4,616.5 L239.0,617.6 L260.0,623.2 L282.6,624.5 L287.4,615.2 L303.5,579.7 L315.6,561.9 L321.3,558.2 L331.8,561.1 L337.4,554.7 L348.7,539.4 L384.2,526.5 L400.0,523.2 L692.7,481.0Z" fill="#64C2D2" />
<path d="M134.2,481.0 L144.7,513.2 L150.3,518.1 L172.1,519.2 L179.4,539.4 L188.2,572.4 L193.9,575.6 L199.5,577.3 L206.8,573.2 L222.9,562.3 L233.4,560.6 L260.0,564.4 L282.6,565.2 L303.5,543.4 L315.6,533.7 L321.3,532.6 L331.8,535.8 L336.6,533.7 L348.7,521.3 L384.2,510.3 L400.0,508.4 L692.7,481.0Z" fill="#F8913A" />
<path d="M134.2,481.0 L144.7,513.2 L150.3,517.9 L172.1,519.2 L179.4,537.7 L188.2,565.2 L193.9,568.7 L199.5,570.0 L206.8,565.5 L222.9,554.4 L233.4,551.9 L260.0,555.2 L282.6,555.5 L303.5,538.5 L315.6,529.7 L321.3,528.1 L331.8,531.3 L336.6,529.7 L348.7,517.6 L384.2,507.9 L400.0,505.8 L692.7,481.0Z" fill="#305CA6" />
<path d="M134.2,481.0 L144.7,513.2 L150.3,517.7 L172.1,519.2 L177.7,531.3 L182.6,544.2 L188.2,553.9 L193.9,557.9 L199.5,558.7 L206.8,553.9 L222.9,541.0 L233.4,537.4 L239.0,536.9 L260.0,539.4 L282.6,540.2 L287.4,537.7 L303.5,524.8 L315.6,517.6 L321.3,516.5 L331.8,520.3 L336.6,518.4 L348.7,508.7 L384.2,502.7 L400.0,502.3 L692.7,481.0Z" fill="#4CB04E" />
<path d="M134.2,481.0 L144.7,513.2 L150.3,517.6 L172.1,519.2 L185.8,521.3 L193.9,522.7 L199.5,522.7 L206.8,517.6 L222.9,501.5 L233.4,493.4 L239.0,491.8 L287.4,491.0 L319.7,491.5 L326.1,492.6 L331.8,495.3 L336.6,495.8 L342.3,492.6 L347.9,489.7 L384.2,488.5 L400.0,487.4 L692.7,481.0Z" fill="#E94B25" />
<rect x="122.2" y="481.0" width="571.0" height="342.5" fill="none" stroke="#000" stroke-width="1.00" />
<line x1="100.0" y1="481.0" x2="122.2" y2="481.0" stroke="#000" stroke-width="1.00"/>
<text x="87.2" y="490.4" font-family="'Liberation Sans', Arial, Helvetica, sans-serif" font-size="27.00" text-anchor="end" fill="#000" font-weight="normal" >0</text>
<line x1="100.0" y1="566.6" x2="122.2" y2="566.6" stroke="#000" stroke-width="1.00"/>
<line x1="100.0" y1="652.2" x2="122.2" y2="652.2" stroke="#000" stroke-width="1.00"/>
<text x="87.2" y="661.6" font-family="'Liberation Sans', Arial, Helvetica, sans-serif" font-size="27.00" text-anchor="end" fill="#000" font-weight="normal" >–40</text>
<line x1="100.0" y1="737.9" x2="122.2" y2="737.9" stroke="#000" stroke-width="1.00"/>
<line x1="100.0" y1="823.5" x2="122.2" y2="823.5" stroke="#000" stroke-width="1.00"/>
<text x="87.2" y="832.9" font-family="'Liberation Sans', Arial, Helvetica, sans-serif" font-size="27.00" text-anchor="end" fill="#000" font-weight="normal" >–80</text>
<line x1="122.2" y1="823.5" x2="122.2" y2="837.0" stroke="#000" stroke-width="1.00"/>
<line x1="147.1" y1="823.5" x2="147.1" y2="837.0" stroke="#000" stroke-width="1.00"/>
<line x1="171.9" y1="823.5" x2="171.9" y2="837.0" stroke="#000" stroke-width="1.00"/>
<line x1="196.7" y1="823.5" x2="196.7" y2="837.0" stroke="#000" stroke-width="1.00"/>
<line x1="221.6" y1="823.5" x2="221.6" y2="837.0" stroke="#000" stroke-width="1.00"/>
<line x1="246.4" y1="823.5" x2="246.4" y2="837.0" stroke="#000" stroke-width="1.00"/>
<line x1="271.2" y1="823.5" x2="271.2" y2="837.0" stroke="#000" stroke-width="1.00"/>
<line x1="296.0" y1="823.5" x2="296.0" y2="837.0" stroke="#000" stroke-width="1.00"/>
<line x1="320.9" y1="823.5" x2="320.9" y2="837.0" stroke="#000" stroke-width="1.00"/>
<line x1="345.7" y1="823.5" x2="345.7" y2="837.0" stroke="#000" stroke-width="1.00"/>
<line x1="370.5" y1="823.5" x2="370.5" y2="837.0" stroke="#000" stroke-width="1.00"/>
<line x1="395.4" y1="823.5" x2="395.4" y2="837.0" stroke="#000" stroke-width="1.00"/>
<line x1="420.2" y1="823.5" x2="420.2" y2="837.0" stroke="#000" stroke-width="1.00"/>
<line x1="420.2" y1="803.5" x2="420.2" y2="823.5" stroke="#000" stroke-width="1.00"/>
<line x1="445.0" y1="823.5" x2="445.0" y2="837.0" stroke="#000" stroke-width="1.00"/>
<line x1="469.8" y1="823.5" x2="469.8" y2="837.0" stroke="#000" stroke-width="1.00"/>
<line x1="494.7" y1="823.5" x2="494.7" y2="837.0" stroke="#000" stroke-width="1.00"/>
<line x1="519.5" y1="823.5" x2="519.5" y2="837.0" stroke="#000" stroke-width="1.00"/>
<line x1="544.3" y1="823.5" x2="544.3" y2="837.0" stroke="#000" stroke-width="1.00"/>
<line x1="569.2" y1="823.5" x2="569.2" y2="837.0" stroke="#000" stroke-width="1.00"/>
<line x1="594.0" y1="823.5" x2="594.0" y2="837.0" stroke="#000" stroke-width="1.00"/>
<line x1="618.8" y1="823.5" x2="618.8" y2="837.0" stroke="#000" stroke-width="1.00"/>
<line x1="643.6" y1="823.5" x2="643.6" y2="837.0" stroke="#000" stroke-width="1.00"/>
<line x1="668.5" y1="823.5" x2="668.5" y2="837.0" stroke="#000" stroke-width="1.00"/>
<line x1="693.3" y1="823.5" x2="693.3" y2="837.0" stroke="#000" stroke-width="1.00"/>
<text x="122.2" y="874.1" font-family="'Liberation Sans', Arial, Helvetica, sans-serif" font-size="27.00" text-anchor="middle" fill="#000" font-weight="normal" >Jan</text>
<text x="221.6" y="874.1" font-family="'Liberation Sans', Arial, Helvetica, sans-serif" font-size="27.00" text-anchor="middle" fill="#000" font-weight="normal" >May</text>
<text x="320.9" y="874.1" font-family="'Liberation Sans', Arial, Helvetica, sans-serif" font-size="27.00" text-anchor="middle" fill="#000" font-weight="normal" >Sep</text>
<text x="420.2" y="874.1" font-family="'Liberation Sans', Arial, Helvetica, sans-serif" font-size="27.00" text-anchor="middle" fill="#000" font-weight="normal" >Jan</text>
<text x="519.5" y="874.1" font-family="'Liberation Sans', Arial, Helvetica, sans-serif" font-size="27.00" text-anchor="middle" fill="#000" font-weight="normal" >May</text>
<text x="618.8" y="874.1" font-family="'Liberation Sans', Arial, Helvetica, sans-serif" font-size="27.00" text-anchor="middle" fill="#000" font-weight="normal" >Sep</text>
<path d="M816.3,482.6 L826.8,516.0 L832.7,521.3 L838.4,523.5 L854.5,524.0 L859.4,545.8 L865.0,615.2 L870.6,674.8 L877.1,684.2 L881.9,686.9 L888.4,684.5 L898.1,682.9 L903.7,689.4 L909.4,693.9 L915.8,695.8 L927.1,697.4 L943.2,702.3 L965.0,704.4 L969.0,695.8 L975.5,671.6 L981.1,655.5 L986.8,646.6 L992.4,638.5 L1003.7,619.7 L1007.7,617.6 L1014.2,616.0 L1020.6,597.4 L1030.3,555.5 L1036.8,539.4 L1048.1,516.8 L1064.2,491.0 L1072.3,484.5 L1085.2,482.6Z" fill="#707070" />
<path d="M816.3,482.6 L826.8,515.8 L832.7,520.8 L838.4,522.6 L854.5,522.4 L859.4,542.6 L865.0,595.8 L871.5,614.4 L877.1,619.2 L881.9,620.8 L888.4,617.6 L898.9,611.5 L903.7,614.7 L909.4,617.1 L921.5,614.0 L927.1,614.0 L943.2,616.8 L965.0,618.7 L969.0,611.9 L981.1,588.5 L986.8,582.9 L992.4,574.8 L1003.7,557.1 L1007.7,554.7 L1014.2,553.1 L1020.6,537.7 L1030.3,508.7 L1038.4,501.5 L1056.1,491.0 L1072.3,484.0 L1085.2,482.6Z" fill="#64C2D2" />
<path d="M816.3,482.6 L826.8,515.6 L832.7,520.5 L838.4,521.8 L854.5,521.6 L861.0,539.4 L870.6,573.2 L877.1,577.3 L881.9,578.9 L888.4,574.8 L904.5,563.5 L911.0,562.4 L922.3,557.9 L927.1,557.4 L943.2,558.7 L965.0,560.0 L975.5,549.0 L981.1,546.8 L986.8,547.4 L992.4,546.3 L1004.5,539.8 L1014.2,539.4 L1020.6,525.6 L1031.9,503.9 L1038.4,500.2 L1056.1,490.6 L1072.3,483.9 L1085.2,482.6Z" fill="#F8913A" />
<path d="M816.3,482.6 L826.8,515.5 L832.7,520.3 L838.4,521.6 L854.5,521.5 L861.0,537.7 L870.6,566.5 L877.1,570.3 L881.9,571.6 L888.4,567.6 L904.5,556.0 L911.0,553.9 L922.3,549.0 L927.1,548.5 L943.2,549.5 L965.0,550.2 L975.5,541.8 L981.1,540.2 L986.8,542.1 L992.4,541.5 L1004.5,536.1 L1014.2,535.8 L1020.6,523.2 L1031.9,502.3 L1038.4,499.0 L1056.1,490.2 L1072.3,483.7 L1085.2,482.6Z" fill="#305CA6" />
<path d="M816.3,482.6 L826.8,515.3 L832.7,520.2 L838.4,521.5 L854.5,521.3 L859.4,531.3 L865.0,547.4 L871.5,557.1 L877.1,559.5 L881.9,560.3 L888.4,556.8 L904.5,542.6 L911.0,539.7 L922.3,534.0 L927.1,533.2 L943.2,534.5 L965.8,535.3 L975.5,529.7 L981.1,528.1 L986.8,530.2 L992.4,530.2 L1004.5,525.2 L1014.2,524.8 L1019.0,518.4 L1031.9,498.2 L1038.4,494.2 L1056.1,487.7 L1072.3,483.2 L1085.2,482.6Z" fill="#4CB04E" />
<path d="M816.3,482.6 L826.8,515.2 L832.7,520.0 L838.4,521.3 L854.5,521.3 L861.0,521.3 L870.6,523.2 L877.1,524.8 L881.9,524.8 L888.4,520.3 L906.1,503.1 L921.5,489.4 L927.1,486.9 L951.3,486.1 L965.8,486.1 L972.3,486.9 L977.9,489.4 L986.8,498.2 L992.4,501.5 L1004.5,503.5 L1014.2,503.9 L1019.0,500.6 L1031.9,488.5 L1038.4,485.8 L1054.5,484.2 L1072.3,482.9 L1085.2,482.6Z" fill="#E94B25" />
<path d="M1135.3,482.4 L1138.9,541.6 L1143.7,660.9 L1148.5,756.4 L1152.1,805.3 L1156.8,811.3 L1168.8,815.3 L1196.2,818.9 L1202.2,812.5 L1209.3,770.7 L1221.3,672.9 L1233.2,565.5 L1241.6,501.0 L1246.3,485.5 L1257.1,482.4Z" fill="#707070" />
<path d="M1135.3,482.4 L1140.1,541.6 L1146.1,637.1 L1152.1,693.2 L1168.8,698.6 L1196.2,701.0 L1202.2,696.7 L1214.1,637.1 L1233.2,529.7 L1240.4,498.6 L1246.3,484.8 L1257.1,482.4Z" fill="#64C2D2" />
<path d="M1135.3,482.4 L1141.3,539.2 L1147.3,591.7 L1152.1,618.0 L1171.1,621.6 L1196.2,625.1 L1202.2,621.6 L1211.7,591.7 L1229.6,528.5 L1239.9,493.9 L1245.6,484.3 L1257.1,482.4Z" fill="#F8913A" />
<path d="M1135.3,482.4 L1141.3,536.8 L1147.3,584.6 L1152.1,606.0 L1171.1,610.3 L1196.2,612.5 L1202.2,609.6 L1209.3,589.3 L1228.4,527.3 L1239.2,493.9 L1245.1,484.3 L1257.1,482.4Z" fill="#305CA6" />
<path d="M1135.3,482.4 L1141.3,529.7 L1146.1,565.5 L1152.1,585.8 L1171.1,590.0 L1196.2,591.7 L1202.2,589.3 L1209.3,572.6 L1226.0,524.9 L1238.0,493.9 L1245.1,484.3 L1257.1,482.4Z" fill="#4CB04E" />
<path d="M1135.3,482.4 L1146.1,515.3 L1152.1,522.5 L1168.8,525.6 L1196.2,526.6 L1202.2,525.4 L1209.3,520.1 L1226.0,501.0 L1240.4,486.7 L1246.3,483.8 L1257.1,482.4Z" fill="#E94B25" />
<rect x="804.8" y="482.5" width="570.8" height="342.2" fill="none" stroke="#000" stroke-width="1.00" />
<line x1="790.8" y1="482.5" x2="804.8" y2="482.5" stroke="#000" stroke-width="1.00"/>
<text x="779.6" y="491.9" font-family="'Liberation Sans', Arial, Helvetica, sans-serif" font-size="27.00" text-anchor="end" fill="#000" font-weight="normal" >0</text>
<line x1="790.8" y1="568.1" x2="804.8" y2="568.1" stroke="#000" stroke-width="1.00"/>
<line x1="790.8" y1="653.6" x2="804.8" y2="653.6" stroke="#000" stroke-width="1.00"/>
<text x="779.6" y="663.0" font-family="'Liberation Sans', Arial, Helvetica, sans-serif" font-size="27.00" text-anchor="end" fill="#000" font-weight="normal" >–40</text>
<line x1="790.8" y1="739.2" x2="804.8" y2="739.2" stroke="#000" stroke-width="1.00"/>
<line x1="790.8" y1="824.8" x2="804.8" y2="824.8" stroke="#000" stroke-width="1.00"/>
<text x="779.6" y="834.1" font-family="'Liberation Sans', Arial, Helvetica, sans-serif" font-size="27.00" text-anchor="end" fill="#000" font-weight="normal" >–80</text>
<line x1="804.8" y1="824.8" x2="804.8" y2="838.2" stroke="#000" stroke-width="1.00"/>
<line x1="829.6" y1="824.8" x2="829.6" y2="838.2" stroke="#000" stroke-width="1.00"/>
<line x1="854.4" y1="824.8" x2="854.4" y2="838.2" stroke="#000" stroke-width="1.00"/>
<line x1="879.2" y1="824.8" x2="879.2" y2="838.2" stroke="#000" stroke-width="1.00"/>
<line x1="904.0" y1="824.8" x2="904.0" y2="838.2" stroke="#000" stroke-width="1.00"/>
<line x1="928.8" y1="824.8" x2="928.8" y2="838.2" stroke="#000" stroke-width="1.00"/>
<line x1="953.6" y1="824.8" x2="953.6" y2="838.2" stroke="#000" stroke-width="1.00"/>
<line x1="978.5" y1="824.8" x2="978.5" y2="838.2" stroke="#000" stroke-width="1.00"/>
<line x1="1003.3" y1="824.8" x2="1003.3" y2="838.2" stroke="#000" stroke-width="1.00"/>
<line x1="1028.1" y1="824.8" x2="1028.1" y2="838.2" stroke="#000" stroke-width="1.00"/>
<line x1="1052.9" y1="824.8" x2="1052.9" y2="838.2" stroke="#000" stroke-width="1.00"/>
<line x1="1077.7" y1="824.8" x2="1077.7" y2="838.2" stroke="#000" stroke-width="1.00"/>
<line x1="1102.5" y1="824.8" x2="1102.5" y2="838.2" stroke="#000" stroke-width="1.00"/>
<line x1="1102.5" y1="804.8" x2="1102.5" y2="824.8" stroke="#000" stroke-width="1.00"/>
<line x1="1127.3" y1="824.8" x2="1127.3" y2="838.2" stroke="#000" stroke-width="1.00"/>
<line x1="1152.2" y1="824.8" x2="1152.2" y2="838.2" stroke="#000" stroke-width="1.00"/>
<line x1="1177.0" y1="824.8" x2="1177.0" y2="838.2" stroke="#000" stroke-width="1.00"/>
<line x1="1201.8" y1="824.8" x2="1201.8" y2="838.2" stroke="#000" stroke-width="1.00"/>
<line x1="1226.6" y1="824.8" x2="1226.6" y2="838.2" stroke="#000" stroke-width="1.00"/>
<line x1="1251.4" y1="824.8" x2="1251.4" y2="838.2" stroke="#000" stroke-width="1.00"/>
<line x1="1276.2" y1="824.8" x2="1276.2" y2="838.2" stroke="#000" stroke-width="1.00"/>
<line x1="1301.1" y1="824.8" x2="1301.1" y2="838.2" stroke="#000" stroke-width="1.00"/>
<line x1="1325.9" y1="824.8" x2="1325.9" y2="838.2" stroke="#000" stroke-width="1.00"/>
<line x1="1350.7" y1="824.8" x2="1350.7" y2="838.2" stroke="#000" stroke-width="1.00"/>
<line x1="1375.5" y1="824.8" x2="1375.5" y2="838.2" stroke="#000" stroke-width="1.00"/>
<text x="804.8" y="875.4" font-family="'Liberation Sans', Arial, Helvetica, sans-serif" font-size="27.00" text-anchor="middle" fill="#000" font-weight="normal" >Jan</text>
<text x="904.0" y="875.4" font-family="'Liberation Sans', Arial, Helvetica, sans-serif" font-size="27.00" text-anchor="middle" fill="#000" font-weight="normal" >May</text>
<text x="1003.3" y="875.4" font-family="'Liberation Sans', Arial, Helvetica, sans-serif" font-size="27.00" text-anchor="middle" fill="#000" font-weight="normal" >Sep</text>
<text x="1102.5" y="875.4" font-family="'Liberation Sans', Arial, Helvetica, sans-serif" font-size="27.00" text-anchor="middle" fill="#000" font-weight="normal" >Jan</text>
<text x="1201.8" y="875.4" font-family="'Liberation Sans', Arial, Helvetica, sans-serif" font-size="27.00" text-anchor="middle" fill="#000" font-weight="normal" >May</text>
<text x="1301.1" y="875.4" font-family="'Liberation Sans', Arial, Helvetica, sans-serif" font-size="27.00" text-anchor="middle" fill="#000" font-weight="normal" >Sep</text>
<path d="M1499.7,482.9 L1510.0,516.3 L1516.6,521.9 L1523.2,523.7 L1539.4,524.4 L1544.2,545.8 L1549.8,615.2 L1555.5,674.8 L1561.9,684.2 L1566.8,686.9 L1573.2,684.5 L1582.9,682.9 L1588.5,689.4 L1594.2,693.9 L1600.6,695.8 L1611.9,697.4 L1628.1,702.3 L1650.6,704.4 L1653.9,695.8 L1660.3,671.6 L1666.0,655.5 L1671.6,646.9 L1677.3,638.5 L1688.5,620.0 L1693.4,617.6 L1699.8,616.0 L1705.5,597.4 L1715.2,555.5 L1721.6,539.4 L1732.9,516.8 L1749.0,491.0 L1757.1,484.5 L1770.0,482.6Z" fill="#707070" />
<path d="M1499.7,482.9 L1510.0,515.8 L1516.6,521.6 L1523.2,523.2 L1539.4,523.2 L1544.2,543.4 L1549.8,596.6 L1556.3,614.7 L1561.9,619.2 L1566.8,621.1 L1573.2,617.9 L1583.7,611.9 L1588.5,614.7 L1595.0,617.3 L1607.1,614.4 L1611.9,614.0 L1628.1,616.8 L1650.6,618.9 L1653.9,611.9 L1666.0,589.4 L1671.6,583.4 L1677.3,575.6 L1689.4,557.1 L1694.2,554.7 L1700.6,553.1 L1705.5,537.7 L1715.2,508.7 L1723.2,501.5 L1741.0,491.0 L1757.1,484.5 L1770.0,482.6Z" fill="#64C2D2" />
<path d="M1499.7,482.9 L1510.0,515.6 L1516.6,521.5 L1523.2,522.7 L1539.4,522.6 L1545.8,540.2 L1555.5,575.6 L1561.9,578.9 L1566.8,580.0 L1573.2,576.5 L1589.4,565.2 L1595.8,563.5 L1607.1,559.2 L1611.9,558.4 L1628.1,559.8 L1650.6,561.1 L1660.3,551.5 L1666.0,548.2 L1671.6,548.5 L1677.3,547.4 L1689.4,541.0 L1699.0,540.2 L1705.5,526.5 L1716.8,504.7 L1723.2,499.8 L1741.0,490.6 L1757.1,484.2 L1770.0,482.6Z" fill="#F8913A" />
<path d="M1500.2,482.9 L1510.3,515.5 L1516.8,521.1 L1523.2,522.3 L1539.4,522.1 L1545.8,538.2 L1555.5,563.5 L1561.9,566.8 L1566.8,567.9 L1573.2,563.9 L1589.4,552.3 L1595.8,550.2 L1607.1,545.0 L1611.9,544.5 L1628.1,545.8 L1650.6,546.9 L1660.3,539.4 L1666.0,536.5 L1671.6,538.1 L1677.3,537.7 L1689.4,532.9 L1699.0,532.6 L1704.7,521.6 L1716.8,500.6 L1723.2,495.8 L1741.0,488.9 L1757.1,483.7 L1770.0,482.6Z" fill="#305CA6" />
<path d="M1500.2,482.9 L1510.3,515.3 L1516.8,521.0 L1523.2,522.1 L1539.4,521.9 L1544.2,531.8 L1549.8,547.9 L1556.3,557.6 L1561.9,560.0 L1566.8,560.8 L1573.2,557.1 L1589.4,543.1 L1595.8,540.2 L1607.1,534.2 L1611.9,533.4 L1628.1,534.5 L1650.6,535.3 L1660.3,530.0 L1666.0,528.4 L1671.6,530.5 L1677.3,530.5 L1689.4,525.5 L1699.0,525.2 L1703.9,518.7 L1716.8,498.7 L1723.2,494.5 L1741.0,488.1 L1757.1,483.5 L1770.0,482.6Z" fill="#4CB04E" />
<path d="M1500.2,482.9 L1510.3,515.2 L1516.8,520.8 L1523.2,521.9 L1539.4,521.9 L1545.8,521.9 L1555.5,524.0 L1561.9,525.2 L1566.8,525.2 L1573.2,520.8 L1591.0,503.4 L1606.3,489.7 L1611.9,487.4 L1636.1,486.6 L1650.6,486.6 L1657.1,487.4 L1662.7,489.7 L1671.6,498.7 L1677.3,501.8 L1689.4,503.9 L1699.0,504.2 L1703.9,501.1 L1716.8,489.0 L1723.2,486.1 L1739.4,484.5 L1757.1,483.2 L1770.0,482.6Z" fill="#E94B25" />
<path d="M1807.4,483.1 L1814.9,490.6 L1824.3,513.0 L1833.6,539.2 L1839.2,555.7 L1844.9,548.6 L1852.4,549.5 L1861.7,554.2 L1867.3,582.3 L1872.9,657.2 L1877.6,718.9 L1884.2,741.8 L1888.8,743.3 L1894.5,733.0 L1916.0,712.4 L1929.1,702.1 L1934.7,699.6 L1955.3,699.6 L1962.8,705.8 L1972.1,718.0 L1977.7,705.8 L1989.0,670.3 L2004.0,644.1 L2011.4,639.0 L2022.7,655.7 L2028.3,650.6 L2033.9,638.4 L2039.5,621.6 L2046.1,613.2 L2055.4,607.9 L2059.2,582.3 L2061.6,554.2 L2062.0,548.6 L2062.0,482.4Z" fill="#707070" />
<path d="M1807.4,483.1 L1814.9,489.7 L1824.3,505.6 L1833.6,526.1 L1839.2,543.0 L1844.9,539.2 L1852.4,539.6 L1861.7,543.0 L1867.3,563.6 L1872.9,610.4 L1878.6,644.1 L1884.2,656.6 L1890.7,657.2 L1895.4,649.7 L1916.0,629.1 L1929.1,617.9 L1934.7,615.0 L1955.3,614.7 L1962.8,619.7 L1974.0,633.4 L1979.6,627.2 L1989.0,609.4 L2004.0,583.2 L2012.4,575.7 L2023.6,591.1 L2029.2,588.8 L2034.8,582.3 L2040.4,569.2 L2047.0,560.8 L2056.4,556.1 L2061.0,550.5 L2062.0,544.9 L2062.0,482.4Z" fill="#64C2D2" />
<path d="M1807.4,483.1 L1814.9,488.7 L1824.3,502.8 L1833.6,522.4 L1839.2,531.8 L1846.7,530.8 L1861.7,533.6 L1867.3,548.6 L1874.8,584.2 L1882.3,599.1 L1888.8,599.7 L1895.4,592.6 L1916.0,572.6 L1929.1,561.7 L1934.7,559.8 L1955.3,559.8 L1962.8,565.5 L1972.1,578.2 L1977.7,577.1 L1989.0,568.3 L2004.0,558.9 L2011.4,556.1 L2022.7,556.5 L2028.3,555.2 L2033.9,551.4 L2045.1,535.9 L2050.7,533.6 L2056.4,532.7 L2062.0,522.4 L2062.0,482.4Z" fill="#F8913A" />
<path d="M1807.4,483.1 L1814.9,488.0 L1824.3,500.3 L1833.6,520.5 L1839.2,525.0 L1861.7,529.5 L1867.3,543.9 L1874.8,571.1 L1882.3,583.6 L1888.8,584.5 L1895.4,578.6 L1916.0,559.3 L1929.1,547.7 L1934.7,545.4 L1955.3,545.8 L1962.8,551.4 L1972.1,563.6 L1977.7,564.5 L1989.0,557.0 L2004.0,549.0 L2011.4,546.4 L2022.7,547.1 L2028.3,545.8 L2033.9,542.6 L2045.1,528.0 L2050.7,525.6 L2056.4,524.8 L2062.0,516.8 L2062.0,482.4Z" fill="#305CA6" />
<path d="M1807.4,483.1 L1814.9,487.8 L1824.3,499.9 L1833.6,520.2 L1839.2,524.7 L1861.7,529.0 L1867.3,541.1 L1874.8,561.7 L1882.3,572.6 L1888.8,573.5 L1895.4,568.3 L1916.0,548.6 L1929.1,537.0 L1934.7,534.9 L1955.3,534.9 L1962.8,540.2 L1972.1,553.7 L1977.7,554.6 L1989.0,548.6 L2004.0,540.7 L2011.4,538.7 L2022.7,539.2 L2028.3,538.3 L2033.9,535.5 L2045.1,522.8 L2050.7,520.5 L2056.4,520.2 L2062.0,514.9 L2062.0,482.4Z" fill="#4CB04E" />
<path d="M1807.4,483.1 L1814.9,486.8 L1824.3,498.1 L1833.6,518.7 L1839.2,523.3 L1846.7,524.8 L1861.7,525.6 L1882.3,526.1 L1888.8,525.6 L1895.4,520.5 L1916.0,499.9 L1929.1,489.7 L1934.7,487.4 L1955.3,486.8 L1962.8,492.5 L1972.1,505.6 L1977.7,510.2 L1989.0,513.6 L2013.3,513.0 L2028.3,512.5 L2033.9,510.2 L2045.1,500.9 L2050.7,498.4 L2061.0,497.7 L2062.0,497.7 L2062.0,482.4Z" fill="#E94B25" />
<rect x="1491.5" y="482.5" width="12" height="1.6" fill="#F8913A"/><rect x="1742" y="482.5" width="66" height="1.4" fill="#F8913A"/>
<rect x="1491.5" y="482.5" width="570.8" height="342.2" fill="none" stroke="#000" stroke-width="1.00" />
<line x1="1477.7" y1="482.5" x2="1491.5" y2="482.5" stroke="#000" stroke-width="1.00"/>
<text x="1466.2" y="491.9" font-family="'Liberation Sans', Arial, Helvetica, sans-serif" font-size="27.00" text-anchor="end" fill="#000" font-weight="normal" >0</text>
<line x1="1477.7" y1="568.1" x2="1491.5" y2="568.1" stroke="#000" stroke-width="1.00"/>
<line x1="1477.7" y1="653.6" x2="1491.5" y2="653.6" stroke="#000" stroke-width="1.00"/>
<text x="1466.2" y="663.0" font-family="'Liberation Sans', Arial, Helvetica, sans-serif" font-size="27.00" text-anchor="end" fill="#000" font-weight="normal" >–40</text>
<line x1="1477.7" y1="739.2" x2="1491.5" y2="739.2" stroke="#000" stroke-width="1.00"/>
<line x1="1477.7" y1="824.8" x2="1491.5" y2="824.8" stroke="#000" stroke-width="1.00"/>
<text x="1466.2" y="834.1" font-family="'Liberation Sans', Arial, Helvetica, sans-serif" font-size="27.00" text-anchor="end" fill="#000" font-weight="normal" >–80</text>
<line x1="1491.5" y1="824.8" x2="1491.5" y2="838.2" stroke="#000" stroke-width="1.00"/>
<line x1="1516.3" y1="824.8" x2="1516.3" y2="838.2" stroke="#000" stroke-width="1.00"/>
<line x1="1541.1" y1="824.8" x2="1541.1" y2="838.2" stroke="#000" stroke-width="1.00"/>
<line x1="1565.9" y1="824.8" x2="1565.9" y2="838.2" stroke="#000" stroke-width="1.00"/>
<line x1="1590.8" y1="824.8" x2="1590.8" y2="838.2" stroke="#000" stroke-width="1.00"/>
<line x1="1615.6" y1="824.8" x2="1615.6" y2="838.2" stroke="#000" stroke-width="1.00"/>
<line x1="1640.4" y1="824.8" x2="1640.4" y2="838.2" stroke="#000" stroke-width="1.00"/>
<line x1="1665.2" y1="824.8" x2="1665.2" y2="838.2" stroke="#000" stroke-width="1.00"/>
<line x1="1690.0" y1="824.8" x2="1690.0" y2="838.2" stroke="#000" stroke-width="1.00"/>
<line x1="1714.8" y1="824.8" x2="1714.8" y2="838.2" stroke="#000" stroke-width="1.00"/>
<line x1="1739.7" y1="824.8" x2="1739.7" y2="838.2" stroke="#000" stroke-width="1.00"/>
<line x1="1764.5" y1="824.8" x2="1764.5" y2="838.2" stroke="#000" stroke-width="1.00"/>
<line x1="1789.3" y1="824.8" x2="1789.3" y2="838.2" stroke="#000" stroke-width="1.00"/>
<line x1="1789.3" y1="804.8" x2="1789.3" y2="824.8" stroke="#000" stroke-width="1.00"/>
<line x1="1814.1" y1="824.8" x2="1814.1" y2="838.2" stroke="#000" stroke-width="1.00"/>
<line x1="1838.9" y1="824.8" x2="1838.9" y2="838.2" stroke="#000" stroke-width="1.00"/>
<line x1="1863.7" y1="824.8" x2="1863.7" y2="838.2" stroke="#000" stroke-width="1.00"/>
<line x1="1888.5" y1="824.8" x2="1888.5" y2="838.2" stroke="#000" stroke-width="1.00"/>
<line x1="1913.4" y1="824.8" x2="1913.4" y2="838.2" stroke="#000" stroke-width="1.00"/>
<line x1="1938.2" y1="824.8" x2="1938.2" y2="838.2" stroke="#000" stroke-width="1.00"/>
<line x1="1963.0" y1="824.8" x2="1963.0" y2="838.2" stroke="#000" stroke-width="1.00"/>
<line x1="1987.8" y1="824.8" x2="1987.8" y2="838.2" stroke="#000" stroke-width="1.00"/>
<line x1="2012.6" y1="824.8" x2="2012.6" y2="838.2" stroke="#000" stroke-width="1.00"/>
<line x1="2037.4" y1="824.8" x2="2037.4" y2="838.2" stroke="#000" stroke-width="1.00"/>
<line x1="2062.2" y1="824.8" x2="2062.2" y2="838.2" stroke="#000" stroke-width="1.00"/>
<text x="1491.5" y="875.4" font-family="'Liberation Sans', Arial, Helvetica, sans-serif" font-size="27.00" text-anchor="middle" fill="#000" font-weight="normal" >Jan</text>
<text x="1590.8" y="875.4" font-family="'Liberation Sans', Arial, Helvetica, sans-serif" font-size="27.00" text-anchor="middle" fill="#000" font-weight="normal" >May</text>
<text x="1690.0" y="875.4" font-family="'Liberation Sans', Arial, Helvetica, sans-serif" font-size="27.00" text-anchor="middle" fill="#000" font-weight="normal" >Sep</text>
<text x="1789.3" y="875.4" font-family="'Liberation Sans', Arial, Helvetica, sans-serif" font-size="27.00" text-anchor="middle" fill="#000" font-weight="normal" >Jan</text>
<text x="1888.5" y="875.4" font-family="'Liberation Sans', Arial, Helvetica, sans-serif" font-size="27.00" text-anchor="middle" fill="#000" font-weight="normal" >May</text>
<text x="1987.8" y="875.4" font-family="'Liberation Sans', Arial, Helvetica, sans-serif" font-size="27.00" text-anchor="middle" fill="#000" font-weight="normal" >Sep</text>
<text transform="translate(121.5,463.6) scale(0.92,1)" font-family="'Liberation Sans', Arial, sans-serif" font-size="32.5" font-weight="bold">d</text>
<text transform="translate(804.5,463.4) scale(0.92,1)" font-family="'Liberation Sans', Arial, sans-serif" font-size="32.5" font-weight="bold">e</text>
<text transform="translate(1490.5,463.4) scale(0.92,1)" font-family="'Liberation Sans', Arial, sans-serif" font-size="32.5" font-weight="bold">f</text>
<text transform="translate(20.6,652) rotate(-90)" font-family="'Liberation Sans', Arial, Helvetica, sans-serif" font-size="27" text-anchor="middle">Value-added loss (%)</text>
<text x="671.2" y="595.2" font-family="'Liberation Sans', Arial, Helvetica, sans-serif" font-size="27.00" text-anchor="end" fill="#E94B25" font-weight="normal" >China</text>
<text x="671.2" y="637.3" font-family="'Liberation Sans', Arial, Helvetica, sans-serif" font-size="27.00" text-anchor="end" fill="#4CB04E" font-weight="normal" >EU</text>
<text x="671.2" y="679.4" font-family="'Liberation Sans', Arial, Helvetica, sans-serif" font-size="27.00" text-anchor="end" fill="#305CA6" font-weight="normal" >Japan</text>
<text x="671.2" y="721.5" font-family="'Liberation Sans', Arial, Helvetica, sans-serif" font-size="27.00" text-anchor="end" fill="#F8913A" font-weight="normal" >United Kingdom</text>
<text x="671.2" y="763.6" font-family="'Liberation Sans', Arial, Helvetica, sans-serif" font-size="27.00" text-anchor="end" fill="#64C2D2" font-weight="normal" >US</text>
<text x="666.8" y="805.7" font-family="'Liberation Sans', Arial, Helvetica, sans-serif" font-size="27.00" text-anchor="end" fill="#707070" font-weight="normal" >ROW</text>
<rect x="122.2" y="968.0" width="571.0" height="478.0" fill="none" stroke="#000" stroke-width="1.00" />
<rect x="122.9" y="982.7" width="393.5" height="35.4" fill="#AE2424" stroke="#000" stroke-width="0.80" />
<text x="135.3" y="1010.2" font-family="'Liberation Sans', Arial, Helvetica, sans-serif" font-size="16.65" text-anchor="start" fill="#fff" font-weight="normal" >New Zealand–food services</text>
<text x="528.3" y="1010.2" font-family="'Liberation Sans', Arial, Helvetica, sans-serif" font-size="27.00" text-anchor="start" fill="#000" font-weight="normal" >–69%</text>
<rect x="122.9" y="1029.2" width="372.7" height="35.4" fill="#AE2424" stroke="#000" stroke-width="0.80" />
<text x="135.3" y="1056.7" font-family="'Liberation Sans', Arial, Helvetica, sans-serif" font-size="16.65" text-anchor="start" fill="#fff" font-weight="normal" >Jamaica–tourism</text>
<text x="508.3" y="1056.7" font-family="'Liberation Sans', Arial, Helvetica, sans-serif" font-size="27.00" text-anchor="start" fill="#000" font-weight="normal" >–65%</text>
<rect x="122.9" y="1075.8" width="257.2" height="35.4" fill="#E0F5BE" stroke="#000" stroke-width="0.80" />
<text x="135.3" y="1103.3" font-family="'Liberation Sans', Arial, Helvetica, sans-serif" font-size="16.65" text-anchor="start" fill="#000" font-weight="normal" >Ethiopia–textiles</text>
<text x="391.0" y="1103.3" font-family="'Liberation Sans', Arial, Helvetica, sans-serif" font-size="27.00" text-anchor="start" fill="#000" font-weight="normal" >–45%</text>
<rect x="122.9" y="1122.3" width="255.5" height="35.4" fill="#4CB04E" stroke="#000" stroke-width="0.80" />
<text x="135.3" y="1149.8" font-family="'Liberation Sans', Arial, Helvetica, sans-serif" font-size="16.65" text-anchor="start" fill="#000" font-weight="normal" >Kyrgystan–iron/steel</text>
<text x="391.8" y="1149.8" font-family="'Liberation Sans', Arial, Helvetica, sans-serif" font-size="27.00" text-anchor="start" fill="#000" font-weight="normal" >–45%</text>
<rect x="122.9" y="1168.8" width="253.0" height="35.4" fill="#4CB04E" stroke="#000" stroke-width="0.80" />
<text x="135.3" y="1196.3" font-family="'Liberation Sans', Arial, Helvetica, sans-serif" font-size="16.65" text-anchor="start" fill="#000" font-weight="normal" >Japan–machinery</text>
<text x="389.7" y="1196.3" font-family="'Liberation Sans', Arial, Helvetica, sans-serif" font-size="27.00" text-anchor="start" fill="#000" font-weight="normal" >–44%</text>
<rect x="122.9" y="1215.4" width="247.5" height="35.4" fill="#E94B25" stroke="#000" stroke-width="0.80" />
<text x="135.3" y="1242.9" font-family="'Liberation Sans', Arial, Helvetica, sans-serif" font-size="16.65" text-anchor="start" fill="#fff" font-weight="normal" >China–electronics</text>
<text x="383.8" y="1242.9" font-family="'Liberation Sans', Arial, Helvetica, sans-serif" font-size="27.00" text-anchor="start" fill="#000" font-weight="normal" >–43%</text>
<rect x="122.9" y="1261.9" width="247.5" height="35.4" fill="#E0F5BE" stroke="#000" stroke-width="0.80" />
<text x="135.3" y="1289.4" font-family="'Liberation Sans', Arial, Helvetica, sans-serif" font-size="16.65" text-anchor="start" fill="#000" font-weight="normal" >Malaysia–other manufacturing</text>
<text x="398.0" y="1289.4" font-family="'Liberation Sans', Arial, Helvetica, sans-serif" font-size="27.00" text-anchor="start" fill="#000" font-weight="normal" >–43%</text>
<rect x="122.9" y="1308.4" width="242.5" height="35.4" fill="#155E32" stroke="#000" stroke-width="0.80" />
<text x="135.3" y="1335.9" font-family="'Liberation Sans', Arial, Helvetica, sans-serif" font-size="16.65" text-anchor="start" fill="#fff" font-weight="normal" >Iran–oil</text>
<text x="377.6" y="1335.9" font-family="'Liberation Sans', Arial, Helvetica, sans-serif" font-size="27.00" text-anchor="start" fill="#000" font-weight="normal" >–42%</text>
<rect x="122.9" y="1354.9" width="237.9" height="35.4" fill="#FDB54A" stroke="#000" stroke-width="0.80" />
<text x="135.3" y="1382.4" font-family="'Liberation Sans', Arial, Helvetica, sans-serif" font-size="16.65" text-anchor="start" fill="#000" font-weight="normal" >Germany–automotive</text>
<text x="399.7" y="1382.4" font-family="'Liberation Sans', Arial, Helvetica, sans-serif" font-size="27.00" text-anchor="start" fill="#000" font-weight="normal" >–41%</text>
<rect x="122.9" y="1401.5" width="189.7" height="35.4" fill="#325DA8" stroke="#000" stroke-width="0.80" />
<text x="135.3" y="1429.0" font-family="'Liberation Sans', Arial, Helvetica, sans-serif" font-size="16.65" text-anchor="start" fill="#fff" font-weight="normal" >US–finance</text>
<text x="323.8" y="1429.0" font-family="'Liberation Sans', Arial, Helvetica, sans-serif" font-size="27.00" text-anchor="start" fill="#000" font-weight="normal" >–33%</text>
<line x1="122.2" y1="1446.0" x2="122.2" y2="1459.0" stroke="#000" stroke-width="1.00"/>
<line x1="236.5" y1="1446.0" x2="236.5" y2="1459.0" stroke="#000" stroke-width="1.00"/>
<line x1="350.7" y1="1446.0" x2="350.7" y2="1459.0" stroke="#000" stroke-width="1.00"/>
<line x1="464.9" y1="1446.0" x2="464.9" y2="1459.0" stroke="#000" stroke-width="1.00"/>
<line x1="579.1" y1="1446.0" x2="579.1" y2="1459.0" stroke="#000" stroke-width="1.00"/>
<line x1="693.3" y1="1446.0" x2="693.3" y2="1459.0" stroke="#000" stroke-width="1.00"/>
<text x="122.2" y="1496.3" font-family="'Liberation Sans', Arial, Helvetica, sans-serif" font-size="27.00" text-anchor="middle" fill="#000" font-weight="normal" >0</text>
<text x="350.7" y="1496.3" font-family="'Liberation Sans', Arial, Helvetica, sans-serif" font-size="27.00" text-anchor="middle" fill="#000" font-weight="normal" >–40</text>
<text x="579.1" y="1496.3" font-family="'Liberation Sans', Arial, Helvetica, sans-serif" font-size="27.00" text-anchor="middle" fill="#000" font-weight="normal" >–80</text>
<text x="407.8" y="1543.6" font-family="'Liberation Sans', Arial, Helvetica, sans-serif" font-size="27.00" text-anchor="middle" fill="#000" font-weight="normal" >Value-added loss (%)</text>
<text transform="translate(120.0,943.3) scale(1.15,1)" font-family="'Liberation Serif', serif" font-size="31" font-weight="bold">g</text>
<rect x="754.0" y="970.0" width="570.8" height="478.0" fill="none" stroke="#000" stroke-width="1.00" />
<rect x="755.4" y="980.9" width="456.8" height="35.4" fill="#AE2424" stroke="#000" stroke-width="0.80" />
<text x="781.4" y="1008.0" font-family="'Liberation Sans', Arial, Helvetica, sans-serif" font-size="16.65" text-anchor="start" fill="#fff" font-weight="normal" >New Zealand–food services</text>
<text x="1222.5" y="1009.0" font-family="'Liberation Sans', Arial, Helvetica, sans-serif" font-size="27.00" text-anchor="start" fill="#000" font-weight="normal" >–80%</text>
<rect x="755.4" y="1027.4" width="435.0" height="35.4" fill="#AE2424" stroke="#000" stroke-width="0.80" />
<text x="781.4" y="1054.5" font-family="'Liberation Sans', Arial, Helvetica, sans-serif" font-size="16.65" text-anchor="start" fill="#fff" font-weight="normal" >Jamaica–tourism</text>
<text x="1201.1" y="1055.5" font-family="'Liberation Sans', Arial, Helvetica, sans-serif" font-size="27.00" text-anchor="start" fill="#000" font-weight="normal" >–76%</text>
<rect x="755.4" y="1074.0" width="328.1" height="35.4" fill="#4CB04E" stroke="#000" stroke-width="0.80" />
<text x="781.4" y="1101.1" font-family="'Liberation Sans', Arial, Helvetica, sans-serif" font-size="16.65" text-anchor="start" fill="#000" font-weight="normal" >Kyrgystan–iron/steel</text>
<text x="1100.5" y="1102.1" font-family="'Liberation Sans', Arial, Helvetica, sans-serif" font-size="27.00" text-anchor="start" fill="#000" font-weight="normal" >–57%</text>
<rect x="755.4" y="1120.5" width="313.4" height="35.4" fill="#E0F5BE" stroke="#000" stroke-width="0.80" />
<text x="781.4" y="1147.6" font-family="'Liberation Sans', Arial, Helvetica, sans-serif" font-size="16.65" text-anchor="start" fill="#000" font-weight="normal" >Ethiopia–textiles</text>
<text x="1088.0" y="1148.6" font-family="'Liberation Sans', Arial, Helvetica, sans-serif" font-size="27.00" text-anchor="start" fill="#000" font-weight="normal" >–55%</text>
<rect x="755.4" y="1167.0" width="310.9" height="35.4" fill="#E94B25" stroke="#000" stroke-width="0.80" />
<text x="781.4" y="1194.1" font-family="'Liberation Sans', Arial, Helvetica, sans-serif" font-size="16.65" text-anchor="start" fill="#fff" font-weight="normal" >China–electronics</text>
<text x="1085.0" y="1195.1" font-family="'Liberation Sans', Arial, Helvetica, sans-serif" font-size="27.00" text-anchor="start" fill="#000" font-weight="normal" >–55%</text>
<rect x="755.4" y="1213.5" width="306.7" height="35.4" fill="#4CB04E" stroke="#000" stroke-width="0.80" />
<text x="781.4" y="1240.7" font-family="'Liberation Sans', Arial, Helvetica, sans-serif" font-size="16.65" text-anchor="start" fill="#000" font-weight="normal" >Japan–machinery</text>
<text x="1078.7" y="1241.7" font-family="'Liberation Sans', Arial, Helvetica, sans-serif" font-size="27.00" text-anchor="start" fill="#000" font-weight="normal" >–54%</text>
<rect x="755.4" y="1260.1" width="300.0" height="35.4" fill="#E0F5BE" stroke="#000" stroke-width="0.80" />
<text x="781.4" y="1287.2" font-family="'Liberation Sans', Arial, Helvetica, sans-serif" font-size="16.65" text-anchor="start" fill="#000" font-weight="normal" >Malaysia–other manufacturing</text>
<text x="1072.4" y="1288.2" font-family="'Liberation Sans', Arial, Helvetica, sans-serif" font-size="27.00" text-anchor="start" fill="#000" font-weight="normal" >–53%</text>
<rect x="755.4" y="1306.6" width="299.6" height="35.4" fill="#155E32" stroke="#000" stroke-width="0.80" />
<text x="781.4" y="1333.7" font-family="'Liberation Sans', Arial, Helvetica, sans-serif" font-size="16.65" text-anchor="start" fill="#fff" font-weight="normal" >Iran–iil</text>
<text x="1073.7" y="1334.7" font-family="'Liberation Sans', Arial, Helvetica, sans-serif" font-size="27.00" text-anchor="start" fill="#000" font-weight="normal" >–52%</text>
<rect x="755.4" y="1353.1" width="292.0" height="35.4" fill="#FDB54A" stroke="#000" stroke-width="0.80" />
<text x="781.4" y="1380.2" font-family="'Liberation Sans', Arial, Helvetica, sans-serif" font-size="16.65" text-anchor="start" fill="#000" font-weight="normal" >Germany–automotive</text>
<text x="1064.0" y="1381.2" font-family="'Liberation Sans', Arial, Helvetica, sans-serif" font-size="27.00" text-anchor="start" fill="#000" font-weight="normal" >–51%</text>
<rect x="755.4" y="1399.7" width="242.1" height="35.4" fill="#325DA8" stroke="#000" stroke-width="0.80" />
<text x="781.4" y="1426.8" font-family="'Liberation Sans', Arial, Helvetica, sans-serif" font-size="16.65" text-anchor="start" fill="#fff" font-weight="normal" >US–finance</text>
<text x="1013.7" y="1427.8" font-family="'Liberation Sans', Arial, Helvetica, sans-serif" font-size="27.00" text-anchor="start" fill="#000" font-weight="normal" >–42%</text>
<line x1="754.0" y1="1448.0" x2="754.0" y2="1461.0" stroke="#000" stroke-width="1.00"/>
<line x1="868.1" y1="1448.0" x2="868.1" y2="1461.0" stroke="#000" stroke-width="1.00"/>
<line x1="982.3" y1="1448.0" x2="982.3" y2="1461.0" stroke="#000" stroke-width="1.00"/>
<line x1="1096.5" y1="1448.0" x2="1096.5" y2="1461.0" stroke="#000" stroke-width="1.00"/>
<line x1="1210.6" y1="1448.0" x2="1210.6" y2="1461.0" stroke="#000" stroke-width="1.00"/>
<line x1="1324.8" y1="1448.0" x2="1324.8" y2="1461.0" stroke="#000" stroke-width="1.00"/>
<text x="754.0" y="1496.3" font-family="'Liberation Sans', Arial, Helvetica, sans-serif" font-size="27.00" text-anchor="middle" fill="#000" font-weight="normal" >0</text>
<text x="982.3" y="1496.3" font-family="'Liberation Sans', Arial, Helvetica, sans-serif" font-size="27.00" text-anchor="middle" fill="#000" font-weight="normal" >–40</text>
<text x="1210.6" y="1496.3" font-family="'Liberation Sans', Arial, Helvetica, sans-serif" font-size="27.00" text-anchor="middle" fill="#000" font-weight="normal" >–80</text>
<text x="1039.4" y="1543.6" font-family="'Liberation Sans', Arial, Helvetica, sans-serif" font-size="27.00" text-anchor="middle" fill="#000" font-weight="normal" >Value-added loss (%)</text>
<text transform="translate(752.5,944.0) scale(0.92,1)" font-family="'Liberation Sans', Arial, sans-serif" font-size="32.5" font-weight="bold">h</text>
<rect x="1390.0" y="970.0" width="570.8" height="478.0" fill="none" stroke="#000" stroke-width="1.00" />
<rect x="1391.2" y="979.5" width="519.3" height="35.4" fill="#AE2424" stroke="#000" stroke-width="0.80" />
<text x="1417.2" y="1006.4" font-family="'Liberation Sans', Arial, Helvetica, sans-serif" font-size="16.65" text-anchor="start" fill="#fff" font-weight="normal" >New Zealand–food services</text>
<text x="1835.9" y="1007.4" font-family="'Liberation Sans', Arial, Helvetica, sans-serif" font-size="27.00" text-anchor="start" fill="#fff" font-weight="normal" >–91%</text>
<rect x="1391.2" y="1026.0" width="495.4" height="35.4" fill="#AE2424" stroke="#000" stroke-width="0.80" />
<text x="1417.2" y="1052.9" font-family="'Liberation Sans', Arial, Helvetica, sans-serif" font-size="16.65" text-anchor="start" fill="#fff" font-weight="normal" >Jamaica–tourism</text>
<text x="1811.5" y="1053.9" font-family="'Liberation Sans', Arial, Helvetica, sans-serif" font-size="27.00" text-anchor="start" fill="#fff" font-weight="normal" >–87%</text>
<rect x="1391.2" y="1072.6" width="398.1" height="35.4" fill="#4CB04E" stroke="#000" stroke-width="0.80" />
<text x="1417.2" y="1099.5" font-family="'Liberation Sans', Arial, Helvetica, sans-serif" font-size="16.65" text-anchor="start" fill="#000" font-weight="normal" >Kyrgystan–iron/steel</text>
<text x="1801.0" y="1100.5" font-family="'Liberation Sans', Arial, Helvetica, sans-serif" font-size="27.00" text-anchor="start" fill="#000" font-weight="normal" >–70%</text>
<rect x="1391.2" y="1119.1" width="390.1" height="35.4" fill="#E94B25" stroke="#000" stroke-width="0.80" />
<text x="1417.2" y="1146.0" font-family="'Liberation Sans', Arial, Helvetica, sans-serif" font-size="16.65" text-anchor="start" fill="#fff" font-weight="normal" >China–electronics</text>
<text x="1795.7" y="1147.0" font-family="'Liberation Sans', Arial, Helvetica, sans-serif" font-size="27.00" text-anchor="start" fill="#000" font-weight="normal" >–68%</text>
<rect x="1391.2" y="1165.6" width="374.2" height="35.4" fill="#E0F5BE" stroke="#000" stroke-width="0.80" />
<text x="1417.2" y="1192.5" font-family="'Liberation Sans', Arial, Helvetica, sans-serif" font-size="16.65" text-anchor="start" fill="#000" font-weight="normal" >Ethiopia–textiles</text>
<text x="1779.2" y="1193.5" font-family="'Liberation Sans', Arial, Helvetica, sans-serif" font-size="27.00" text-anchor="start" fill="#000" font-weight="normal" >–66%</text>
<rect x="1391.2" y="1212.2" width="373.8" height="35.4" fill="#4CB04E" stroke="#000" stroke-width="0.80" />
<text x="1417.2" y="1239.1" font-family="'Liberation Sans', Arial, Helvetica, sans-serif" font-size="16.65" text-anchor="start" fill="#000" font-weight="normal" >Japan–machinery</text>
<text x="1779.2" y="1240.1" font-family="'Liberation Sans', Arial, Helvetica, sans-serif" font-size="27.00" text-anchor="start" fill="#000" font-weight="normal" >–66%</text>
<rect x="1391.2" y="1258.7" width="366.6" height="35.4" fill="#155E32" stroke="#000" stroke-width="0.80" />
<text x="1417.2" y="1285.6" font-family="'Liberation Sans', Arial, Helvetica, sans-serif" font-size="16.65" text-anchor="start" fill="#fff" font-weight="normal" >Iran–oil</text>
<text x="1771.7" y="1286.6" font-family="'Liberation Sans', Arial, Helvetica, sans-serif" font-size="27.00" text-anchor="start" fill="#000" font-weight="normal" >–64%</text>
<rect x="1391.2" y="1305.2" width="357.4" height="35.4" fill="#E0F5BE" stroke="#000" stroke-width="0.80" />
<text x="1417.2" y="1332.1" font-family="'Liberation Sans', Arial, Helvetica, sans-serif" font-size="16.65" text-anchor="start" fill="#000" font-weight="normal" >Malaysia–other manufacturing</text>
<text x="1761.7" y="1333.1" font-family="'Liberation Sans', Arial, Helvetica, sans-serif" font-size="27.00" text-anchor="start" fill="#000" font-weight="normal" >–63%</text>
<rect x="1391.2" y="1351.7" width="340.2" height="35.4" fill="#FDB54A" stroke="#000" stroke-width="0.80" />
<text x="1417.2" y="1378.6" font-family="'Liberation Sans', Arial, Helvetica, sans-serif" font-size="16.65" text-anchor="start" fill="#000" font-weight="normal" >Germany–automotive</text>
<text x="1746.5" y="1379.6" font-family="'Liberation Sans', Arial, Helvetica, sans-serif" font-size="27.00" text-anchor="start" fill="#000" font-weight="normal" >–60%</text>
<rect x="1391.2" y="1398.3" width="323.9" height="35.4" fill="#325DA8" stroke="#000" stroke-width="0.80" />
<text x="1417.2" y="1425.2" font-family="'Liberation Sans', Arial, Helvetica, sans-serif" font-size="16.65" text-anchor="start" fill="#fff" font-weight="normal" >US–finance</text>
<text x="1728.1" y="1426.2" font-family="'Liberation Sans', Arial, Helvetica, sans-serif" font-size="27.00" text-anchor="start" fill="#000" font-weight="normal" >–57%</text>
<line x1="1390.0" y1="1448.0" x2="1390.0" y2="1461.0" stroke="#000" stroke-width="1.00"/>
<line x1="1504.2" y1="1448.0" x2="1504.2" y2="1461.0" stroke="#000" stroke-width="1.00"/>
<line x1="1618.3" y1="1448.0" x2="1618.3" y2="1461.0" stroke="#000" stroke-width="1.00"/>
<line x1="1732.5" y1="1448.0" x2="1732.5" y2="1461.0" stroke="#000" stroke-width="1.00"/>
<line x1="1846.6" y1="1448.0" x2="1846.6" y2="1461.0" stroke="#000" stroke-width="1.00"/>
<line x1="1960.8" y1="1448.0" x2="1960.8" y2="1461.0" stroke="#000" stroke-width="1.00"/>
<text x="1390.0" y="1496.3" font-family="'Liberation Sans', Arial, Helvetica, sans-serif" font-size="27.00" text-anchor="middle" fill="#000" font-weight="normal" >0</text>
<text x="1618.3" y="1496.3" font-family="'Liberation Sans', Arial, Helvetica, sans-serif" font-size="27.00" text-anchor="middle" fill="#000" font-weight="normal" >–40</text>
<text x="1846.6" y="1496.3" font-family="'Liberation Sans', Arial, Helvetica, sans-serif" font-size="27.00" text-anchor="middle" fill="#000" font-weight="normal" >–80</text>
<text x="1675.4" y="1543.6" font-family="'Liberation Sans', Arial, Helvetica, sans-serif" font-size="27.00" text-anchor="middle" fill="#000" font-weight="normal" >Value-added loss (%)</text>
<text transform="translate(1389.0,944.0) scale(0.92,1)" font-family="'Liberation Sans', Arial, sans-serif" font-size="32.5" font-weight="bold">i</text>
</svg>
</body></html>
